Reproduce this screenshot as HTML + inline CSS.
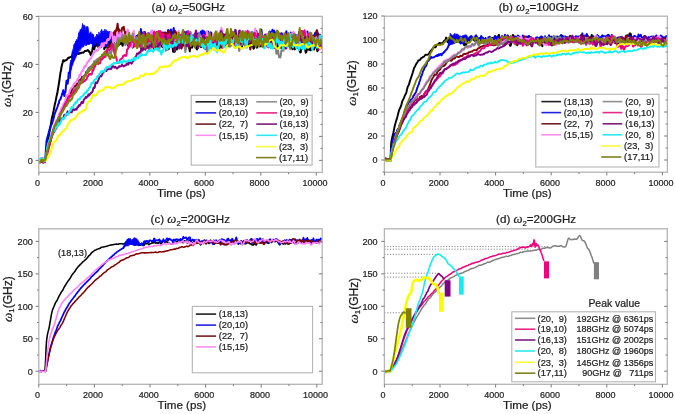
<!DOCTYPE html>
<html><head><meta charset="utf-8"><style>
html,body{margin:0;padding:0;background:#fff;width:675px;height:414px;overflow:hidden}
svg{display:block;filter:blur(0.3px)}
text{stroke:#1a1a1a;stroke-width:0.22px}
</style></head><body>
<svg width="675" height="414" viewBox="0 0 675 414">
<rect width="675" height="414" fill="#fff"/>
<clipPath id="ca"><rect x="38.80" y="16.40" width="283.50" height="156.00"/></clipPath>
<g clip-path="url(#ca)">
<path d="M38.80,161.50 L39.35,160.76 L39.91,160.20 L40.46,160.91 L41.02,161.08 L41.57,160.51 L42.13,160.39 L42.68,160.71 L43.24,161.10 L43.79,160.67 L44.35,160.47 L44.91,161.24 L45.46,159.37 L46.02,155.86 L46.57,151.96 L47.12,148.00 L47.68,143.68 L48.23,139.98 L48.79,135.82 L49.34,132.24 L49.90,129.54 L50.45,127.27 L51.01,123.45 L51.56,119.83 L52.12,117.11 L52.67,115.07 L53.23,112.33 L53.78,109.85 L54.34,107.02 L54.89,103.89 L55.45,101.91 L56.00,99.16 L56.56,96.23 L57.11,94.06 L57.67,91.04 L58.22,87.54 L58.78,84.22 L59.33,81.02 L59.89,76.71 L60.44,72.80 L61.00,70.37 L61.55,66.84 L62.11,64.43 L62.66,62.54 L63.22,60.28 L63.77,60.32 L64.33,61.15 L64.88,60.64 L65.44,60.18 L66.00,60.19 L66.55,59.81 L67.10,59.51 L67.66,58.56 L68.22,57.78 L68.77,58.00 L69.33,57.56 L69.88,57.26 L70.44,56.91 L70.99,56.99 L71.54,56.47 L72.10,55.62 L72.66,54.65 L73.21,54.58 L73.77,55.57 L74.32,55.35 L74.88,54.85 L75.43,55.55 L75.98,55.01 L76.54,54.15 L77.09,53.33 L77.65,53.44 L78.20,53.96 L78.76,54.01 L79.31,53.49 L79.87,52.73 L80.42,53.24 L80.98,53.21 L81.53,52.70 L82.09,52.58 L82.64,52.62 L83.20,52.70 L83.75,52.18 L84.31,51.74 L84.86,50.90 L85.42,50.86 L85.97,51.07 L86.53,50.79 L87.09,50.83 L87.64,50.12 L88.19,50.38 L88.75,50.78 L89.31,52.19 L89.86,51.99 L90.41,54.42 L90.97,55.23 L91.53,52.82 L92.08,51.72 L92.63,48.15 L93.19,44.62 L93.75,48.72 L94.30,49.42 L94.85,46.53 L95.41,44.99 L95.97,45.88 L96.52,45.27 L97.07,42.57 L97.63,43.49 L98.19,46.95 L98.74,45.44 L99.29,44.96 L99.85,46.39 L100.41,44.46 L100.96,44.24 L101.52,40.51 L102.07,40.84 L102.62,42.40 L103.18,43.99 L103.73,45.18 L104.29,49.21 L104.84,47.13 L105.40,44.40 L105.95,47.18 L106.51,43.69 L107.06,45.89 L107.62,42.90 L108.17,43.59 L108.73,41.33 L109.28,43.44 L109.84,46.21 L110.39,39.80 L110.95,38.11 L111.50,42.60 L112.06,44.84 L112.61,45.64 L113.17,45.85 L113.72,42.29 L114.28,44.46 L114.83,45.36 L115.39,46.88 L115.94,47.59 L116.50,46.58 L117.05,41.01 L117.61,41.15 L118.16,40.03 L118.72,42.21 L119.27,44.62 L119.83,44.26 L120.39,43.72 L120.94,42.37 L121.50,42.60 L122.05,43.62 L122.61,45.78 L123.16,42.51 L123.72,36.97 L124.27,41.43 L124.83,43.31 L125.38,38.66 L125.94,37.04 L126.49,43.09 L127.05,43.04 L127.60,44.37 L128.16,45.70 L128.71,40.57 L129.26,40.43 L129.82,41.95 L130.38,43.42 L130.93,42.07 L131.49,43.70 L132.04,44.87 L132.59,47.64 L133.15,46.61 L133.70,41.37 L134.26,43.51 L134.81,43.56 L135.37,44.39 L135.93,46.09 L136.48,45.71 L137.03,43.55 L137.59,45.07 L138.14,45.42 L138.70,43.67 L139.25,40.68 L139.81,41.34 L140.37,43.80 L140.92,47.74 L141.47,48.70 L142.03,42.69 L142.58,41.26 L143.14,43.55 L143.69,42.29 L144.25,40.65 L144.81,39.96 L145.36,40.75 L145.91,42.51 L146.47,40.70 L147.02,44.33 L147.58,41.02 L148.13,39.27 L148.69,37.13 L149.25,34.09 L149.80,36.83 L150.36,45.32 L150.91,47.06 L151.47,42.17 L152.02,43.80 L152.57,41.85 L153.13,41.01 L153.69,47.82 L154.24,49.31 L154.80,43.17 L155.35,41.63 L155.91,42.38 L156.46,42.89 L157.01,45.94 L157.57,47.46 L158.12,45.15 L158.68,46.79 L159.24,47.36 L159.79,42.38 L160.34,41.44 L160.90,42.10 L161.45,45.53 L162.01,46.48 L162.56,47.17 L163.12,46.21 L163.68,44.03 L164.23,44.72 L164.78,42.42 L165.34,39.85 L165.89,38.54 L166.45,44.68 L167.00,42.72 L167.56,43.54 L168.12,45.93 L168.67,49.23 L169.23,46.76 L169.78,43.24 L170.33,44.36 L170.89,45.16 L171.44,44.76 L172.00,42.33 L172.56,46.63 L173.11,51.73 L173.67,51.73 L174.22,51.73 L174.77,51.73 L175.33,49.11 L175.88,42.08 L176.44,44.96 L177.00,49.39 L177.55,47.74 L178.11,42.29 L178.66,42.89 L179.21,44.08 L179.77,44.23 L180.32,43.10 L180.88,40.86 L181.44,41.08 L181.99,43.46 L182.55,45.89 L183.10,43.77 L183.65,43.92 L184.21,42.32 L184.76,46.32 L185.32,45.38 L185.88,45.23 L186.43,45.78 L186.99,38.60 L187.54,38.27 L188.10,42.91 L188.65,41.96 L189.20,45.03 L189.76,51.27 L190.31,46.34 L190.87,44.28 L191.43,45.27 L191.98,47.72 L192.54,46.42 L193.09,43.95 L193.64,40.74 L194.20,42.17 L194.75,42.59 L195.31,40.78 L195.87,45.39 L196.42,48.57 L196.98,49.33 L197.53,41.62 L198.08,40.11 L198.64,41.19 L199.19,42.76 L199.75,44.74 L200.31,45.62 L200.86,46.92 L201.42,46.94 L201.97,44.61 L202.52,40.97 L203.08,42.79 L203.63,45.96 L204.19,47.96 L204.75,46.14 L205.30,40.50 L205.86,41.57 L206.41,44.11 L206.96,46.32 L207.52,47.57 L208.07,44.06 L208.63,41.23 L209.19,43.47 L209.74,43.99 L210.30,43.34 L210.85,43.87 L211.40,46.95 L211.96,45.13 L212.51,43.67 L213.07,40.69 L213.62,42.18 L214.18,38.86 L214.74,36.60 L215.29,41.18 L215.85,43.07 L216.40,41.32 L216.95,42.00 L217.51,43.42 L218.06,38.55 L218.62,34.79 L219.18,39.73 L219.73,42.69 L220.29,43.81 L220.84,42.28 L221.39,45.22 L221.95,43.96 L222.50,39.04 L223.06,40.85 L223.62,36.83 L224.17,34.93 L224.73,37.85 L225.28,37.05 L225.83,35.10 L226.39,40.60 L226.94,44.90 L227.50,46.28 L228.06,41.59 L228.61,36.61 L229.17,38.66 L229.72,44.73 L230.27,46.14 L230.83,44.24 L231.38,41.93 L231.94,41.99 L232.50,41.06 L233.05,40.87 L233.61,42.09 L234.16,41.53 L234.71,40.66 L235.27,40.39 L235.82,37.40 L236.38,34.16 L236.94,36.88 L237.49,41.47 L238.05,45.16 L238.60,43.37 L239.15,47.53 L239.71,45.99 L240.26,39.10 L240.82,38.22 L241.38,42.56 L241.93,46.86 L242.49,45.02 L243.04,43.26 L243.60,38.15 L244.15,34.33 L244.70,39.84 L245.26,45.42 L245.81,46.70 L246.37,44.16 L246.93,44.44 L247.48,46.22 L248.04,44.83 L248.59,44.94 L249.14,39.64 L249.70,37.54 L250.25,39.08 L250.81,42.69 L251.37,42.15 L251.92,43.37 L252.48,44.77 L253.03,45.95 L253.58,48.79 L254.14,47.88 L254.69,42.43 L255.25,42.46 L255.81,41.43 L256.36,41.54 L256.92,47.68 L257.47,46.64 L258.02,42.63 L258.58,41.57 L259.13,42.00 L259.69,39.45 L260.25,41.79 L260.80,46.29 L261.36,45.00 L261.91,39.93 L262.46,41.27 L263.02,44.95 L263.57,38.44 L264.13,36.44 L264.69,36.59 L265.24,40.78 L265.80,42.97 L266.35,41.59 L266.90,34.39 L267.46,36.82 L268.01,36.72 L268.57,40.92 L269.12,42.84 L269.68,46.25 L270.24,43.18 L270.79,40.32 L271.35,43.21 L271.90,39.72 L272.45,41.22 L273.01,45.66 L273.56,45.74 L274.12,44.92 L274.68,44.40 L275.23,45.89 L275.79,46.91 L276.34,46.63 L276.89,48.58 L277.45,48.83 L278.00,44.63 L278.56,43.08 L279.12,47.57 L279.67,46.23 L280.23,46.84 L280.78,46.44 L281.33,42.65 L281.89,42.62 L282.44,40.26 L283.00,43.60 L283.56,43.02 L284.11,44.08 L284.67,44.74 L285.22,42.00 L285.77,41.93 L286.33,41.07 L286.88,43.21 L287.44,45.82 L288.00,43.77 L288.55,41.39 L289.11,40.39 L289.66,44.10 L290.21,45.17 L290.77,46.93 L291.32,43.60 L291.88,47.08 L292.44,49.19 L292.99,43.93 L293.55,41.67 L294.10,47.94 L294.65,49.37 L295.21,48.70 L295.76,48.27 L296.32,45.83 L296.88,48.00 L297.43,48.00 L297.99,45.85 L298.54,47.57 L299.10,47.25 L299.65,50.77 L300.21,52.57 L300.76,52.12 L301.31,44.24 L301.87,46.24 L302.43,46.98 L302.98,47.02 L303.54,46.61 L304.09,44.72 L304.65,42.26 L305.20,49.30 L305.75,52.65 L306.31,52.05 L306.87,49.90 L307.42,43.74 L307.98,42.94 L308.53,48.17 L309.09,49.90 L309.64,45.50 L310.19,43.38 L310.75,50.31 L311.31,46.29 L311.86,45.44 L312.42,42.89 L312.97,46.19 L313.53,47.31 L314.08,49.54 L314.63,46.79 L315.19,39.99 L315.75,40.52 L316.30,45.27 L316.86,49.10 L317.41,51.17 L317.97,47.53 L318.52,45.06 L319.07,44.92 L319.63,46.13 L320.19,48.18 L320.74,46.14 L321.30,43.64" fill="none" stroke="#000000" stroke-width="2.0" stroke-linejoin="round"/>
<path d="M38.80,162.31 L39.35,161.29 L39.91,161.23 L40.46,160.61 L41.02,160.56 L41.57,161.40 L42.13,161.08 L42.68,159.89 L43.24,160.15 L43.79,160.50 L44.35,158.36 L44.91,158.32 L45.46,156.90 L46.02,147.73 L46.57,140.63 L47.12,138.40 L47.68,136.41 L48.23,134.43 L48.79,132.52 L49.34,130.42 L49.90,128.62 L50.45,126.25 L51.01,125.45 L51.56,124.42 L52.12,123.36 L52.67,121.18 L53.23,119.83 L53.78,117.42 L54.34,114.70 L54.89,113.34 L55.45,111.78 L56.00,110.35 L56.56,109.10 L57.11,107.80 L57.67,106.23 L58.22,104.21 L58.78,103.50 L59.33,100.59 L59.89,99.82 L60.44,99.15 L61.00,97.60 L61.55,95.99 L62.11,93.98 L62.66,92.68 L63.22,90.27 L63.77,93.42 L64.33,96.06 L64.88,92.56 L65.44,92.19 L66.00,85.89 L66.55,80.66 L67.10,80.61 L67.66,83.73 L68.22,80.14 L68.77,72.48 L69.33,72.99 L69.88,72.35 L70.44,67.43 L70.99,62.34 L71.54,63.36 L72.10,64.92 L72.66,62.69 L73.21,59.98 L73.77,60.34 L74.32,58.85 L74.88,54.68 L75.43,54.05 L75.98,50.53 L76.54,46.53 L77.09,41.15 L77.65,45.80 L78.20,44.48 L78.76,42.30 L79.31,38.91 L79.87,36.35 L80.42,38.45 L80.98,39.24 L81.53,39.73 L82.09,36.45 L82.64,31.91 L83.20,32.64 L83.75,35.68 L84.31,35.46 L84.86,34.96 L85.42,35.28 L85.97,38.24 L86.53,39.43 L87.09,43.15 L87.64,41.17 L88.19,36.59 L88.75,43.72 L89.31,41.51 L89.86,39.77 L90.41,41.56 L90.97,42.92 L91.53,41.60 L92.08,41.33 L92.63,42.82 L93.19,46.50 L93.75,43.81 L94.30,44.39 L94.85,43.56 L95.41,41.11 L95.97,39.35 L96.52,39.18 L97.07,41.48 L97.63,38.41 L98.19,36.71 L98.74,36.25 L99.29,36.35 L99.85,39.82 L100.41,39.98 L100.96,38.59 L101.52,42.25 L102.07,39.83 L102.62,40.39 L103.18,41.05 L103.73,43.64 L104.29,41.58 L104.84,38.09 L105.40,34.99 L105.95,34.65 L106.51,37.19 L107.06,38.39 L107.62,39.18 L108.17,36.75 L108.73,36.96 L109.28,34.39 L109.84,31.99 L110.39,36.58 L110.95,40.69 L111.50,40.33 L112.06,41.13 L112.61,39.34 L113.17,33.89 L113.72,35.94 L114.28,39.37 L114.83,34.93 L115.39,33.19 L115.94,36.83 L116.50,38.34 L117.05,37.41 L117.61,35.58 L118.16,34.09 L118.72,32.63 L119.27,32.31 L119.83,32.34 L120.39,32.46 L120.94,35.39 L121.50,40.27 L122.05,38.16 L122.61,36.86 L123.16,37.67 L123.72,35.99 L124.27,38.76 L124.83,39.68 L125.38,35.13 L125.94,36.06 L126.49,37.36 L127.05,36.10 L127.60,36.01 L128.16,39.41 L128.71,45.51 L129.26,42.92 L129.82,41.71 L130.38,42.09 L130.93,38.98 L131.49,36.83 L132.04,40.39 L132.59,40.87 L133.15,35.04 L133.70,39.22 L134.26,41.34 L134.81,37.95 L135.37,36.99 L135.93,38.34 L136.48,35.92 L137.03,38.00 L137.59,38.83 L138.14,35.90 L138.70,34.43 L139.25,36.60 L139.81,35.19 L140.37,33.81 L140.92,29.12 L141.47,34.46 L142.03,32.39 L142.58,34.64 L143.14,35.20 L143.69,33.24 L144.25,32.26 L144.81,32.00 L145.36,34.74 L145.91,37.64 L146.47,37.67 L147.02,35.37 L147.58,34.38 L148.13,33.22 L148.69,34.92 L149.25,33.94 L149.80,33.53 L150.36,37.59 L150.91,42.25 L151.47,42.74 L152.02,41.50 L152.57,35.95 L153.13,38.69 L153.69,35.50 L154.24,35.07 L154.80,33.04 L155.35,34.53 L155.91,37.38 L156.46,37.84 L157.01,36.91 L157.57,36.65 L158.12,37.64 L158.68,35.62 L159.24,33.09 L159.79,38.48 L160.34,36.18 L160.90,36.88 L161.45,34.34 L162.01,32.46 L162.56,33.53 L163.12,33.30 L163.68,36.70 L164.23,32.61 L164.78,34.30 L165.34,32.64 L165.89,34.58 L166.45,40.30 L167.00,37.08 L167.56,33.01 L168.12,30.10 L168.67,32.42 L169.23,34.28 L169.78,36.67 L170.33,30.86 L170.89,29.47 L171.44,33.69 L172.00,36.23 L172.56,38.31 L173.11,32.29 L173.67,28.06 L174.22,31.20 L174.77,31.60 L175.33,33.99 L175.88,36.78 L176.44,33.82 L177.00,38.04 L177.55,36.93 L178.11,34.94 L178.66,33.59 L179.21,34.44 L179.77,35.52 L180.32,38.59 L180.88,39.76 L181.44,37.36 L181.99,38.74 L182.55,40.54 L183.10,40.31 L183.65,39.22 L184.21,41.63 L184.76,41.33 L185.32,40.61 L185.88,36.30 L186.43,33.75 L186.99,31.86 L187.54,38.67 L188.10,37.86 L188.65,34.30 L189.20,36.07 L189.76,35.78 L190.31,32.25 L190.87,36.33 L191.43,39.48 L191.98,39.31 L192.54,35.45 L193.09,35.42 L193.64,39.00 L194.20,38.03 L194.75,34.06 L195.31,33.60 L195.87,35.54 L196.42,33.16 L196.98,33.78 L197.53,38.35 L198.08,35.76 L198.64,33.73 L199.19,36.49 L199.75,39.67 L200.31,35.64 L200.86,31.74 L201.42,31.45 L201.97,37.20 L202.52,30.44 L203.08,35.45 L203.63,32.76 L204.19,31.31 L204.75,32.48 L205.30,35.60 L205.86,38.41 L206.41,36.04 L206.96,39.43 L207.52,41.58 L208.07,31.49 L208.63,32.94 L209.19,33.27 L209.74,37.84 L210.30,33.89 L210.85,32.36 L211.40,33.35 L211.96,37.83 L212.51,40.99 L213.07,40.47 L213.62,44.34 L214.18,43.26 L214.74,39.34 L215.29,40.29 L215.85,38.85 L216.40,36.96 L216.95,32.42 L217.51,33.41 L218.06,36.14 L218.62,35.07 L219.18,38.70 L219.73,38.06 L220.29,36.11 L220.84,39.88 L221.39,39.47 L221.95,40.55 L222.50,36.95 L223.06,34.00 L223.62,38.23 L224.17,38.05 L224.73,40.38 L225.28,41.73 L225.83,40.57 L226.39,33.81 L226.94,31.22 L227.50,35.78 L228.06,38.84 L228.61,36.73 L229.17,37.60 L229.72,35.68 L230.27,36.07 L230.83,36.03 L231.38,35.77 L231.94,38.08 L232.50,38.93 L233.05,41.00 L233.61,39.14 L234.16,39.81 L234.71,37.70 L235.27,38.15 L235.82,35.87 L236.38,35.49 L236.94,39.35 L237.49,39.13 L238.05,38.19 L238.60,33.85 L239.15,31.26 L239.71,33.57 L240.26,36.06 L240.82,34.44 L241.38,38.88 L241.93,35.03 L242.49,39.80 L243.04,43.09 L243.60,32.41 L244.15,33.47 L244.70,39.67 L245.26,38.73 L245.81,38.89 L246.37,39.35 L246.93,42.47 L247.48,40.83 L248.04,37.78 L248.59,37.06 L249.14,35.43 L249.70,36.09 L250.25,33.05 L250.81,38.25 L251.37,38.85 L251.92,42.86 L252.48,40.89 L253.03,35.57 L253.58,38.38 L254.14,36.41 L254.69,37.39 L255.25,39.53 L255.81,38.46 L256.36,38.35 L256.92,37.61 L257.47,34.72 L258.02,34.96 L258.58,38.13 L259.13,38.99 L259.69,36.68 L260.25,36.29 L260.80,33.00 L261.36,29.68 L261.91,33.59 L262.46,36.89 L263.02,38.21 L263.57,40.00 L264.13,40.61 L264.69,40.52 L265.24,39.14 L265.80,38.14 L266.35,35.99 L266.90,37.80 L267.46,38.44 L268.01,38.93 L268.57,33.29 L269.12,33.39 L269.68,31.41 L270.24,32.46 L270.79,32.25 L271.35,35.22 L271.90,32.70 L272.45,29.65 L273.01,36.26 L273.56,32.55 L274.12,30.69 L274.68,33.21 L275.23,32.93 L275.79,32.78 L276.34,36.60 L276.89,36.11 L277.45,38.65 L278.00,39.13 L278.56,38.82 L279.12,37.68 L279.67,36.76 L280.23,37.14 L280.78,39.61 L281.33,33.19 L281.89,33.55 L282.44,35.77 L283.00,38.54 L283.56,38.17 L284.11,36.54 L284.67,37.65 L285.22,41.18 L285.77,35.18 L286.33,31.16 L286.88,39.45 L287.44,35.60 L288.00,35.52 L288.55,35.95 L289.11,33.99 L289.66,38.27 L290.21,35.60 L290.77,32.51 L291.32,35.74 L291.88,36.84 L292.44,35.93 L292.99,35.72 L293.55,32.65 L294.10,36.31 L294.65,34.70 L295.21,37.63 L295.76,34.71 L296.32,36.90 L296.88,41.79 L297.43,37.66 L297.99,38.29 L298.54,36.20 L299.10,32.62 L299.65,37.78 L300.21,37.71 L300.76,32.43 L301.31,33.27 L301.87,31.35 L302.43,34.21 L302.98,37.38 L303.54,35.40 L304.09,32.00 L304.65,32.53 L305.20,35.00 L305.75,35.62 L306.31,36.31 L306.87,36.11 L307.42,31.55 L307.98,35.44 L308.53,39.01 L309.09,37.46 L309.64,34.28 L310.19,34.29 L310.75,36.58 L311.31,37.98 L311.86,37.70 L312.42,41.20 L312.97,40.07 L313.53,35.54 L314.08,36.83 L314.63,34.99 L315.19,32.75 L315.75,33.93 L316.30,34.47 L316.86,30.56 L317.41,33.36 L317.97,35.97 L318.52,34.09 L319.07,34.92 L319.63,37.53 L320.19,36.15 L320.74,37.20 L321.30,40.58" fill="none" stroke="#0000f8" stroke-width="2.0" stroke-linejoin="round"/>
<path d="M69.88,70.23 L70.21,63.62 L70.55,62.59 L70.88,60.02 L71.21,61.09 L71.54,58.99 L71.88,53.40 L72.21,51.35 L72.54,50.81 L72.88,49.38 L73.21,49.67 L73.54,47.06 L73.88,44.61 L74.21,44.36 L74.54,47.44 L74.88,43.08 L75.21,44.26 L75.54,41.19 L75.87,45.73 L76.21,41.08 L76.54,39.33 L76.87,42.64 L77.21,41.21 L77.54,41.26 L77.87,37.33 L78.20,36.52 L78.54,33.40 L78.87,34.21 L79.20,31.62 L79.54,34.77 L79.87,31.60 L80.20,29.60 L80.54,30.12 L80.87,29.40 L81.20,28.93 L81.53,28.33 L81.87,27.79 L82.20,26.52 L82.53,23.48 L82.87,30.53 L83.20,26.12 L83.53,26.48 L83.87,24.79 L84.20,27.95 L84.53,25.72 L84.86,25.70 L85.20,27.25 L85.53,31.25 L85.86,31.30 L86.20,26.66 L86.53,26.63 L86.86,27.53 L87.20,26.31 L87.53,28.71 L87.86,26.89 L88.19,28.27 L88.53,29.68 L88.86,34.41 L89.19,33.23 L89.53,36.28 L89.86,32.78 L90.19,33.43 L90.53,35.21 L90.86,31.71 L91.19,34.25 L91.53,33.93 L91.86,35.49 L92.19,35.35 L92.52,33.63 L92.86,39.55 L93.19,34.47 L93.52,34.63 L93.86,36.92 L94.19,37.01 L94.52,40.44 L94.85,38.13 L95.19,37.43 L95.52,36.47 L95.85,37.48 L96.19,40.09 L96.52,34.37 L96.85,35.36 L97.19,34.26 L97.52,36.04 L97.85,35.36 L98.19,36.84 L98.52,36.44 L98.85,31.92 L99.18,33.39 L99.52,33.39 L99.85,35.58 L100.18,33.68 L100.52,33.76 L100.85,30.92 L101.18,31.83 L101.52,29.43 L101.85,29.45 L102.18,31.54 L102.51,33.15 L102.85,31.22 L103.18,32.92 L103.51,34.63 L103.85,30.64 L104.18,32.43 L104.51,30.45 L104.84,29.19 L105.18,29.94 L105.51,32.55 L105.84,32.37 L106.18,29.70 L106.51,30.51 L106.84,32.98 L107.18,31.27 L107.51,31.28 L107.84,34.04 L108.17,31.27 L108.51,32.59 L108.84,32.45 L109.17,32.98 L109.51,34.93 L109.84,34.50 L110.17,35.92 L110.51,35.89 L110.84,38.17 L111.17,39.72 L111.50,35.95 L111.84,36.30 L112.17,35.83 L112.50,36.99 L112.84,37.47 L112.84,40.44 L112.50,42.05 L112.17,34.22 L111.84,40.84 L111.50,40.76 L111.17,40.66 L110.84,33.66 L110.51,39.50 L110.17,38.58 L109.84,40.42 L109.51,40.85 L109.17,42.09 L108.84,39.92 L108.51,42.58 L108.17,44.56 L107.84,43.58 L107.51,46.01 L107.18,44.45 L106.84,46.53 L106.51,46.31 L106.18,46.51 L105.84,47.03 L105.51,45.53 L105.18,44.21 L104.84,45.40 L104.51,46.42 L104.18,45.14 L103.85,42.99 L103.51,46.90 L103.18,46.16 L102.85,45.04 L102.51,45.58 L102.18,43.83 L101.85,47.30 L101.52,47.67 L101.18,47.81 L100.85,46.18 L100.52,47.40 L100.18,48.20 L99.85,47.26 L99.52,47.05 L99.18,44.77 L98.85,45.83 L98.52,45.07 L98.19,45.73 L97.85,45.69 L97.52,44.84 L97.19,44.66 L96.85,41.49 L96.52,42.91 L96.19,41.24 L95.85,40.27 L95.52,41.02 L95.19,43.96 L94.85,42.09 L94.52,40.93 L94.19,43.41 L93.86,44.84 L93.52,43.70 L93.19,43.66 L92.86,42.57 L92.52,45.07 L92.19,43.80 L91.86,34.91 L91.53,42.96 L91.19,43.83 L90.86,42.94 L90.53,36.85 L90.19,42.08 L89.86,42.88 L89.53,41.14 L89.19,44.66 L88.86,41.18 L88.53,42.02 L88.19,44.93 L87.86,44.46 L87.53,44.45 L87.20,41.72 L86.86,41.64 L86.53,45.68 L86.20,44.67 L85.86,45.32 L85.53,39.37 L85.20,45.63 L84.86,45.38 L84.53,43.81 L84.20,42.80 L83.87,46.63 L83.53,46.83 L83.20,42.69 L82.87,45.60 L82.53,46.09 L82.20,47.61 L81.87,45.95 L81.53,47.25 L81.20,48.45 L80.87,49.30 L80.54,49.29 L80.20,47.63 L79.87,51.12 L79.54,48.00 L79.20,49.37 L78.87,50.98 L78.54,51.63 L78.20,53.48 L77.87,53.88 L77.54,53.78 L77.21,54.71 L76.87,52.62 L76.54,55.96 L76.21,51.38 L75.87,57.58 L75.54,47.03 L75.21,57.29 L74.88,59.49 L74.54,59.63 L74.21,60.15 L73.88,58.94 L73.54,60.74 L73.21,59.98 L72.88,62.38 L72.54,61.23 L72.21,64.51 L71.88,66.26 L71.54,69.12 L71.21,69.86 L70.88,70.86 L70.55,73.45 L70.21,78.59 L69.88,78.76 Z" fill="#0000f8" stroke="#0000f8" stroke-width="0.8" stroke-linejoin="round"/>
<path d="M38.80,160.70 L39.35,160.93 L39.91,161.54 L40.46,160.85 L41.02,159.62 L41.57,158.90 L42.13,159.71 L42.68,160.21 L43.24,159.79 L43.79,159.59 L44.35,159.39 L44.91,160.03 L45.46,159.70 L46.02,157.21 L46.57,154.63 L47.12,152.14 L47.68,150.09 L48.23,148.90 L48.79,147.05 L49.34,145.03 L49.90,143.12 L50.45,140.33 L51.01,138.44 L51.56,137.28 L52.12,134.24 L52.67,132.02 L53.23,130.47 L53.78,127.92 L54.34,126.62 L54.89,126.73 L55.45,124.59 L56.00,123.04 L56.56,121.66 L57.11,120.35 L57.67,120.05 L58.22,119.11 L58.78,117.92 L59.33,116.47 L59.89,115.05 L60.44,114.49 L61.00,112.89 L61.55,110.55 L62.11,109.30 L62.66,108.53 L63.22,108.64 L63.77,107.20 L64.33,105.49 L64.88,104.01 L65.44,102.82 L66.00,101.03 L66.55,100.27 L67.10,99.40 L67.66,98.19 L68.22,96.95 L68.77,96.23 L69.33,94.56 L69.88,93.78 L70.44,93.26 L70.99,92.40 L71.54,91.07 L72.10,89.75 L72.66,88.97 L73.21,88.48 L73.77,87.66 L74.32,87.04 L74.88,86.01 L75.43,86.43 L75.98,86.64 L76.54,84.31 L77.09,83.95 L77.65,84.23 L78.20,83.31 L78.76,82.10 L79.31,79.82 L79.87,80.05 L80.42,80.73 L80.98,79.26 L81.53,78.15 L82.09,76.78 L82.64,77.97 L83.20,78.31 L83.75,76.37 L84.31,75.42 L84.86,75.29 L85.42,75.20 L85.97,72.80 L86.53,71.45 L87.09,72.27 L87.64,70.69 L88.19,69.79 L88.75,67.92 L89.31,68.09 L89.86,68.05 L90.41,66.83 L90.97,66.59 L91.53,66.62 L92.08,65.71 L92.63,65.99 L93.19,65.68 L93.75,63.28 L94.30,63.53 L94.85,63.52 L95.41,62.86 L95.97,63.39 L96.52,62.95 L97.07,61.75 L97.63,60.83 L98.19,59.60 L98.74,58.56 L99.29,58.68 L99.85,57.86 L100.41,57.46 L100.96,57.81 L101.52,57.05 L102.07,56.53 L102.62,54.97 L103.18,54.32 L103.73,54.65 L104.29,55.13 L104.84,53.83 L105.40,53.06 L105.95,51.22 L106.51,51.26 L107.06,51.08 L107.62,47.95 L108.17,47.07 L108.73,47.56 L109.28,45.09 L109.84,45.89 L110.39,45.76 L110.95,44.60 L111.50,45.15 L112.06,43.91 L112.61,40.21 L113.17,33.96 L113.72,32.45 L114.28,34.34 L114.83,31.12 L115.39,32.38 L115.94,31.19 L116.50,28.96 L117.05,27.34 L117.61,23.70 L118.16,29.23 L118.72,33.17 L119.27,29.37 L119.83,32.00 L120.39,36.19 L120.94,40.02 L121.50,31.49 L122.05,28.12 L122.61,28.13 L123.16,27.14 L123.72,26.83 L124.27,30.51 L124.83,31.59 L125.38,35.58 L125.94,35.24 L126.49,32.12 L127.05,34.91 L127.60,39.43 L128.16,37.46 L128.71,38.46 L129.26,39.94 L129.82,38.20 L130.38,40.74 L130.93,44.45 L131.49,41.58 L132.04,36.16 L132.59,40.95 L133.15,38.83 L133.70,36.14 L134.26,37.54 L134.81,42.04 L135.37,40.87 L135.93,38.05 L136.48,37.15 L137.03,41.14 L137.59,41.87 L138.14,36.05 L138.70,34.31 L139.25,37.24 L139.81,39.81 L140.37,38.15 L140.92,37.31 L141.47,37.55 L142.03,41.48 L142.58,39.96 L143.14,40.36 L143.69,41.96 L144.25,39.29 L144.81,38.90 L145.36,39.58 L145.91,39.56 L146.47,42.62 L147.02,40.02 L147.58,37.40 L148.13,36.57 L148.69,36.85 L149.25,43.00 L149.80,44.44 L150.36,39.45 L150.91,35.31 L151.47,31.78 L152.02,35.92 L152.57,40.09 L153.13,38.55 L153.69,42.12 L154.24,41.37 L154.80,32.39 L155.35,34.31 L155.91,35.37 L156.46,34.16 L157.01,32.09 L157.57,34.27 L158.12,35.37 L158.68,41.18 L159.24,41.49 L159.79,33.59 L160.34,31.42 L160.90,34.28 L161.45,36.16 L162.01,37.41 L162.56,37.59 L163.12,32.82 L163.68,33.17 L164.23,34.45 L164.78,34.26 L165.34,32.89 L165.89,33.51 L166.45,35.18 L167.00,38.62 L167.56,33.95 L168.12,31.21 L168.67,35.63 L169.23,36.13 L169.78,32.76 L170.33,31.94 L170.89,35.12 L171.44,39.99 L172.00,38.05 L172.56,40.60 L173.11,40.02 L173.67,36.78 L174.22,36.81 L174.77,32.36 L175.33,31.20 L175.88,32.18 L176.44,36.84 L177.00,41.93 L177.55,43.71 L178.11,44.60 L178.66,44.40 L179.21,45.36 L179.77,44.53 L180.32,43.92 L180.88,46.43 L181.44,48.54 L181.99,47.14 L182.55,42.27 L183.10,40.61 L183.65,38.24 L184.21,38.68 L184.76,41.78 L185.32,42.38 L185.88,43.72 L186.43,36.21 L186.99,37.11 L187.54,43.14 L188.10,45.92 L188.65,44.73 L189.20,48.46 L189.76,45.88 L190.31,40.97 L190.87,41.67 L191.43,42.39 L191.98,40.67 L192.54,43.48 L193.09,42.32 L193.64,43.47 L194.20,43.79 L194.75,41.62 L195.31,41.47 L195.87,36.86 L196.42,38.52 L196.98,36.58 L197.53,41.28 L198.08,41.32 L198.64,45.04 L199.19,45.67 L199.75,41.04 L200.31,39.89 L200.86,42.49 L201.42,39.35 L201.97,41.64 L202.52,40.59 L203.08,38.83 L203.63,40.22 L204.19,43.42 L204.75,37.06 L205.30,37.71 L205.86,42.23 L206.41,45.78 L206.96,48.00 L207.52,45.82 L208.07,40.93 L208.63,42.37 L209.19,44.86 L209.74,41.93 L210.30,37.28 L210.85,40.88 L211.40,41.61 L211.96,37.34 L212.51,38.48 L213.07,41.38 L213.62,44.85 L214.18,47.98 L214.74,47.23 L215.29,44.61 L215.85,42.56 L216.40,40.45 L216.95,39.69 L217.51,40.57 L218.06,42.36 L218.62,47.22 L219.18,50.28 L219.73,47.28 L220.29,46.61 L220.84,45.82 L221.39,45.50 L221.95,47.78 L222.50,47.35 L223.06,44.09 L223.62,43.13 L224.17,43.90 L224.73,42.07 L225.28,43.72 L225.83,45.49 L226.39,41.34 L226.94,37.35 L227.50,40.80 L228.06,37.67 L228.61,35.10 L229.17,36.67 L229.72,40.35 L230.27,36.41 L230.83,39.42 L231.38,42.26 L231.94,41.79 L232.50,39.92 L233.05,40.82 L233.61,40.61 L234.16,38.76 L234.71,43.41 L235.27,44.52 L235.82,39.69 L236.38,37.77 L236.94,38.85 L237.49,42.59 L238.05,39.12 L238.60,37.49 L239.15,37.33 L239.71,43.27 L240.26,42.58 L240.82,43.86 L241.38,47.01 L241.93,43.82 L242.49,39.07 L243.04,41.76 L243.60,42.22 L244.15,37.57 L244.70,35.45 L245.26,36.92 L245.81,41.15 L246.37,39.66 L246.93,37.44 L247.48,41.11 L248.04,41.30 L248.59,36.11 L249.14,35.16 L249.70,43.71 L250.25,49.50 L250.81,47.24 L251.37,43.81 L251.92,39.92 L252.48,37.55 L253.03,39.47 L253.58,41.00 L254.14,40.23 L254.69,41.66 L255.25,40.56 L255.81,37.94 L256.36,30.96 L256.92,34.50 L257.47,41.29 L258.02,43.04 L258.58,42.86 L259.13,44.83 L259.69,43.30 L260.25,40.74 L260.80,37.33 L261.36,39.88 L261.91,42.85 L262.46,44.70 L263.02,43.70 L263.57,40.43 L264.13,38.42 L264.69,36.40 L265.24,38.51 L265.80,36.31 L266.35,37.46 L266.90,41.21 L267.46,46.71 L268.01,44.71 L268.57,37.61 L269.12,34.92 L269.68,37.31 L270.24,38.37 L270.79,41.50 L271.35,43.08 L271.90,42.50 L272.45,38.95 L273.01,39.96 L273.56,42.55 L274.12,42.77 L274.68,40.81 L275.23,41.84 L275.79,42.95 L276.34,38.34 L276.89,40.23 L277.45,40.84 L278.00,37.36 L278.56,38.21 L279.12,41.17 L279.67,42.06 L280.23,45.62 L280.78,47.37 L281.33,48.00 L281.89,42.43 L282.44,45.13 L283.00,42.09 L283.56,43.90 L284.11,44.81 L284.67,42.12 L285.22,39.43 L285.77,36.67 L286.33,34.32 L286.88,36.74 L287.44,38.16 L288.00,40.69 L288.55,39.03 L289.11,40.03 L289.66,42.03 L290.21,41.60 L290.77,40.87 L291.32,39.90 L291.88,39.99 L292.44,42.57 L292.99,42.71 L293.55,41.11 L294.10,45.41 L294.65,42.60 L295.21,39.54 L295.76,47.44 L296.32,44.51 L296.88,40.74 L297.43,41.75 L297.99,36.92 L298.54,43.49 L299.10,36.85 L299.65,33.23 L300.21,36.00 L300.76,39.50 L301.31,40.33 L301.87,41.82 L302.43,40.16 L302.98,43.19 L303.54,41.48 L304.09,39.19 L304.65,43.21 L305.20,42.68 L305.75,41.89 L306.31,43.06 L306.87,38.12 L307.42,39.72 L307.98,44.24 L308.53,42.52 L309.09,42.80 L309.64,42.18 L310.19,40.44 L310.75,40.03 L311.31,37.35 L311.86,38.56 L312.42,36.15 L312.97,36.42 L313.53,36.16 L314.08,39.30 L314.63,41.22 L315.19,41.34 L315.75,36.60 L316.30,32.68 L316.86,30.32 L317.41,32.35 L317.97,36.95 L318.52,39.10 L319.07,38.53 L319.63,37.88 L320.19,34.83 L320.74,36.96 L321.30,42.67" fill="none" stroke="#800000" stroke-width="2.0" stroke-linejoin="round"/>
<path d="M38.80,160.12 L39.35,159.56 L39.91,160.36 L40.46,160.57 L41.02,160.49 L41.57,159.93 L42.13,160.85 L42.68,159.94 L43.24,158.42 L43.79,159.14 L44.35,159.53 L44.91,160.21 L45.46,159.49 L46.02,156.11 L46.57,153.22 L47.12,151.26 L47.68,147.91 L48.23,144.60 L48.79,143.00 L49.34,142.88 L49.90,141.37 L50.45,139.13 L51.01,135.57 L51.56,133.45 L52.12,132.24 L52.67,131.86 L53.23,130.58 L53.78,128.16 L54.34,126.52 L54.89,125.43 L55.45,123.30 L56.00,121.30 L56.56,120.37 L57.11,120.28 L57.67,119.50 L58.22,116.85 L58.78,114.74 L59.33,113.59 L59.89,112.53 L60.44,111.07 L61.00,108.96 L61.55,107.84 L62.11,106.94 L62.66,106.39 L63.22,104.99 L63.77,103.43 L64.33,102.98 L64.88,102.05 L65.44,99.86 L66.00,97.56 L66.55,96.46 L67.10,95.10 L67.66,94.98 L68.22,94.78 L68.77,94.40 L69.33,92.53 L69.88,90.09 L70.44,89.31 L70.99,88.37 L71.54,87.58 L72.10,87.29 L72.66,86.67 L73.21,85.46 L73.77,84.15 L74.32,83.30 L74.88,82.58 L75.43,82.24 L75.98,82.07 L76.54,81.26 L77.09,80.30 L77.65,78.97 L78.20,79.42 L78.76,77.25 L79.31,74.65 L79.87,75.34 L80.42,75.46 L80.98,73.62 L81.53,71.79 L82.09,71.41 L82.64,70.42 L83.20,69.78 L83.75,68.41 L84.31,66.18 L84.86,66.40 L85.42,66.73 L85.97,65.73 L86.53,64.11 L87.09,62.82 L87.64,61.79 L88.19,61.67 L88.75,61.61 L89.31,59.86 L89.86,59.06 L90.41,58.59 L90.97,58.27 L91.53,56.94 L92.08,55.67 L92.63,54.60 L93.19,54.19 L93.75,52.60 L94.30,51.77 L94.85,51.95 L95.41,51.43 L95.97,50.56 L96.52,49.73 L97.07,50.88 L97.63,50.06 L98.19,49.76 L98.74,48.42 L99.29,47.13 L99.85,47.31 L100.41,47.06 L100.96,46.50 L101.52,43.82 L102.07,43.19 L102.62,43.85 L103.18,46.59 L103.73,46.05 L104.29,42.68 L104.84,42.96 L105.40,42.96 L105.95,42.39 L106.51,43.24 L107.06,40.04 L107.62,39.20 L108.17,39.02 L108.73,39.99 L109.28,38.53 L109.84,38.65 L110.39,34.39 L110.95,31.83 L111.50,32.42 L112.06,33.72 L112.61,37.17 L113.17,43.32 L113.72,37.26 L114.28,36.46 L114.83,36.82 L115.39,38.81 L115.94,41.64 L116.50,39.00 L117.05,33.83 L117.61,32.58 L118.16,38.34 L118.72,39.13 L119.27,34.92 L119.83,36.50 L120.39,32.34 L120.94,36.48 L121.50,39.45 L122.05,34.36 L122.61,33.59 L123.16,39.21 L123.72,35.49 L124.27,36.22 L124.83,34.88 L125.38,40.04 L125.94,43.44 L126.49,38.00 L127.05,33.23 L127.60,29.58 L128.16,30.60 L128.71,35.16 L129.26,39.49 L129.82,41.23 L130.38,41.47 L130.93,42.41 L131.49,43.67 L132.04,46.95 L132.59,41.39 L133.15,36.46 L133.70,30.77 L134.26,34.91 L134.81,39.67 L135.37,40.06 L135.93,44.03 L136.48,45.46 L137.03,45.33 L137.59,37.77 L138.14,38.84 L138.70,43.90 L139.25,41.53 L139.81,37.92 L140.37,38.43 L140.92,40.66 L141.47,44.37 L142.03,44.25 L142.58,41.02 L143.14,39.61 L143.69,44.22 L144.25,44.58 L144.81,40.19 L145.36,41.83 L145.91,38.66 L146.47,38.27 L147.02,36.13 L147.58,33.84 L148.13,35.94 L148.69,38.50 L149.25,43.16 L149.80,42.62 L150.36,37.17 L150.91,32.83 L151.47,31.07 L152.02,30.34 L152.57,35.33 L153.13,36.76 L153.69,35.41 L154.24,37.49 L154.80,39.59 L155.35,40.44 L155.91,37.35 L156.46,39.70 L157.01,38.94 L157.57,40.49 L158.12,37.04 L158.68,38.93 L159.24,38.06 L159.79,42.26 L160.34,39.73 L160.90,35.88 L161.45,39.32 L162.01,39.60 L162.56,42.47 L163.12,45.92 L163.68,40.08 L164.23,38.70 L164.78,41.56 L165.34,39.79 L165.89,42.55 L166.45,43.67 L167.00,41.60 L167.56,39.60 L168.12,35.37 L168.67,41.40 L169.23,38.32 L169.78,38.44 L170.33,46.68 L170.89,46.59 L171.44,40.39 L172.00,39.87 L172.56,37.31 L173.11,35.58 L173.67,39.97 L174.22,45.18 L174.77,46.97 L175.33,41.54 L175.88,40.26 L176.44,37.52 L177.00,37.89 L177.55,39.29 L178.11,32.11 L178.66,30.95 L179.21,34.31 L179.77,39.88 L180.32,39.83 L180.88,39.32 L181.44,39.67 L181.99,39.94 L182.55,36.11 L183.10,34.90 L183.65,35.47 L184.21,36.04 L184.76,32.81 L185.32,37.35 L185.88,45.08 L186.43,41.23 L186.99,36.21 L187.54,33.74 L188.10,36.48 L188.65,38.14 L189.20,38.10 L189.76,35.85 L190.31,38.14 L190.87,40.04 L191.43,39.52 L191.98,37.18 L192.54,40.47 L193.09,42.88 L193.64,38.80 L194.20,39.45 L194.75,37.71 L195.31,35.87 L195.87,33.70 L196.42,35.20 L196.98,40.04 L197.53,41.77 L198.08,41.70 L198.64,35.15 L199.19,34.73 L199.75,34.94 L200.31,40.82 L200.86,43.95 L201.42,36.39 L201.97,36.70 L202.52,37.83 L203.08,37.23 L203.63,35.52 L204.19,37.20 L204.75,40.73 L205.30,36.47 L205.86,38.24 L206.41,37.18 L206.96,31.33 L207.52,32.79 L208.07,39.00 L208.63,42.87 L209.19,38.10 L209.74,35.64 L210.30,38.40 L210.85,42.30 L211.40,42.82 L211.96,42.31 L212.51,37.77 L213.07,34.32 L213.62,34.96 L214.18,39.10 L214.74,37.82 L215.29,37.04 L215.85,39.36 L216.40,36.94 L216.95,31.60 L217.51,34.15 L218.06,35.35 L218.62,38.13 L219.18,39.76 L219.73,42.57 L220.29,37.74 L220.84,31.13 L221.39,27.81 L221.95,30.02 L222.50,33.21 L223.06,36.45 L223.62,38.67 L224.17,37.34 L224.73,36.06 L225.28,37.77 L225.83,36.30 L226.39,41.34 L226.94,45.14 L227.50,44.64 L228.06,45.53 L228.61,42.76 L229.17,36.37 L229.72,37.28 L230.27,36.41 L230.83,33.20 L231.38,33.76 L231.94,37.09 L232.50,34.52 L233.05,35.93 L233.61,37.69 L234.16,38.87 L234.71,43.41 L235.27,42.72 L235.82,39.30 L236.38,37.40 L236.94,39.26 L237.49,38.35 L238.05,34.32 L238.60,32.42 L239.15,33.38 L239.71,34.36 L240.26,38.78 L240.82,39.59 L241.38,38.26 L241.93,39.48 L242.49,38.34 L243.04,33.91 L243.60,37.80 L244.15,40.20 L244.70,35.06 L245.26,30.99 L245.81,33.37 L246.37,33.31 L246.93,37.05 L247.48,38.94 L248.04,38.74 L248.59,35.03 L249.14,31.32 L249.70,35.15 L250.25,32.50 L250.81,36.64 L251.37,35.77 L251.92,31.94 L252.48,31.79 L253.03,35.06 L253.58,39.25 L254.14,36.63 L254.69,35.00 L255.25,28.58 L255.81,33.01 L256.36,36.29 L256.92,39.60 L257.47,40.03 L258.02,39.67 L258.58,35.17 L259.13,35.96 L259.69,36.36 L260.25,39.33 L260.80,38.53 L261.36,35.72 L261.91,41.72 L262.46,44.54 L263.02,40.67 L263.57,42.35 L264.13,40.52 L264.69,37.61 L265.24,39.67 L265.80,37.99 L266.35,38.64 L266.90,33.94 L267.46,34.13 L268.01,39.50 L268.57,41.38 L269.12,41.94 L269.68,38.58 L270.24,37.37 L270.79,41.80 L271.35,39.89 L271.90,43.88 L272.45,45.69 L273.01,43.98 L273.56,35.31 L274.12,37.20 L274.68,39.62 L275.23,40.56 L275.79,39.59 L276.34,44.91 L276.89,39.46 L277.45,33.36 L278.00,38.22 L278.56,39.02 L279.12,38.21 L279.67,40.95 L280.23,38.88 L280.78,35.89 L281.33,36.89 L281.89,37.80 L282.44,39.01 L283.00,37.86 L283.56,36.32 L284.11,33.03 L284.67,34.80 L285.22,40.67 L285.77,44.94 L286.33,37.67 L286.88,35.98 L287.44,41.98 L288.00,46.02 L288.55,42.43 L289.11,37.31 L289.66,40.33 L290.21,39.72 L290.77,35.98 L291.32,33.46 L291.88,36.21 L292.44,38.14 L292.99,37.26 L293.55,31.75 L294.10,32.44 L294.65,37.93 L295.21,42.52 L295.76,40.73 L296.32,37.32 L296.88,38.04 L297.43,35.10 L297.99,35.13 L298.54,35.50 L299.10,34.80 L299.65,36.42 L300.21,40.06 L300.76,37.24 L301.31,32.50 L301.87,39.57 L302.43,39.54 L302.98,35.65 L303.54,38.51 L304.09,42.35 L304.65,42.72 L305.20,37.17 L305.75,33.41 L306.31,33.17 L306.87,35.98 L307.42,36.75 L307.98,40.90 L308.53,40.44 L309.09,40.90 L309.64,38.55 L310.19,35.65 L310.75,36.16 L311.31,39.67 L311.86,36.92 L312.42,40.39 L312.97,42.94 L313.53,42.28 L314.08,43.61 L314.63,40.11 L315.19,38.08 L315.75,38.31 L316.30,37.40 L316.86,38.83 L317.41,40.16 L317.97,42.58 L318.52,40.46 L319.07,41.06 L319.63,40.23 L320.19,38.42 L320.74,39.06 L321.30,44.12" fill="none" stroke="#ff80ff" stroke-width="2.0" stroke-linejoin="round"/>
<path d="M38.80,161.11 L39.35,162.83 L39.91,162.83 L40.46,162.36 L41.02,160.69 L41.57,161.31 L42.13,161.91 L42.68,161.86 L43.24,160.86 L43.79,161.16 L44.35,161.57 L44.91,162.22 L45.46,159.28 L46.02,156.39 L46.57,153.72 L47.12,151.08 L47.68,149.55 L48.23,147.36 L48.79,144.59 L49.34,142.68 L49.90,141.22 L50.45,139.42 L51.01,137.58 L51.56,134.97 L52.12,132.97 L52.67,131.46 L53.23,129.59 L53.78,129.73 L54.34,127.64 L54.89,124.98 L55.45,124.92 L56.00,124.19 L56.56,121.20 L57.11,120.21 L57.67,119.97 L58.22,118.24 L58.78,117.97 L59.33,117.19 L59.89,115.36 L60.44,114.34 L61.00,113.61 L61.55,112.34 L62.11,111.31 L62.66,109.67 L63.22,108.28 L63.77,107.08 L64.33,107.08 L64.88,107.12 L65.44,106.13 L66.00,103.94 L66.55,101.61 L67.10,101.13 L67.66,101.14 L68.22,100.02 L68.77,99.74 L69.33,98.14 L69.88,97.44 L70.44,96.09 L70.99,95.26 L71.54,94.94 L72.10,94.20 L72.66,93.94 L73.21,92.33 L73.77,89.54 L74.32,88.38 L74.88,88.07 L75.43,88.86 L75.98,88.54 L76.54,87.18 L77.09,87.62 L77.65,86.58 L78.20,85.09 L78.76,84.41 L79.31,82.09 L79.87,81.37 L80.42,81.94 L80.98,81.83 L81.53,81.65 L82.09,80.65 L82.64,78.46 L83.20,77.13 L83.75,76.54 L84.31,76.13 L84.86,75.80 L85.42,75.06 L85.97,75.04 L86.53,73.25 L87.09,71.06 L87.64,70.49 L88.19,71.05 L88.75,70.20 L89.31,68.05 L89.86,67.40 L90.41,68.71 L90.97,67.85 L91.53,66.12 L92.08,64.99 L92.63,65.16 L93.19,64.11 L93.75,63.04 L94.30,61.10 L94.85,61.35 L95.41,61.68 L95.97,61.01 L96.52,59.55 L97.07,59.36 L97.63,59.91 L98.19,59.34 L98.74,59.57 L99.29,59.25 L99.85,59.10 L100.41,58.69 L100.96,57.90 L101.52,57.17 L102.07,55.69 L102.62,55.03 L103.18,55.61 L103.73,55.74 L104.29,54.98 L104.84,56.23 L105.40,55.84 L105.95,53.56 L106.51,52.23 L107.06,51.89 L107.62,53.25 L108.17,54.57 L108.73,53.22 L109.28,51.41 L109.84,52.54 L110.39,53.30 L110.95,53.97 L111.50,51.90 L112.06,46.74 L112.61,46.35 L113.17,49.73 L113.72,49.78 L114.28,46.51 L114.83,43.62 L115.39,45.83 L115.94,46.15 L116.50,50.04 L117.05,46.84 L117.61,39.37 L118.16,37.97 L118.72,43.57 L119.27,42.80 L119.83,38.51 L120.39,40.65 L120.94,41.20 L121.50,38.17 L122.05,36.86 L122.61,34.54 L123.16,36.16 L123.72,40.58 L124.27,40.72 L124.83,41.61 L125.38,45.33 L125.94,43.39 L126.49,39.41 L127.05,42.58 L127.60,37.76 L128.16,37.67 L128.71,39.06 L129.26,37.43 L129.82,36.13 L130.38,35.77 L130.93,40.28 L131.49,41.70 L132.04,39.30 L132.59,33.60 L133.15,36.70 L133.70,43.65 L134.26,44.71 L134.81,44.79 L135.37,42.77 L135.93,39.27 L136.48,37.17 L137.03,45.46 L137.59,41.84 L138.14,42.27 L138.70,46.33 L139.25,46.56 L139.81,46.65 L140.37,44.40 L140.92,43.64 L141.47,47.80 L142.03,43.36 L142.58,43.67 L143.14,40.62 L143.69,41.25 L144.25,40.56 L144.81,41.38 L145.36,41.75 L145.91,45.67 L146.47,48.09 L147.02,44.01 L147.58,40.62 L148.13,40.63 L148.69,50.44 L149.25,47.73 L149.80,44.10 L150.36,48.71 L150.91,44.95 L151.47,36.63 L152.02,38.45 L152.57,43.83 L153.13,38.88 L153.69,37.23 L154.24,38.95 L154.80,40.75 L155.35,42.80 L155.91,46.00 L156.46,44.49 L157.01,40.36 L157.57,38.74 L158.12,36.30 L158.68,43.98 L159.24,50.94 L159.79,45.85 L160.34,41.30 L160.90,40.57 L161.45,42.48 L162.01,43.24 L162.56,39.15 L163.12,42.13 L163.68,41.32 L164.23,44.16 L164.78,45.48 L165.34,42.56 L165.89,50.63 L166.45,48.15 L167.00,42.92 L167.56,42.61 L168.12,40.77 L168.67,42.54 L169.23,41.58 L169.78,36.03 L170.33,40.78 L170.89,44.30 L171.44,46.87 L172.00,45.05 L172.56,40.00 L173.11,39.18 L173.67,41.79 L174.22,43.22 L174.77,42.20 L175.33,46.91 L175.88,45.04 L176.44,43.85 L177.00,44.49 L177.55,42.82 L178.11,44.42 L178.66,42.70 L179.21,35.37 L179.77,35.28 L180.32,36.19 L180.88,38.42 L181.44,36.84 L181.99,35.75 L182.55,33.13 L183.10,31.75 L183.65,38.39 L184.21,40.32 L184.76,44.90 L185.32,52.12 L185.88,49.40 L186.43,41.49 L186.99,38.86 L187.54,39.94 L188.10,35.45 L188.65,34.85 L189.20,38.01 L189.76,33.54 L190.31,31.94 L190.87,37.42 L191.43,40.98 L191.98,36.59 L192.54,39.49 L193.09,41.55 L193.64,41.00 L194.20,40.76 L194.75,36.53 L195.31,35.21 L195.87,34.97 L196.42,38.36 L196.98,43.05 L197.53,41.59 L198.08,38.95 L198.64,38.30 L199.19,32.64 L199.75,39.86 L200.31,42.82 L200.86,38.32 L201.42,38.77 L201.97,42.21 L202.52,43.25 L203.08,41.05 L203.63,39.23 L204.19,40.36 L204.75,43.25 L205.30,41.70 L205.86,39.90 L206.41,44.26 L206.96,51.90 L207.52,51.83 L208.07,48.32 L208.63,45.70 L209.19,42.75 L209.74,40.12 L210.30,41.09 L210.85,43.61 L211.40,42.02 L211.96,38.81 L212.51,43.46 L213.07,41.65 L213.62,37.98 L214.18,43.22 L214.74,49.74 L215.29,45.40 L215.85,44.71 L216.40,43.12 L216.95,39.57 L217.51,40.87 L218.06,42.54 L218.62,40.09 L219.18,40.59 L219.73,41.90 L220.29,41.71 L220.84,42.34 L221.39,44.44 L221.95,44.97 L222.50,44.66 L223.06,47.52 L223.62,46.59 L224.17,40.10 L224.73,41.79 L225.28,42.74 L225.83,42.52 L226.39,41.87 L226.94,41.41 L227.50,41.93 L228.06,42.51 L228.61,39.29 L229.17,40.51 L229.72,39.86 L230.27,46.42 L230.83,44.41 L231.38,37.88 L231.94,39.68 L232.50,41.47 L233.05,40.31 L233.61,42.67 L234.16,43.33 L234.71,47.74 L235.27,44.81 L235.82,42.14 L236.38,38.10 L236.94,37.61 L237.49,40.21 L238.05,36.84 L238.60,43.22 L239.15,50.90 L239.71,49.24 L240.26,38.51 L240.82,39.91 L241.38,43.66 L241.93,44.99 L242.49,43.36 L243.04,37.13 L243.60,36.81 L244.15,34.57 L244.70,41.46 L245.26,47.17 L245.81,40.56 L246.37,40.60 L246.93,39.35 L247.48,35.29 L248.04,37.59 L248.59,36.35 L249.14,39.46 L249.70,41.82 L250.25,39.74 L250.81,39.73 L251.37,35.16 L251.92,34.88 L252.48,37.38 L253.03,36.66 L253.58,37.06 L254.14,38.46 L254.69,36.73 L255.25,38.11 L255.81,38.33 L256.36,41.28 L256.92,39.23 L257.47,38.39 L258.02,41.56 L258.58,41.82 L259.13,40.38 L259.69,37.98 L260.25,39.92 L260.80,36.51 L261.36,33.13 L261.91,38.05 L262.46,43.95 L263.02,39.59 L263.57,36.11 L264.13,37.77 L264.69,35.30 L265.24,35.67 L265.80,37.76 L266.35,40.68 L266.90,42.08 L267.46,41.21 L268.01,39.33 L268.57,37.58 L269.12,38.25 L269.68,40.36 L270.24,39.75 L270.79,40.68 L271.35,46.03 L271.90,45.58 L272.45,44.04 L273.01,42.09 L273.56,41.73 L274.12,43.19 L274.68,44.84 L275.23,42.83 L275.79,46.64 L276.34,53.63 L276.89,53.51 L277.45,53.60 L278.00,49.24 L278.56,54.35 L279.12,57.22 L279.67,56.91 L280.23,57.50 L280.78,55.29 L281.33,50.52 L281.89,51.12 L282.44,49.06 L283.00,48.62 L283.56,50.84 L284.11,43.99 L284.67,42.25 L285.22,42.74 L285.77,44.99 L286.33,40.78 L286.88,40.41 L287.44,40.47 L288.00,34.13 L288.55,37.35 L289.11,41.29 L289.66,39.88 L290.21,36.63 L290.77,35.55 L291.32,36.24 L291.88,34.58 L292.44,36.25 L292.99,44.20 L293.55,45.54 L294.10,45.13 L294.65,40.73 L295.21,36.24 L295.76,39.47 L296.32,45.35 L296.88,43.68 L297.43,40.55 L297.99,43.88 L298.54,44.12 L299.10,44.99 L299.65,48.71 L300.21,43.19 L300.76,41.56 L301.31,43.13 L301.87,47.86 L302.43,48.75 L302.98,46.92 L303.54,43.93 L304.09,43.15 L304.65,40.91 L305.20,35.68 L305.75,37.43 L306.31,44.19 L306.87,43.31 L307.42,37.32 L307.98,38.80 L308.53,34.84 L309.09,34.31 L309.64,40.38 L310.19,41.27 L310.75,40.64 L311.31,43.15 L311.86,43.61 L312.42,40.18 L312.97,36.65 L313.53,39.10 L314.08,40.13 L314.63,41.75 L315.19,41.94 L315.75,38.14 L316.30,45.71 L316.86,43.39 L317.41,40.00 L317.97,42.85 L318.52,38.06 L319.07,36.37 L319.63,41.66 L320.19,42.38 L320.74,43.98 L321.30,40.81" fill="none" stroke="#808080" stroke-width="2.0" stroke-linejoin="round"/>
<path d="M38.80,160.67 L39.35,160.58 L39.91,161.02 L40.46,161.25 L41.02,160.93 L41.57,161.31 L42.13,161.44 L42.68,162.21 L43.24,162.92 L43.79,162.47 L44.35,161.95 L44.91,161.18 L45.46,159.67 L46.02,158.82 L46.57,156.46 L47.12,154.71 L47.68,152.43 L48.23,150.15 L48.79,148.13 L49.34,146.15 L49.90,143.14 L50.45,140.78 L51.01,139.27 L51.56,137.23 L52.12,133.87 L52.67,133.39 L53.23,132.20 L53.78,128.97 L54.34,127.79 L54.89,126.90 L55.45,124.69 L56.00,123.52 L56.56,122.15 L57.11,121.38 L57.67,120.68 L58.22,118.35 L58.78,117.56 L59.33,117.47 L59.89,115.93 L60.44,113.64 L61.00,112.98 L61.55,111.72 L62.11,110.20 L62.66,109.89 L63.22,109.77 L63.77,107.35 L64.33,105.48 L64.88,104.25 L65.44,103.07 L66.00,102.84 L66.55,101.73 L67.10,100.57 L67.66,100.41 L68.22,98.38 L68.77,97.19 L69.33,96.81 L69.88,95.69 L70.44,95.90 L70.99,96.25 L71.54,94.53 L72.10,93.83 L72.66,93.29 L73.21,92.41 L73.77,91.04 L74.32,91.06 L74.88,91.35 L75.43,90.06 L75.98,89.34 L76.54,89.82 L77.09,89.42 L77.65,88.78 L78.20,88.08 L78.76,86.54 L79.31,84.84 L79.87,83.52 L80.42,83.31 L80.98,83.03 L81.53,82.37 L82.09,82.08 L82.64,82.55 L83.20,81.65 L83.75,81.17 L84.31,81.10 L84.86,80.87 L85.42,80.27 L85.97,79.66 L86.53,79.18 L87.09,77.43 L87.64,76.61 L88.19,75.85 L88.75,74.81 L89.31,74.09 L89.86,74.25 L90.41,73.99 L90.97,74.62 L91.53,74.49 L92.08,73.00 L92.63,70.25 L93.19,70.63 L93.75,68.68 L94.30,67.04 L94.85,67.03 L95.41,65.10 L95.97,63.89 L96.52,63.49 L97.07,62.44 L97.63,63.26 L98.19,63.92 L98.74,62.94 L99.29,63.01 L99.85,63.31 L100.41,61.84 L100.96,58.97 L101.52,59.47 L102.07,59.35 L102.62,58.84 L103.18,57.77 L103.73,57.23 L104.29,57.06 L104.84,57.18 L105.40,56.69 L105.95,55.15 L106.51,52.83 L107.06,50.56 L107.62,49.92 L108.17,49.23 L108.73,49.57 L109.28,50.01 L109.84,50.05 L110.39,48.91 L110.95,48.38 L111.50,45.67 L112.06,43.45 L112.61,44.29 L113.17,45.80 L113.72,49.08 L114.28,52.41 L114.83,54.42 L115.39,56.09 L115.94,56.80 L116.50,58.42 L117.05,61.74 L117.61,62.80 L118.16,62.57 L118.72,62.62 L119.27,62.51 L119.83,60.87 L120.39,59.45 L120.94,58.91 L121.50,59.02 L122.05,58.10 L122.61,57.75 L123.16,55.70 L123.72,55.99 L124.27,55.50 L124.83,55.06 L125.38,55.19 L125.94,55.97 L126.49,55.03 L127.05,49.65 L127.60,49.29 L128.16,48.19 L128.71,45.10 L129.26,47.00 L129.82,46.39 L130.38,44.75 L130.93,41.32 L131.49,40.77 L132.04,41.28 L132.59,41.85 L133.15,39.87 L133.70,39.88 L134.26,46.41 L134.81,44.09 L135.37,42.75 L135.93,44.10 L136.48,45.99 L137.03,41.08 L137.59,42.12 L138.14,42.01 L138.70,43.29 L139.25,45.66 L139.81,44.57 L140.37,46.38 L140.92,44.31 L141.47,41.07 L142.03,39.29 L142.58,38.82 L143.14,36.94 L143.69,32.25 L144.25,36.81 L144.81,43.04 L145.36,43.25 L145.91,42.45 L146.47,41.63 L147.02,42.70 L147.58,41.38 L148.13,35.97 L148.69,38.63 L149.25,41.39 L149.80,41.51 L150.36,39.58 L150.91,35.53 L151.47,35.93 L152.02,39.17 L152.57,47.35 L153.13,40.38 L153.69,33.39 L154.24,31.53 L154.80,37.87 L155.35,42.45 L155.91,38.50 L156.46,40.62 L157.01,43.79 L157.57,39.53 L158.12,32.90 L158.68,31.05 L159.24,33.94 L159.79,36.09 L160.34,31.22 L160.90,37.55 L161.45,39.56 L162.01,39.87 L162.56,34.02 L163.12,33.46 L163.68,34.03 L164.23,36.39 L164.78,37.79 L165.34,39.61 L165.89,42.70 L166.45,36.58 L167.00,35.41 L167.56,39.11 L168.12,39.19 L168.67,36.77 L169.23,34.01 L169.78,36.69 L170.33,39.88 L170.89,43.22 L171.44,45.97 L172.00,43.72 L172.56,41.17 L173.11,41.03 L173.67,39.66 L174.22,37.62 L174.77,37.93 L175.33,38.25 L175.88,37.70 L176.44,38.78 L177.00,39.34 L177.55,40.13 L178.11,42.90 L178.66,38.65 L179.21,40.67 L179.77,37.41 L180.32,36.29 L180.88,34.69 L181.44,37.49 L181.99,39.15 L182.55,34.89 L183.10,35.29 L183.65,36.18 L184.21,35.29 L184.76,32.68 L185.32,32.90 L185.88,36.71 L186.43,41.51 L186.99,39.40 L187.54,34.98 L188.10,30.89 L188.65,33.85 L189.20,35.51 L189.76,33.73 L190.31,36.30 L190.87,37.39 L191.43,38.58 L191.98,40.82 L192.54,35.84 L193.09,35.74 L193.64,39.28 L194.20,41.20 L194.75,36.92 L195.31,34.20 L195.87,39.50 L196.42,41.51 L196.98,39.90 L197.53,45.11 L198.08,47.31 L198.64,43.05 L199.19,41.54 L199.75,40.82 L200.31,40.39 L200.86,38.70 L201.42,39.95 L201.97,41.55 L202.52,40.44 L203.08,36.76 L203.63,34.74 L204.19,35.02 L204.75,40.06 L205.30,49.26 L205.86,46.73 L206.41,41.99 L206.96,41.50 L207.52,43.27 L208.07,37.39 L208.63,38.63 L209.19,41.76 L209.74,41.10 L210.30,42.28 L210.85,42.75 L211.40,40.49 L211.96,43.04 L212.51,46.04 L213.07,44.23 L213.62,42.74 L214.18,42.57 L214.74,38.87 L215.29,40.37 L215.85,35.18 L216.40,36.74 L216.95,41.88 L217.51,39.62 L218.06,36.92 L218.62,40.95 L219.18,43.98 L219.73,39.39 L220.29,36.11 L220.84,42.46 L221.39,40.68 L221.95,40.55 L222.50,41.85 L223.06,42.81 L223.62,41.55 L224.17,38.03 L224.73,39.59 L225.28,42.27 L225.83,39.36 L226.39,43.24 L226.94,40.78 L227.50,39.16 L228.06,37.37 L228.61,38.08 L229.17,37.88 L229.72,39.30 L230.27,37.91 L230.83,36.85 L231.38,34.90 L231.94,39.46 L232.50,37.43 L233.05,37.96 L233.61,40.18 L234.16,41.66 L234.71,41.39 L235.27,45.81 L235.82,45.25 L236.38,41.08 L236.94,42.34 L237.49,37.30 L238.05,38.59 L238.60,38.68 L239.15,38.15 L239.71,37.79 L240.26,39.35 L240.82,39.75 L241.38,37.56 L241.93,33.33 L242.49,31.37 L243.04,31.53 L243.60,34.55 L244.15,38.50 L244.70,40.88 L245.26,35.14 L245.81,33.21 L246.37,35.17 L246.93,32.28 L247.48,30.76 L248.04,32.76 L248.59,32.05 L249.14,35.56 L249.70,41.22 L250.25,39.63 L250.81,37.31 L251.37,35.94 L251.92,38.82 L252.48,39.66 L253.03,39.98 L253.58,37.70 L254.14,35.54 L254.69,32.99 L255.25,33.36 L255.81,35.52 L256.36,36.29 L256.92,36.73 L257.47,35.68 L258.02,35.80 L258.58,44.12 L259.13,41.07 L259.69,36.71 L260.25,36.16 L260.80,40.64 L261.36,38.41 L261.91,37.15 L262.46,42.28 L263.02,46.75 L263.57,44.84 L264.13,44.09 L264.69,41.10 L265.24,41.16 L265.80,36.83 L266.35,40.30 L266.90,44.78 L267.46,45.78 L268.01,45.80 L268.57,40.96 L269.12,37.94 L269.68,40.74 L270.24,41.06 L270.79,44.03 L271.35,40.09 L271.90,36.49 L272.45,42.38 L273.01,38.25 L273.56,38.72 L274.12,47.04 L274.68,48.04 L275.23,43.88 L275.79,38.59 L276.34,39.98 L276.89,39.38 L277.45,36.87 L278.00,37.37 L278.56,37.99 L279.12,37.94 L279.67,36.03 L280.23,37.63 L280.78,34.43 L281.33,38.43 L281.89,40.43 L282.44,37.09 L283.00,38.80 L283.56,44.15 L284.11,41.97 L284.67,43.95 L285.22,42.46 L285.77,38.96 L286.33,41.04 L286.88,39.89 L287.44,38.58 L288.00,34.71 L288.55,39.69 L289.11,45.10 L289.66,45.99 L290.21,44.32 L290.77,41.08 L291.32,39.32 L291.88,37.32 L292.44,38.68 L292.99,39.37 L293.55,39.22 L294.10,39.76 L294.65,38.27 L295.21,36.23 L295.76,36.98 L296.32,42.07 L296.88,45.91 L297.43,43.12 L297.99,41.50 L298.54,46.18 L299.10,41.82 L299.65,37.83 L300.21,40.00 L300.76,39.37 L301.31,31.55 L301.87,31.04 L302.43,34.35 L302.98,31.33 L303.54,32.08 L304.09,35.31 L304.65,30.26 L305.20,36.51 L305.75,39.14 L306.31,40.01 L306.87,38.95 L307.42,40.67 L307.98,37.28 L308.53,33.90 L309.09,36.04 L309.64,36.90 L310.19,34.93 L310.75,38.80 L311.31,37.47 L311.86,39.23 L312.42,39.51 L312.97,39.80 L313.53,40.23 L314.08,41.75 L314.63,44.13 L315.19,43.42 L315.75,40.99 L316.30,42.82 L316.86,46.19 L317.41,46.02 L317.97,44.90 L318.52,42.72 L319.07,41.46 L319.63,42.22 L320.19,43.88 L320.74,44.24 L321.30,49.25" fill="none" stroke="#f00080" stroke-width="2.0" stroke-linejoin="round"/>
<path d="M38.80,159.98 L39.35,161.48 L39.91,159.44 L40.46,160.55 L41.02,161.75 L41.57,160.19 L42.13,158.38 L42.68,159.90 L43.24,161.83 L43.79,161.18 L44.35,160.17 L44.91,161.72 L45.46,160.20 L46.02,156.63 L46.57,152.69 L47.12,151.29 L47.68,148.97 L48.23,148.20 L48.79,146.34 L49.34,143.02 L49.90,141.80 L50.45,141.64 L51.01,138.62 L51.56,136.71 L52.12,136.09 L52.67,134.31 L53.23,132.92 L53.78,132.37 L54.34,131.55 L54.89,130.43 L55.45,129.38 L56.00,128.85 L56.56,127.55 L57.11,127.13 L57.67,125.39 L58.22,124.53 L58.78,124.03 L59.33,121.45 L59.89,119.30 L60.44,119.62 L61.00,120.74 L61.55,118.82 L62.11,118.36 L62.66,118.42 L63.22,118.14 L63.77,116.65 L64.33,114.80 L64.88,114.83 L65.44,115.49 L66.00,115.41 L66.55,114.38 L67.10,112.46 L67.66,111.42 L68.22,112.96 L68.77,112.69 L69.33,112.50 L69.88,112.26 L70.44,111.01 L70.99,110.90 L71.54,112.29 L72.10,111.64 L72.66,109.52 L73.21,109.31 L73.77,109.50 L74.32,110.11 L74.88,109.80 L75.43,109.02 L75.98,109.48 L76.54,109.58 L77.09,108.02 L77.65,106.92 L78.20,107.18 L78.76,105.41 L79.31,104.96 L79.87,105.59 L80.42,104.64 L80.98,103.51 L81.53,102.21 L82.09,101.94 L82.64,103.08 L83.20,102.35 L83.75,99.84 L84.31,99.20 L84.86,98.61 L85.42,97.67 L85.97,96.91 L86.53,97.79 L87.09,96.62 L87.64,96.60 L88.19,95.04 L88.75,94.29 L89.31,95.45 L89.86,94.27 L90.41,93.66 L90.97,93.03 L91.53,92.31 L92.08,92.34 L92.63,91.19 L93.19,88.69 L93.75,87.51 L94.30,88.01 L94.85,87.06 L95.41,83.23 L95.97,82.35 L96.52,82.82 L97.07,83.19 L97.63,81.95 L98.19,80.38 L98.74,79.36 L99.29,76.84 L99.85,76.34 L100.41,76.11 L100.96,76.46 L101.52,75.93 L102.07,74.67 L102.62,73.11 L103.18,72.62 L103.73,72.06 L104.29,71.06 L104.84,70.16 L105.40,69.23 L105.95,70.33 L106.51,70.98 L107.06,69.61 L107.62,68.32 L108.17,69.28 L108.73,69.29 L109.28,69.04 L109.84,68.34 L110.39,68.40 L110.95,69.05 L111.50,68.31 L112.06,66.83 L112.61,66.18 L113.17,66.16 L113.72,66.53 L114.28,67.52 L114.83,67.40 L115.39,66.76 L115.94,67.80 L116.50,67.87 L117.05,68.56 L117.61,67.72 L118.16,67.53 L118.72,67.35 L119.27,66.15 L119.83,66.52 L120.39,66.43 L120.94,66.23 L121.50,65.82 L122.05,64.48 L122.61,65.24 L123.16,65.60 L123.72,66.43 L124.27,66.01 L124.83,65.53 L125.38,65.45 L125.94,65.35 L126.49,64.24 L127.05,63.15 L127.60,64.16 L128.16,64.64 L128.71,63.81 L129.26,61.34 L129.82,61.40 L130.38,62.43 L130.93,62.90 L131.49,63.63 L132.04,62.88 L132.59,61.64 L133.15,61.00 L133.70,60.87 L134.26,59.63 L134.81,57.44 L135.37,56.96 L135.93,57.59 L136.48,55.21 L137.03,53.41 L137.59,53.91 L138.14,53.68 L138.70,53.71 L139.25,52.26 L139.81,52.86 L140.37,52.77 L140.92,50.65 L141.47,48.40 L142.03,50.04 L142.58,50.63 L143.14,48.97 L143.69,47.83 L144.25,47.20 L144.81,49.24 L145.36,49.77 L145.91,48.22 L146.47,46.89 L147.02,46.21 L147.58,46.17 L148.13,47.89 L148.69,47.69 L149.25,46.36 L149.80,45.19 L150.36,45.17 L150.91,46.30 L151.47,46.49 L152.02,43.90 L152.57,41.51 L153.13,40.53 L153.69,42.27 L154.24,42.45 L154.80,46.48 L155.35,47.40 L155.91,47.26 L156.46,47.33 L157.01,48.04 L157.57,47.24 L158.12,45.99 L158.68,45.55 L159.24,43.35 L159.79,44.28 L160.34,43.08 L160.90,39.19 L161.45,41.52 L162.01,43.57 L162.56,44.16 L163.12,43.35 L163.68,42.89 L164.23,44.40 L164.78,38.48 L165.34,35.01 L165.89,37.84 L166.45,45.40 L167.00,49.78 L167.56,46.21 L168.12,41.73 L168.67,39.64 L169.23,42.25 L169.78,41.60 L170.33,37.90 L170.89,41.03 L171.44,37.80 L172.00,38.95 L172.56,44.92 L173.11,43.08 L173.67,44.59 L174.22,48.02 L174.77,51.20 L175.33,48.78 L175.88,42.31 L176.44,41.73 L177.00,41.84 L177.55,44.71 L178.11,43.65 L178.66,44.12 L179.21,48.46 L179.77,47.73 L180.32,40.81 L180.88,40.43 L181.44,43.35 L181.99,40.71 L182.55,35.63 L183.10,33.83 L183.65,39.95 L184.21,36.24 L184.76,31.74 L185.32,35.54 L185.88,38.14 L186.43,45.91 L186.99,38.77 L187.54,41.40 L188.10,46.40 L188.65,39.22 L189.20,34.93 L189.76,34.12 L190.31,35.72 L190.87,41.16 L191.43,45.04 L191.98,44.57 L192.54,42.31 L193.09,41.35 L193.64,43.22 L194.20,41.41 L194.75,38.38 L195.31,36.65 L195.87,30.54 L196.42,32.57 L196.98,43.49 L197.53,46.41 L198.08,47.97 L198.64,46.02 L199.19,41.50 L199.75,44.56 L200.31,45.36 L200.86,41.26 L201.42,37.80 L201.97,40.33 L202.52,40.11 L203.08,36.24 L203.63,36.27 L204.19,36.45 L204.75,37.38 L205.30,42.43 L205.86,41.80 L206.41,41.54 L206.96,37.30 L207.52,38.50 L208.07,42.66 L208.63,39.87 L209.19,43.12 L209.74,39.32 L210.30,41.42 L210.85,46.71 L211.40,47.99 L211.96,45.11 L212.51,43.83 L213.07,44.24 L213.62,42.86 L214.18,46.33 L214.74,43.72 L215.29,44.10 L215.85,47.78 L216.40,44.27 L216.95,48.43 L217.51,50.70 L218.06,46.22 L218.62,40.90 L219.18,37.70 L219.73,38.44 L220.29,33.04 L220.84,30.98 L221.39,31.75 L221.95,32.56 L222.50,36.74 L223.06,39.58 L223.62,36.09 L224.17,34.40 L224.73,37.20 L225.28,41.44 L225.83,43.97 L226.39,38.22 L226.94,38.63 L227.50,42.98 L228.06,39.36 L228.61,36.41 L229.17,37.31 L229.72,35.25 L230.27,36.97 L230.83,43.28 L231.38,40.78 L231.94,35.86 L232.50,32.63 L233.05,34.27 L233.61,42.89 L234.16,39.30 L234.71,33.42 L235.27,29.81 L235.82,30.59 L236.38,38.45 L236.94,40.35 L237.49,39.73 L238.05,36.29 L238.60,38.21 L239.15,32.08 L239.71,30.47 L240.26,35.54 L240.82,43.63 L241.38,40.04 L241.93,35.95 L242.49,40.37 L243.04,38.78 L243.60,35.83 L244.15,33.01 L244.70,34.16 L245.26,36.04 L245.81,38.31 L246.37,37.98 L246.93,37.10 L247.48,35.44 L248.04,36.34 L248.59,36.59 L249.14,41.31 L249.70,36.14 L250.25,35.89 L250.81,34.15 L251.37,35.26 L251.92,33.05 L252.48,32.40 L253.03,38.04 L253.58,38.64 L254.14,38.44 L254.69,39.65 L255.25,43.89 L255.81,41.23 L256.36,40.48 L256.92,41.86 L257.47,42.17 L258.02,42.72 L258.58,35.25 L259.13,33.51 L259.69,33.28 L260.25,41.97 L260.80,45.08 L261.36,43.14 L261.91,46.19 L262.46,43.29 L263.02,44.03 L263.57,43.27 L264.13,41.09 L264.69,38.92 L265.24,34.47 L265.80,38.97 L266.35,44.60 L266.90,41.94 L267.46,45.66 L268.01,45.06 L268.57,47.38 L269.12,44.77 L269.68,38.93 L270.24,42.82 L270.79,45.16 L271.35,44.50 L271.90,41.23 L272.45,37.83 L273.01,44.73 L273.56,45.80 L274.12,42.06 L274.68,45.66 L275.23,41.91 L275.79,36.40 L276.34,38.93 L276.89,42.19 L277.45,43.86 L278.00,44.36 L278.56,42.40 L279.12,37.95 L279.67,33.47 L280.23,35.04 L280.78,41.06 L281.33,42.10 L281.89,40.64 L282.44,46.25 L283.00,44.62 L283.56,43.90 L284.11,46.56 L284.67,45.85 L285.22,43.78 L285.77,48.53 L286.33,48.26 L286.88,45.82 L287.44,44.70 L288.00,45.96 L288.55,40.83 L289.11,42.67 L289.66,44.23 L290.21,44.89 L290.77,46.21 L291.32,44.78 L291.88,38.53 L292.44,39.22 L292.99,39.78 L293.55,38.07 L294.10,40.77 L294.65,38.62 L295.21,39.96 L295.76,41.65 L296.32,39.46 L296.88,42.54 L297.43,39.36 L297.99,40.28 L298.54,36.11 L299.10,32.03 L299.65,34.95 L300.21,39.30 L300.76,39.22 L301.31,40.75 L301.87,43.88 L302.43,43.23 L302.98,38.66 L303.54,38.41 L304.09,43.91 L304.65,40.31 L305.20,37.07 L305.75,39.27 L306.31,41.58 L306.87,38.91 L307.42,42.34 L307.98,37.83 L308.53,37.07 L309.09,46.11 L309.64,42.74 L310.19,40.21 L310.75,41.73 L311.31,44.96 L311.86,45.95 L312.42,47.30 L312.97,42.70 L313.53,40.83 L314.08,44.69 L314.63,46.41 L315.19,44.44 L315.75,41.99 L316.30,41.20 L316.86,41.43 L317.41,42.80 L317.97,49.06 L318.52,50.03 L319.07,40.57 L319.63,37.05 L320.19,44.89 L320.74,44.47 L321.30,39.34" fill="none" stroke="#800080" stroke-width="2.0" stroke-linejoin="round"/>
<path d="M38.80,160.37 L39.35,160.82 L39.91,159.28 L40.46,158.24 L41.02,158.98 L41.57,160.21 L42.13,159.24 L42.68,159.20 L43.24,160.69 L43.79,161.67 L44.35,159.60 L44.91,158.93 L45.46,158.28 L46.02,156.87 L46.57,153.53 L47.12,148.66 L47.68,145.50 L48.23,143.53 L48.79,141.92 L49.34,140.17 L49.90,139.26 L50.45,138.17 L51.01,137.04 L51.56,135.36 L52.12,134.16 L52.67,132.37 L53.23,131.66 L53.78,131.33 L54.34,129.66 L54.89,130.00 L55.45,128.58 L56.00,126.86 L56.56,126.66 L57.11,127.61 L57.67,125.18 L58.22,123.32 L58.78,123.29 L59.33,124.92 L59.89,123.83 L60.44,122.32 L61.00,121.20 L61.55,119.71 L62.11,119.56 L62.66,118.13 L63.22,118.02 L63.77,118.97 L64.33,118.36 L64.88,116.99 L65.44,115.48 L66.00,114.27 L66.55,114.01 L67.10,113.56 L67.66,114.99 L68.22,114.68 L68.77,112.90 L69.33,111.13 L69.88,111.06 L70.44,110.73 L70.99,108.74 L71.54,107.08 L72.10,107.77 L72.66,108.16 L73.21,107.00 L73.77,104.69 L74.32,104.61 L74.88,103.77 L75.43,102.50 L75.98,102.29 L76.54,102.69 L77.09,101.12 L77.65,100.11 L78.20,99.60 L78.76,99.06 L79.31,99.38 L79.87,98.90 L80.42,98.16 L80.98,97.02 L81.53,96.89 L82.09,96.25 L82.64,96.28 L83.20,95.39 L83.75,94.65 L84.31,93.85 L84.86,93.08 L85.42,92.69 L85.97,92.69 L86.53,92.68 L87.09,90.54 L87.64,90.29 L88.19,89.93 L88.75,89.13 L89.31,87.69 L89.86,87.58 L90.41,86.07 L90.97,84.32 L91.53,83.16 L92.08,82.86 L92.63,83.21 L93.19,83.40 L93.75,81.27 L94.30,80.06 L94.85,79.66 L95.41,79.30 L95.97,79.31 L96.52,78.80 L97.07,76.94 L97.63,76.23 L98.19,76.71 L98.74,75.27 L99.29,74.39 L99.85,73.52 L100.41,72.94 L100.96,71.85 L101.52,71.18 L102.07,71.40 L102.62,72.15 L103.18,70.84 L103.73,70.73 L104.29,70.93 L104.84,69.97 L105.40,70.05 L105.95,68.23 L106.51,67.19 L107.06,67.90 L107.62,67.15 L108.17,66.75 L108.73,66.90 L109.28,67.54 L109.84,66.35 L110.39,65.70 L110.95,65.21 L111.50,65.01 L112.06,64.29 L112.61,64.23 L113.17,63.68 L113.72,63.10 L114.28,63.37 L114.83,63.04 L115.39,63.13 L115.94,63.16 L116.50,63.32 L117.05,62.27 L117.61,61.71 L118.16,62.16 L118.72,61.78 L119.27,62.09 L119.83,62.82 L120.39,61.72 L120.94,60.97 L121.50,62.32 L122.05,63.19 L122.61,62.14 L123.16,61.48 L123.72,60.17 L124.27,60.90 L124.83,61.48 L125.38,61.66 L125.94,61.30 L126.49,61.69 L127.05,61.84 L127.60,61.36 L128.16,61.03 L128.71,60.11 L129.26,61.02 L129.82,60.87 L130.38,61.07 L130.93,60.79 L131.49,59.45 L132.04,60.41 L132.59,59.26 L133.15,59.91 L133.70,58.76 L134.26,57.72 L134.81,60.09 L135.37,59.77 L135.93,57.65 L136.48,57.77 L137.03,58.27 L137.59,58.12 L138.14,58.16 L138.70,56.95 L139.25,55.84 L139.81,56.46 L140.37,55.96 L140.92,54.51 L141.47,53.97 L142.03,55.17 L142.58,55.08 L143.14,55.20 L143.69,55.08 L144.25,54.65 L144.81,54.73 L145.36,55.36 L145.91,55.18 L146.47,53.71 L147.02,52.10 L147.58,51.20 L148.13,51.89 L148.69,51.61 L149.25,50.67 L149.80,50.43 L150.36,50.86 L150.91,50.40 L151.47,49.39 L152.02,50.51 L152.57,51.42 L153.13,51.72 L153.69,50.51 L154.24,49.81 L154.80,48.81 L155.35,49.55 L155.91,49.08 L156.46,48.24 L157.01,48.33 L157.57,50.32 L158.12,48.62 L158.68,49.43 L159.24,50.53 L159.79,51.09 L160.34,51.46 L160.90,52.81 L161.45,54.65 L162.01,50.73 L162.56,50.17 L163.12,51.92 L163.68,48.33 L164.23,42.68 L164.78,45.79 L165.34,47.44 L165.89,44.27 L166.45,48.69 L167.00,49.43 L167.56,49.24 L168.12,47.10 L168.67,43.46 L169.23,43.90 L169.78,47.14 L170.33,46.14 L170.89,45.02 L171.44,45.58 L172.00,45.39 L172.56,46.83 L173.11,46.49 L173.67,44.87 L174.22,45.48 L174.77,42.46 L175.33,43.35 L175.88,45.71 L176.44,45.21 L177.00,43.90 L177.55,42.32 L178.11,41.41 L178.66,42.75 L179.21,42.64 L179.77,36.79 L180.32,36.87 L180.88,39.16 L181.44,38.42 L181.99,40.42 L182.55,42.75 L183.10,39.78 L183.65,33.40 L184.21,36.08 L184.76,39.61 L185.32,43.25 L185.88,40.10 L186.43,35.93 L186.99,39.13 L187.54,38.90 L188.10,38.23 L188.65,38.78 L189.20,37.81 L189.76,40.54 L190.31,41.97 L190.87,41.32 L191.43,34.46 L191.98,37.98 L192.54,39.36 L193.09,37.41 L193.64,41.12 L194.20,42.27 L194.75,43.20 L195.31,41.81 L195.87,41.14 L196.42,39.40 L196.98,41.11 L197.53,43.11 L198.08,42.74 L198.64,42.49 L199.19,42.15 L199.75,38.60 L200.31,38.79 L200.86,42.48 L201.42,45.82 L201.97,44.28 L202.52,46.77 L203.08,44.59 L203.63,44.50 L204.19,47.19 L204.75,48.68 L205.30,45.81 L205.86,39.84 L206.41,44.17 L206.96,45.41 L207.52,42.53 L208.07,42.47 L208.63,43.73 L209.19,50.01 L209.74,47.34 L210.30,37.15 L210.85,43.07 L211.40,46.89 L211.96,45.02 L212.51,44.21 L213.07,48.40 L213.62,46.38 L214.18,44.91 L214.74,43.46 L215.29,44.98 L215.85,48.11 L216.40,51.52 L216.95,52.17 L217.51,46.66 L218.06,49.16 L218.62,46.03 L219.18,40.57 L219.73,43.47 L220.29,43.17 L220.84,43.49 L221.39,42.03 L221.95,43.41 L222.50,43.46 L223.06,39.79 L223.62,43.63 L224.17,47.22 L224.73,44.08 L225.28,41.67 L225.83,43.36 L226.39,38.85 L226.94,35.18 L227.50,33.69 L228.06,39.38 L228.61,40.81 L229.17,45.33 L229.72,43.31 L230.27,40.04 L230.83,39.00 L231.38,40.23 L231.94,41.53 L232.50,43.13 L233.05,42.45 L233.61,39.76 L234.16,38.13 L234.71,37.30 L235.27,36.16 L235.82,38.65 L236.38,46.55 L236.94,45.67 L237.49,43.81 L238.05,43.06 L238.60,38.72 L239.15,38.78 L239.71,41.43 L240.26,40.45 L240.82,38.39 L241.38,41.95 L241.93,42.08 L242.49,38.52 L243.04,37.26 L243.60,35.61 L244.15,37.24 L244.70,38.42 L245.26,42.30 L245.81,43.86 L246.37,44.09 L246.93,47.75 L247.48,40.37 L248.04,36.25 L248.59,38.56 L249.14,39.13 L249.70,36.76 L250.25,37.79 L250.81,34.67 L251.37,31.73 L251.92,34.81 L252.48,36.47 L253.03,38.19 L253.58,39.59 L254.14,40.13 L254.69,39.85 L255.25,39.94 L255.81,45.74 L256.36,43.51 L256.92,40.82 L257.47,43.56 L258.02,43.45 L258.58,43.19 L259.13,39.72 L259.69,36.52 L260.25,35.33 L260.80,39.08 L261.36,43.02 L261.91,41.21 L262.46,38.68 L263.02,39.85 L263.57,47.70 L264.13,46.52 L264.69,48.31 L265.24,43.37 L265.80,41.76 L266.35,41.71 L266.90,41.40 L267.46,43.92 L268.01,46.75 L268.57,44.06 L269.12,41.89 L269.68,44.94 L270.24,47.16 L270.79,48.25 L271.35,43.90 L271.90,46.52 L272.45,48.43 L273.01,47.97 L273.56,47.82 L274.12,44.27 L274.68,38.92 L275.23,37.58 L275.79,35.75 L276.34,37.16 L276.89,42.62 L277.45,39.53 L278.00,33.96 L278.56,34.24 L279.12,44.73 L279.67,46.72 L280.23,41.85 L280.78,42.87 L281.33,44.24 L281.89,42.09 L282.44,45.81 L283.00,49.17 L283.56,43.66 L284.11,40.13 L284.67,37.92 L285.22,37.24 L285.77,39.73 L286.33,42.41 L286.88,45.31 L287.44,47.44 L288.00,43.15 L288.55,37.64 L289.11,35.59 L289.66,34.10 L290.21,41.21 L290.77,45.82 L291.32,39.50 L291.88,38.55 L292.44,45.59 L292.99,47.51 L293.55,42.13 L294.10,40.52 L294.65,44.80 L295.21,45.04 L295.76,46.23 L296.32,48.19 L296.88,47.64 L297.43,44.04 L297.99,44.68 L298.54,48.35 L299.10,50.29 L299.65,42.07 L300.21,45.11 L300.76,46.71 L301.31,47.73 L301.87,46.34 L302.43,49.03 L302.98,46.50 L303.54,44.68 L304.09,43.81 L304.65,48.46 L305.20,48.76 L305.75,44.64 L306.31,40.78 L306.87,47.37 L307.42,46.71 L307.98,46.69 L308.53,44.18 L309.09,42.53 L309.64,43.42 L310.19,43.48 L310.75,44.10 L311.31,46.26 L311.86,47.41 L312.42,49.88 L312.97,47.59 L313.53,46.60 L314.08,44.02 L314.63,40.49 L315.19,40.06 L315.75,39.35 L316.30,40.84 L316.86,47.69 L317.41,43.06 L317.97,41.43 L318.52,43.09 L319.07,44.65 L319.63,39.31 L320.19,35.39 L320.74,35.99 L321.30,38.55" fill="none" stroke="#10eef4" stroke-width="2.0" stroke-linejoin="round"/>
<path d="M38.80,162.35 L39.35,161.81 L39.91,161.15 L40.46,160.56 L41.02,160.18 L41.57,159.96 L42.13,159.81 L42.68,159.73 L43.24,159.70 L43.79,159.79 L44.35,160.05 L44.91,160.57 L45.46,160.71 L46.02,160.31 L46.57,159.75 L47.12,158.88 L47.68,157.71 L48.23,156.45 L48.79,155.41 L49.34,154.65 L49.90,153.89 L50.45,152.67 L51.01,150.92 L51.56,148.88 L52.12,146.87 L52.67,145.05 L53.23,143.48 L53.78,142.24 L54.34,141.50 L54.89,141.21 L55.45,141.14 L56.00,140.86 L56.56,140.01 L57.11,138.61 L57.67,137.09 L58.22,136.00 L58.78,135.51 L59.33,135.31 L59.89,134.91 L60.44,134.17 L61.00,133.30 L61.55,132.62 L62.11,132.19 L62.66,131.81 L63.22,131.27 L63.77,130.56 L64.33,129.85 L64.88,129.35 L65.44,129.04 L66.00,128.60 L66.55,127.70 L67.10,126.37 L67.66,124.93 L68.22,123.76 L68.77,122.92 L69.33,122.23 L69.88,121.53 L70.44,120.84 L70.99,120.28 L71.54,119.93 L72.10,119.74 L72.66,119.61 L73.21,119.47 L73.77,119.24 L74.32,118.85 L74.88,118.28 L75.43,117.56 L75.98,116.80 L76.54,116.06 L77.09,115.34 L77.65,114.59 L78.20,113.85 L78.76,113.31 L79.31,112.99 L79.87,112.80 L80.42,112.56 L80.98,112.20 L81.53,111.78 L82.09,111.30 L82.64,110.80 L83.20,110.37 L83.75,110.17 L84.31,110.22 L84.86,110.23 L85.42,109.71 L85.97,108.36 L86.53,106.38 L87.09,104.32 L87.64,102.72 L88.19,101.78 L88.75,101.40 L89.31,101.36 L89.86,101.32 L90.41,100.91 L90.97,99.91 L91.53,98.42 L92.08,96.86 L92.63,95.67 L93.19,95.06 L93.75,94.98 L94.30,95.22 L94.85,95.54 L95.41,95.66 L95.97,95.40 L96.52,94.72 L97.07,93.80 L97.63,92.84 L98.19,92.01 L98.74,91.40 L99.29,91.04 L99.85,90.86 L100.41,90.77 L100.96,90.69 L101.52,90.60 L102.07,90.48 L102.62,90.32 L103.18,89.98 L103.73,89.37 L104.29,88.60 L104.84,87.89 L105.40,87.39 L105.95,87.13 L106.51,87.06 L107.06,87.11 L107.62,87.24 L108.17,87.31 L108.73,87.27 L109.28,87.19 L109.84,87.20 L110.39,87.41 L110.95,87.80 L111.50,88.19 L112.06,88.40 L112.61,88.35 L113.17,88.12 L113.72,87.91 L114.28,87.74 L114.83,87.41 L115.39,86.84 L115.94,86.17 L116.50,85.66 L117.05,85.41 L117.61,85.33 L118.16,85.29 L118.72,85.24 L119.27,85.16 L119.83,85.01 L120.39,84.82 L120.94,84.70 L121.50,84.70 L122.05,84.79 L122.61,84.80 L123.16,84.60 L123.72,84.13 L124.27,83.50 L124.83,82.90 L125.38,82.47 L125.94,82.13 L126.49,81.80 L127.05,81.48 L127.60,81.28 L128.16,81.23 L128.71,81.27 L129.26,81.28 L129.82,81.16 L130.38,80.93 L130.93,80.68 L131.49,80.51 L132.04,80.42 L132.59,80.23 L133.15,79.82 L133.70,79.29 L134.26,78.86 L134.81,78.66 L135.37,78.62 L135.93,78.59 L136.48,78.54 L137.03,78.50 L137.59,78.46 L138.14,78.33 L138.70,78.04 L139.25,77.57 L139.81,76.95 L140.37,76.29 L140.92,75.76 L141.47,75.55 L142.03,75.69 L142.58,75.97 L143.14,76.06 L143.69,75.73 L144.25,75.06 L144.81,74.31 L145.36,73.78 L145.91,73.59 L146.47,73.65 L147.02,73.85 L147.58,74.09 L148.13,74.30 L148.69,74.41 L149.25,74.35 L149.80,74.20 L150.36,74.04 L150.91,73.92 L151.47,73.82 L152.02,73.78 L152.57,73.82 L153.13,73.86 L153.69,73.78 L154.24,73.45 L154.80,72.92 L155.35,72.30 L155.91,71.77 L156.46,71.40 L157.01,71.14 L157.57,70.80 L158.12,70.14 L158.68,69.10 L159.24,67.92 L159.79,67.01 L160.34,66.61 L160.90,66.69 L161.45,67.01 L162.01,67.32 L162.56,67.46 L163.12,67.31 L163.68,66.91 L164.23,66.43 L164.78,66.13 L165.34,66.13 L165.89,66.37 L166.45,66.65 L167.00,66.79 L167.56,66.73 L168.12,66.48 L168.67,66.19 L169.23,65.98 L169.78,65.81 L170.33,65.44 L170.89,64.79 L171.44,63.99 L172.00,63.24 L172.56,62.62 L173.11,62.06 L173.67,61.47 L174.22,60.89 L174.77,60.43 L175.33,60.18 L175.88,60.14 L176.44,60.15 L177.00,60.04 L177.55,59.77 L178.11,59.42 L178.66,59.05 L179.21,58.68 L179.77,58.34 L180.32,58.05 L180.88,57.77 L181.44,57.44 L181.99,57.09 L182.55,56.88 L183.10,56.90 L183.65,57.04 L184.21,57.07 L184.76,56.95 L185.32,56.87 L185.88,57.08 L186.43,57.60 L186.99,58.14 L187.54,58.30 L188.10,57.91 L188.65,57.18 L189.20,56.53 L189.76,56.28 L190.31,56.46 L190.87,56.79 L191.43,56.90 L191.98,56.68 L192.54,56.27 L193.09,55.94 L193.64,55.81 L194.20,55.90 L194.75,56.08 L195.31,56.31 L195.87,56.59 L196.42,56.88 L196.98,57.09 L197.53,57.04 L198.08,56.66 L198.64,56.13 L199.19,55.66 L199.75,55.34 L200.31,55.15 L200.86,55.00 L201.42,54.93 L201.97,54.90 L202.52,54.74 L203.08,54.34 L203.63,53.77 L204.19,53.27 L204.75,53.02 L205.30,53.01 L205.86,53.23 L206.41,53.57 L206.96,53.83 L207.52,53.80 L208.07,53.33 L208.63,52.54 L209.19,51.72 L209.74,51.08 L210.30,50.67 L210.85,50.33 L211.40,49.90 L211.96,49.34 L212.51,48.78 L213.07,48.36 L213.62,48.15 L214.18,48.29 L214.74,48.82 L215.29,49.64 L215.85,50.42 L216.40,50.81 L216.95,50.71 L217.51,50.33 L218.06,49.96 L218.62,49.84 L219.18,49.95 L219.73,50.12 L220.29,50.19 L220.84,50.24 L221.39,50.50 L221.95,51.04 L222.50,51.71 L223.06,52.28 L223.62,52.56 L224.17,52.39 L224.73,51.69 L225.28,50.36 L225.83,48.76 L226.39,47.27 L226.94,46.11 L227.50,45.33 L228.06,44.87 L228.61,44.61 L229.17,44.44 L229.72,44.28 L230.27,44.12 L230.83,43.98 L231.38,43.88 L231.94,44.03 L232.50,44.58 L233.05,45.46 L233.61,46.43 L234.16,47.23 L234.71,47.79 L235.27,48.09 L235.82,48.07 L236.38,47.72 L236.94,47.18 L237.49,46.71 L238.05,46.73 L238.60,46.65 L239.15,46.51 L239.71,46.43 L240.26,47.06 L240.82,47.81 L241.38,48.38 L241.93,48.60 L242.49,48.48 L243.04,48.17 L243.60,47.83 L244.15,47.54 L244.70,47.30 L245.26,47.07 L245.81,46.81 L246.37,46.55 L246.93,46.38 L247.48,46.31 L248.04,46.26 L248.59,46.12 L249.14,45.88 L249.70,45.59 L250.25,45.39 L250.81,45.32 L251.37,45.27 L251.92,44.99 L252.48,44.38 L253.03,43.58 L253.58,42.90 L254.14,42.55 L254.69,42.47 L255.25,42.52 L255.81,42.50 L256.36,42.33 L256.92,42.05 L257.47,41.81 L258.02,41.70 L258.58,41.78 L259.13,42.06 L259.69,42.46 L260.25,42.90 L260.80,43.35 L261.36,43.77 L261.91,44.15 L262.46,44.38 L263.02,44.47 L263.57,44.48 L264.13,44.54 L264.69,44.68 L265.24,44.75 L265.80,44.51 L266.35,43.91 L266.90,43.00 L267.46,42.04 L268.01,41.29 L268.57,40.84 L269.12,40.58 L269.68,40.33 L270.24,40.03 L270.79,39.70 L271.35,39.46 L271.90,39.39 L272.45,39.80 L273.01,41.00 L273.56,42.67 L274.12,44.44 L274.68,45.96 L275.23,47.02 L275.79,47.48 L276.34,47.80 L276.89,48.28 L277.45,48.76 L278.00,49.02 L278.56,48.74 L279.12,47.85 L279.67,46.66 L280.23,45.63 L280.78,45.14 L281.33,45.10 L281.89,45.21 L282.44,45.15 L283.00,44.92 L283.56,44.76 L284.11,44.94 L284.67,45.44 L285.22,45.91 L285.77,45.98 L286.33,45.62 L286.88,45.02 L287.44,44.41 L288.00,43.86 L288.55,43.39 L289.11,42.92 L289.66,42.45 L290.21,42.07 L290.77,41.94 L291.32,42.09 L291.88,42.45 L292.44,42.89 L292.99,43.47 L293.55,44.23 L294.10,44.99 L294.65,45.44 L295.21,45.44 L295.76,45.17 L296.32,44.96 L296.88,44.94 L297.43,45.06 L297.99,45.26 L298.54,45.46 L299.10,45.61 L299.65,45.58 L300.21,45.23 L300.76,44.66 L301.31,44.17 L301.87,44.00 L302.43,44.07 L302.98,44.07 L303.54,43.83 L304.09,43.55 L304.65,43.54 L305.20,43.89 L305.75,44.55 L306.31,45.42 L306.87,46.40 L307.42,47.26 L307.98,47.70 L308.53,47.57 L309.09,47.09 L309.64,46.57 L310.19,46.20 L310.75,45.97 L311.31,45.74 L311.86,45.49 L312.42,45.31 L312.97,45.27 L313.53,45.34 L314.08,45.43 L314.63,45.43 L315.19,45.32 L315.75,45.21 L316.30,45.29 L316.86,45.65 L317.41,46.20 L317.97,46.74 L318.52,47.18 L319.07,47.52 L319.63,47.82 L320.19,48.05 L320.74,48.04 L321.30,47.77" fill="none" stroke="#fcfc00" stroke-width="2.0" stroke-linejoin="round"/>
<path d="M38.80,161.49 L39.35,162.04 L39.91,162.43 L40.46,161.36 L41.02,160.18 L41.57,159.85 L42.13,160.01 L42.68,160.24 L43.24,161.14 L43.79,160.89 L44.35,159.71 L44.91,160.07 L45.46,159.56 L46.02,156.35 L46.57,153.37 L47.12,151.17 L47.68,149.56 L48.23,147.76 L48.79,144.81 L49.34,142.04 L49.90,141.20 L50.45,140.15 L51.01,138.24 L51.56,137.03 L52.12,134.75 L52.67,132.76 L53.23,130.53 L53.78,129.00 L54.34,126.67 L54.89,124.71 L55.45,125.06 L56.00,124.54 L56.56,122.62 L57.11,121.44 L57.67,120.44 L58.22,119.53 L58.78,117.92 L59.33,117.53 L59.89,117.80 L60.44,115.77 L61.00,113.64 L61.55,112.34 L62.11,112.57 L62.66,111.79 L63.22,109.94 L63.77,109.68 L64.33,108.61 L64.88,107.22 L65.44,106.27 L66.00,106.20 L66.55,105.86 L67.10,104.12 L67.66,103.83 L68.22,102.78 L68.77,100.41 L69.33,100.32 L69.88,101.14 L70.44,100.40 L70.99,99.45 L71.54,99.26 L72.10,98.75 L72.66,96.19 L73.21,94.80 L73.77,94.51 L74.32,94.12 L74.88,92.87 L75.43,91.94 L75.98,92.01 L76.54,91.05 L77.09,89.78 L77.65,88.07 L78.20,87.54 L78.76,87.68 L79.31,86.01 L79.87,83.80 L80.42,83.99 L80.98,83.10 L81.53,81.98 L82.09,80.17 L82.64,79.85 L83.20,79.76 L83.75,79.27 L84.31,77.58 L84.86,75.70 L85.42,75.18 L85.97,75.13 L86.53,73.16 L87.09,73.20 L87.64,73.20 L88.19,72.00 L88.75,71.54 L89.31,71.01 L89.86,70.24 L90.41,69.32 L90.97,69.17 L91.53,69.00 L92.08,67.30 L92.63,66.46 L93.19,65.02 L93.75,64.50 L94.30,64.17 L94.85,63.66 L95.41,62.84 L95.97,63.40 L96.52,63.46 L97.07,62.89 L97.63,63.65 L98.19,61.92 L98.74,60.40 L99.29,59.55 L99.85,57.81 L100.41,57.10 L100.96,56.95 L101.52,56.28 L102.07,54.99 L102.62,55.17 L103.18,54.57 L103.73,53.28 L104.29,52.54 L104.84,52.17 L105.40,54.19 L105.95,55.75 L106.51,54.64 L107.06,54.41 L107.62,55.37 L108.17,54.92 L108.73,55.19 L109.28,57.61 L109.84,58.88 L110.39,59.09 L110.95,56.76 L111.50,55.10 L112.06,55.40 L112.61,57.57 L113.17,57.62 L113.72,57.98 L114.28,57.83 L114.83,56.70 L115.39,54.93 L115.94,50.11 L116.50,45.94 L117.05,44.21 L117.61,45.40 L118.16,46.32 L118.72,43.30 L119.27,40.43 L119.83,41.08 L120.39,40.46 L120.94,40.85 L121.50,41.13 L122.05,40.80 L122.61,41.50 L123.16,38.71 L123.72,42.51 L124.27,40.86 L124.83,41.29 L125.38,34.82 L125.94,35.69 L126.49,41.52 L127.05,43.21 L127.60,43.96 L128.16,40.71 L128.71,35.78 L129.26,32.82 L129.82,40.36 L130.38,38.63 L130.93,40.91 L131.49,39.62 L132.04,37.34 L132.59,38.04 L133.15,39.71 L133.70,41.85 L134.26,41.88 L134.81,40.21 L135.37,39.78 L135.93,46.24 L136.48,47.03 L137.03,48.14 L137.59,47.69 L138.14,44.46 L138.70,36.70 L139.25,31.92 L139.81,35.87 L140.37,43.39 L140.92,43.35 L141.47,43.76 L142.03,38.68 L142.58,34.63 L143.14,35.21 L143.69,36.02 L144.25,40.91 L144.81,47.70 L145.36,47.44 L145.91,40.34 L146.47,35.02 L147.02,33.61 L147.58,37.46 L148.13,37.66 L148.69,35.75 L149.25,34.29 L149.80,38.17 L150.36,40.34 L150.91,35.34 L151.47,35.22 L152.02,37.93 L152.57,42.07 L153.13,41.96 L153.69,46.42 L154.24,47.25 L154.80,42.07 L155.35,39.39 L155.91,35.27 L156.46,32.83 L157.01,34.51 L157.57,32.93 L158.12,37.14 L158.68,37.73 L159.24,41.30 L159.79,39.62 L160.34,39.42 L160.90,38.80 L161.45,39.03 L162.01,44.03 L162.56,41.60 L163.12,41.53 L163.68,39.44 L164.23,38.67 L164.78,41.11 L165.34,43.13 L165.89,44.07 L166.45,41.06 L167.00,42.12 L167.56,42.08 L168.12,43.93 L168.67,39.74 L169.23,41.93 L169.78,39.31 L170.33,40.92 L170.89,40.10 L171.44,40.17 L172.00,38.76 L172.56,38.34 L173.11,35.39 L173.67,35.53 L174.22,34.78 L174.77,33.94 L175.33,37.91 L175.88,35.33 L176.44,38.53 L177.00,42.37 L177.55,38.29 L178.11,35.94 L178.66,32.76 L179.21,36.83 L179.77,37.26 L180.32,38.38 L180.88,42.27 L181.44,38.47 L181.99,37.81 L182.55,31.42 L183.10,29.96 L183.65,36.90 L184.21,42.10 L184.76,38.46 L185.32,36.15 L185.88,35.82 L186.43,39.81 L186.99,43.05 L187.54,41.88 L188.10,40.59 L188.65,35.95 L189.20,41.22 L189.76,43.56 L190.31,43.42 L190.87,46.02 L191.43,44.82 L191.98,43.68 L192.54,44.36 L193.09,42.53 L193.64,38.68 L194.20,41.77 L194.75,47.44 L195.31,45.41 L195.87,42.26 L196.42,44.56 L196.98,43.83 L197.53,42.74 L198.08,41.77 L198.64,43.31 L199.19,44.62 L199.75,45.44 L200.31,43.49 L200.86,43.07 L201.42,37.69 L201.97,40.31 L202.52,41.52 L203.08,39.33 L203.63,40.57 L204.19,40.94 L204.75,41.81 L205.30,44.15 L205.86,45.01 L206.41,42.29 L206.96,37.93 L207.52,41.05 L208.07,42.12 L208.63,40.51 L209.19,35.28 L209.74,32.93 L210.30,38.98 L210.85,37.87 L211.40,37.99 L211.96,38.77 L212.51,38.45 L213.07,40.71 L213.62,36.50 L214.18,37.24 L214.74,38.64 L215.29,32.34 L215.85,31.41 L216.40,33.98 L216.95,40.66 L217.51,39.95 L218.06,38.01 L218.62,33.67 L219.18,33.57 L219.73,40.92 L220.29,38.45 L220.84,35.49 L221.39,33.10 L221.95,36.50 L222.50,40.42 L223.06,39.37 L223.62,40.57 L224.17,39.76 L224.73,37.46 L225.28,37.48 L225.83,37.56 L226.39,38.22 L226.94,29.18 L227.50,29.10 L228.06,34.45 L228.61,42.78 L229.17,46.56 L229.72,42.71 L230.27,36.44 L230.83,28.87 L231.38,31.08 L231.94,36.01 L232.50,32.64 L233.05,32.04 L233.61,34.50 L234.16,33.08 L234.71,35.78 L235.27,40.47 L235.82,42.02 L236.38,38.02 L236.94,35.87 L237.49,42.28 L238.05,43.38 L238.60,40.29 L239.15,43.14 L239.71,34.61 L240.26,35.36 L240.82,32.79 L241.38,31.75 L241.93,40.55 L242.49,39.42 L243.04,31.45 L243.60,35.71 L244.15,37.68 L244.70,35.64 L245.26,32.45 L245.81,32.24 L246.37,36.56 L246.93,39.27 L247.48,38.66 L248.04,36.36 L248.59,34.21 L249.14,35.25 L249.70,34.40 L250.25,39.74 L250.81,37.10 L251.37,32.44 L251.92,33.84 L252.48,39.01 L253.03,44.03 L253.58,44.38 L254.14,41.99 L254.69,40.56 L255.25,43.18 L255.81,46.80 L256.36,44.35 L256.92,39.14 L257.47,39.05 L258.02,44.62 L258.58,45.20 L259.13,46.69 L259.69,39.77 L260.25,29.11 L260.80,35.92 L261.36,41.29 L261.91,43.38 L262.46,46.23 L263.02,46.81 L263.57,41.72 L264.13,38.36 L264.69,36.21 L265.24,41.68 L265.80,37.45 L266.35,35.81 L266.90,42.28 L267.46,39.97 L268.01,41.75 L268.57,36.09 L269.12,32.15 L269.68,35.26 L270.24,36.89 L270.79,38.41 L271.35,35.21 L271.90,32.68 L272.45,35.61 L273.01,36.10 L273.56,33.80 L274.12,34.34 L274.68,39.69 L275.23,37.66 L275.79,36.68 L276.34,32.92 L276.89,30.56 L277.45,31.17 L278.00,31.46 L278.56,37.19 L279.12,38.65 L279.67,38.89 L280.23,36.24 L280.78,35.50 L281.33,37.68 L281.89,40.22 L282.44,38.32 L283.00,37.27 L283.56,35.42 L284.11,35.67 L284.67,33.43 L285.22,37.42 L285.77,43.57 L286.33,42.18 L286.88,41.81 L287.44,35.14 L288.00,32.80 L288.55,36.66 L289.11,39.29 L289.66,46.05 L290.21,48.94 L290.77,44.50 L291.32,43.16 L291.88,45.11 L292.44,41.24 L292.99,38.44 L293.55,36.16 L294.10,33.88 L294.65,36.69 L295.21,40.87 L295.76,40.37 L296.32,40.12 L296.88,42.15 L297.43,36.89 L297.99,36.89 L298.54,41.12 L299.10,38.67 L299.65,28.09 L300.21,32.27 L300.76,34.09 L301.31,32.21 L301.87,34.61 L302.43,37.43 L302.98,38.49 L303.54,41.37 L304.09,40.45 L304.65,43.68 L305.20,39.85 L305.75,39.60 L306.31,42.41 L306.87,37.15 L307.42,40.84 L307.98,39.03 L308.53,40.97 L309.09,41.09 L309.64,39.86 L310.19,32.47 L310.75,32.83 L311.31,33.12 L311.86,35.82 L312.42,37.96 L312.97,40.30 L313.53,41.20 L314.08,39.40 L314.63,40.21 L315.19,42.96 L315.75,45.89 L316.30,42.65 L316.86,39.50 L317.41,40.74 L317.97,39.69 L318.52,41.21 L319.07,44.29 L319.63,44.54 L320.19,43.22 L320.74,41.30 L321.30,39.06" fill="none" stroke="#808000" stroke-width="2.0" stroke-linejoin="round"/>
</g>
<rect x="38.80" y="16.40" width="283.50" height="156.00" fill="none" stroke="#b4b4b4" stroke-width="1.3"/>
<line x1="38.80" y1="172.40" x2="38.80" y2="175.60" stroke="#7a7a7a" stroke-width="1"/>
<line x1="66.55" y1="172.40" x2="66.55" y2="174.20" stroke="#7a7a7a" stroke-width="1"/>
<line x1="94.30" y1="172.40" x2="94.30" y2="175.60" stroke="#7a7a7a" stroke-width="1"/>
<line x1="122.05" y1="172.40" x2="122.05" y2="174.20" stroke="#7a7a7a" stroke-width="1"/>
<line x1="149.80" y1="172.40" x2="149.80" y2="175.60" stroke="#7a7a7a" stroke-width="1"/>
<line x1="177.55" y1="172.40" x2="177.55" y2="174.20" stroke="#7a7a7a" stroke-width="1"/>
<line x1="205.30" y1="172.40" x2="205.30" y2="175.60" stroke="#7a7a7a" stroke-width="1"/>
<line x1="233.05" y1="172.40" x2="233.05" y2="174.20" stroke="#7a7a7a" stroke-width="1"/>
<line x1="260.80" y1="172.40" x2="260.80" y2="175.60" stroke="#7a7a7a" stroke-width="1"/>
<line x1="288.55" y1="172.40" x2="288.55" y2="174.20" stroke="#7a7a7a" stroke-width="1"/>
<line x1="316.30" y1="172.40" x2="316.30" y2="175.60" stroke="#7a7a7a" stroke-width="1"/>
<line x1="35.60" y1="160.40" x2="38.80" y2="160.40" stroke="#7a7a7a" stroke-width="1"/>
<line x1="37.00" y1="136.40" x2="38.80" y2="136.40" stroke="#7a7a7a" stroke-width="1"/>
<line x1="35.60" y1="112.40" x2="38.80" y2="112.40" stroke="#7a7a7a" stroke-width="1"/>
<line x1="37.00" y1="88.40" x2="38.80" y2="88.40" stroke="#7a7a7a" stroke-width="1"/>
<line x1="35.60" y1="64.40" x2="38.80" y2="64.40" stroke="#7a7a7a" stroke-width="1"/>
<line x1="37.00" y1="40.40" x2="38.80" y2="40.40" stroke="#7a7a7a" stroke-width="1"/>
<line x1="35.60" y1="16.40" x2="38.80" y2="16.40" stroke="#7a7a7a" stroke-width="1"/>
<line x1="319.10" y1="160.40" x2="322.30" y2="160.40" stroke="#7a7a7a" stroke-width="1"/>
<line x1="320.50" y1="148.40" x2="322.30" y2="148.40" stroke="#7a7a7a" stroke-width="1"/>
<line x1="319.10" y1="136.40" x2="322.30" y2="136.40" stroke="#7a7a7a" stroke-width="1"/>
<line x1="320.50" y1="124.40" x2="322.30" y2="124.40" stroke="#7a7a7a" stroke-width="1"/>
<line x1="319.10" y1="112.40" x2="322.30" y2="112.40" stroke="#7a7a7a" stroke-width="1"/>
<line x1="320.50" y1="100.40" x2="322.30" y2="100.40" stroke="#7a7a7a" stroke-width="1"/>
<line x1="319.10" y1="88.40" x2="322.30" y2="88.40" stroke="#7a7a7a" stroke-width="1"/>
<line x1="320.50" y1="76.40" x2="322.30" y2="76.40" stroke="#7a7a7a" stroke-width="1"/>
<line x1="319.10" y1="64.40" x2="322.30" y2="64.40" stroke="#7a7a7a" stroke-width="1"/>
<line x1="320.50" y1="52.40" x2="322.30" y2="52.40" stroke="#7a7a7a" stroke-width="1"/>
<line x1="319.10" y1="40.40" x2="322.30" y2="40.40" stroke="#7a7a7a" stroke-width="1"/>
<line x1="320.50" y1="28.40" x2="322.30" y2="28.40" stroke="#7a7a7a" stroke-width="1"/>
<text x="37.50" y="186.20" font-family='"Liberation Sans", sans-serif' font-size="9.6" fill="#1e1e1e" text-anchor="middle" textLength="5.0" lengthAdjust="spacingAndGlyphs" >0</text>
<text x="93.00" y="186.20" font-family='"Liberation Sans", sans-serif' font-size="9.6" fill="#1e1e1e" text-anchor="middle" textLength="20.02" lengthAdjust="spacingAndGlyphs" >2000</text>
<text x="148.50" y="186.20" font-family='"Liberation Sans", sans-serif' font-size="9.6" fill="#1e1e1e" text-anchor="middle" textLength="20.02" lengthAdjust="spacingAndGlyphs" >4000</text>
<text x="204.00" y="186.20" font-family='"Liberation Sans", sans-serif' font-size="9.6" fill="#1e1e1e" text-anchor="middle" textLength="20.02" lengthAdjust="spacingAndGlyphs" >6000</text>
<text x="259.50" y="186.20" font-family='"Liberation Sans", sans-serif' font-size="9.6" fill="#1e1e1e" text-anchor="middle" textLength="20.02" lengthAdjust="spacingAndGlyphs" >8000</text>
<text x="315.00" y="186.20" font-family='"Liberation Sans", sans-serif' font-size="9.6" fill="#1e1e1e" text-anchor="middle" textLength="25.02" lengthAdjust="spacingAndGlyphs" >10000</text>
<text x="32.80" y="163.75" font-family='"Liberation Sans", sans-serif' font-size="9.6" fill="#1e1e1e" text-anchor="end" textLength="5.06" lengthAdjust="spacingAndGlyphs" >0</text>
<text x="32.80" y="115.75" font-family='"Liberation Sans", sans-serif' font-size="9.6" fill="#1e1e1e" text-anchor="end" textLength="10.12" lengthAdjust="spacingAndGlyphs" >20</text>
<text x="32.80" y="67.75" font-family='"Liberation Sans", sans-serif' font-size="9.6" fill="#1e1e1e" text-anchor="end" textLength="10.12" lengthAdjust="spacingAndGlyphs" >40</text>
<text x="32.80" y="19.75" font-family='"Liberation Sans", sans-serif' font-size="9.6" fill="#1e1e1e" text-anchor="end" textLength="10.12" lengthAdjust="spacingAndGlyphs" >60</text>
<rect x="191.20" y="95.30" width="120.90" height="69.80" fill="#fff" stroke="#b4b4b4" stroke-width="1.1"/>
<line x1="195.50" y1="101.80" x2="216.10" y2="101.80" stroke="#202020" stroke-width="1.6"/>
<text x="218.70" y="105.00" font-family='"Liberation Sans", sans-serif' font-size="9.2" fill="#1e1e1e" text-anchor="start" textLength="29.3" lengthAdjust="spacingAndGlyphs" >(18,13)</text>
<line x1="195.50" y1="112.90" x2="216.10" y2="112.90" stroke="#2020e0" stroke-width="1.6"/>
<text x="218.70" y="116.10" font-family='"Liberation Sans", sans-serif' font-size="9.2" fill="#1e1e1e" text-anchor="start" textLength="29.3" lengthAdjust="spacingAndGlyphs" >(20,10)</text>
<line x1="195.50" y1="124.10" x2="216.10" y2="124.10" stroke="#702020" stroke-width="1.6"/>
<text x="218.70" y="127.30" font-family='"Liberation Sans", sans-serif' font-size="9.2" fill="#1e1e1e" text-anchor="start" textLength="29.3" lengthAdjust="spacingAndGlyphs" >(22,&#160;&#160;7)</text>
<line x1="195.50" y1="135.30" x2="216.10" y2="135.30" stroke="#f890f0" stroke-width="1.6"/>
<text x="218.70" y="138.50" font-family='"Liberation Sans", sans-serif' font-size="9.2" fill="#1e1e1e" text-anchor="start" textLength="29.3" lengthAdjust="spacingAndGlyphs" >(15,15)</text>
<line x1="256.30" y1="101.80" x2="277.10" y2="101.80" stroke="#909090" stroke-width="1.6"/>
<text x="279.40" y="105.00" font-family='"Liberation Sans", sans-serif' font-size="9.2" fill="#1e1e1e" text-anchor="start" textLength="29.3" lengthAdjust="spacingAndGlyphs" >(20,&#160;&#160;9)</text>
<line x1="256.30" y1="112.90" x2="277.10" y2="112.90" stroke="#e82888" stroke-width="1.6"/>
<text x="279.40" y="116.10" font-family='"Liberation Sans", sans-serif' font-size="9.2" fill="#1e1e1e" text-anchor="start" textLength="29.3" lengthAdjust="spacingAndGlyphs" >(19,10)</text>
<line x1="256.30" y1="124.10" x2="277.10" y2="124.10" stroke="#782078" stroke-width="1.6"/>
<text x="279.40" y="127.30" font-family='"Liberation Sans", sans-serif' font-size="9.2" fill="#1e1e1e" text-anchor="start" textLength="29.3" lengthAdjust="spacingAndGlyphs" >(16,13)</text>
<line x1="256.30" y1="135.30" x2="277.10" y2="135.30" stroke="#30e8f0" stroke-width="1.6"/>
<text x="279.40" y="138.50" font-family='"Liberation Sans", sans-serif' font-size="9.2" fill="#1e1e1e" text-anchor="start" textLength="29.3" lengthAdjust="spacingAndGlyphs" >(20,&#160;&#160;8)</text>
<line x1="256.00" y1="146.60" x2="276.30" y2="146.60" stroke="#fafa40" stroke-width="1.6"/>
<text x="278.90" y="149.80" font-family='"Liberation Sans", sans-serif' font-size="9.2" fill="#1e1e1e" text-anchor="start" textLength="29.3" lengthAdjust="spacingAndGlyphs" >(23,&#160;&#160;3)</text>
<line x1="256.00" y1="157.60" x2="276.30" y2="157.60" stroke="#808020" stroke-width="1.6"/>
<text x="278.90" y="160.80" font-family='"Liberation Sans", sans-serif' font-size="9.2" fill="#1e1e1e" text-anchor="start" textLength="29.3" lengthAdjust="spacingAndGlyphs" >(17,11)</text>
<text x="151.60" y="11.40" font-family='"Liberation Sans", sans-serif' font-size="11.6" fill="#1e1e1e">(a) <tspan font-family='"Liberation Serif", serif' font-style="italic" font-size="12.8">ω</tspan><tspan font-size="7.7" dy="2.6">2</tspan><tspan dy="-2.6">=50GHz</tspan></text>
<text transform="translate(11.00,107.00) rotate(-90)" font-family='"Liberation Sans", sans-serif' font-size="12" fill="#1e1e1e"><tspan font-family='"Liberation Serif", serif' font-style="italic" font-size="13.2">ω</tspan><tspan font-size="7.8" dy="2.4">1</tspan><tspan dy="-2.4">(GHz)</tspan></text>
<text x="157.00" y="197.30" font-family='"Liberation Sans", sans-serif' font-size="11.1" fill="#1e1e1e" text-anchor="start" textLength="48.6" lengthAdjust="spacingAndGlyphs" >Time (ps)</text>
<clipPath id="cb"><rect x="384.40" y="16.20" width="283.00" height="156.00"/></clipPath>
<g clip-path="url(#cb)">
<path d="M384.40,160.21 L384.96,160.13 L385.51,160.21 L386.07,160.05 L386.62,159.69 L387.18,160.16 L387.74,160.91 L388.29,160.99 L388.85,160.98 L389.40,160.99 L389.96,160.76 L390.52,160.46 L391.07,144.73 L391.63,140.18 L392.18,137.59 L392.74,135.31 L393.30,133.00 L393.85,130.35 L394.41,127.54 L394.96,125.06 L395.52,123.04 L396.08,121.12 L396.63,119.37 L397.19,117.58 L397.74,115.48 L398.30,113.02 L398.86,110.94 L399.41,109.46 L399.97,108.25 L400.52,107.34 L401.08,105.87 L401.64,103.68 L402.19,101.54 L402.75,100.17 L403.30,99.23 L403.86,98.34 L404.42,96.77 L404.97,95.21 L405.53,94.39 L406.08,93.40 L406.64,91.18 L407.20,88.66 L407.75,86.84 L408.31,85.83 L408.86,84.80 L409.42,82.87 L409.98,80.81 L410.53,79.20 L411.09,77.57 L411.64,75.97 L412.20,74.28 L412.76,72.60 L413.31,70.73 L413.87,68.67 L414.42,67.42 L414.98,66.53 L415.54,65.43 L416.09,64.14 L416.65,63.20 L417.20,62.58 L417.76,61.61 L418.32,60.51 L418.87,60.32 L419.43,60.34 L419.98,59.95 L420.54,59.17 L421.10,58.19 L421.65,57.80 L422.21,57.64 L422.76,57.20 L423.32,56.91 L423.88,56.65 L424.43,55.99 L424.99,55.20 L425.54,54.74 L426.10,54.68 L426.66,54.86 L427.21,54.89 L427.77,54.68 L428.32,54.17 L428.88,53.50 L429.44,52.70 L429.99,51.76 L430.55,51.00 L431.10,50.41 L431.66,49.84 L432.22,49.19 L432.77,48.60 L433.33,47.95 L433.88,47.39 L434.44,47.09 L435.00,47.16 L435.55,47.22 L436.11,46.40 L436.66,45.05 L437.22,44.47 L437.78,44.42 L438.33,44.26 L438.89,43.55 L439.44,42.86 L440.00,43.12 L440.56,43.19 L441.11,43.10 L441.67,43.36 L442.22,43.35 L442.78,42.75 L443.34,41.95 L443.89,41.11 L444.45,40.56 L445.00,40.35 L445.56,39.01 L446.12,37.54 L446.67,38.45 L447.23,41.35 L447.78,42.32 L448.34,39.81 L448.90,38.17 L449.45,38.00 L450.01,37.68 L450.56,38.46 L451.12,39.68 L451.68,40.26 L452.23,39.97 L452.79,39.95 L453.34,39.39 L453.90,38.46 L454.46,39.63 L455.01,40.87 L455.57,39.73 L456.12,39.57 L456.68,41.32 L457.24,42.06 L457.79,41.85 L458.35,41.75 L458.90,41.44 L459.46,41.28 L460.02,41.02 L460.57,40.89 L461.13,42.60 L461.68,42.36 L462.24,39.34 L462.80,38.87 L463.35,42.03 L463.91,44.88 L464.46,45.18 L465.02,43.87 L465.58,44.16 L466.13,44.75 L466.69,43.10 L467.24,40.92 L467.80,39.48 L468.36,38.49 L468.91,39.26 L469.47,41.00 L470.02,41.58 L470.58,40.44 L471.14,39.01 L471.69,38.49 L472.25,38.72 L472.80,39.03 L473.36,38.60 L473.92,38.84 L474.47,40.69 L475.03,40.93 L475.58,38.87 L476.14,38.87 L476.70,40.39 L477.25,41.24 L477.81,42.68 L478.36,44.09 L478.92,44.12 L479.48,43.56 L480.03,42.11 L480.59,40.52 L481.14,39.75 L481.70,40.25 L482.26,41.07 L482.81,42.10 L483.37,43.18 L483.92,42.88 L484.48,41.08 L485.04,40.80 L485.59,41.51 L486.15,41.62 L486.70,41.94 L487.26,41.61 L487.82,39.83 L488.37,38.97 L488.93,40.79 L489.48,42.29 L490.04,40.54 L490.60,38.25 L491.15,38.10 L491.71,37.91 L492.26,37.86 L492.82,38.22 L493.38,39.78 L493.93,40.92 L494.49,38.73 L495.04,36.03 L495.60,36.38 L496.16,37.58 L496.71,38.41 L497.27,38.37 L497.82,37.26 L498.38,35.53 L498.94,34.85 L499.49,36.94 L500.05,39.55 L500.60,41.60 L501.16,43.09 L501.72,42.77 L502.27,41.59 L502.83,40.70 L503.38,38.55 L503.94,38.23 L504.50,40.52 L505.05,41.95 L505.61,41.16 L506.16,39.78 L506.72,39.63 L507.28,41.10 L507.83,41.87 L508.39,41.77 L508.94,42.36 L509.50,44.01 L510.06,45.76 L510.61,45.74 L511.17,43.79 L511.72,40.87 L512.28,37.38 L512.84,34.98 L513.39,35.33 L513.95,36.58 L514.50,37.46 L515.06,39.20 L515.62,39.42 L516.17,38.84 L516.73,40.77 L517.28,41.82 L517.84,40.47 L518.40,39.27 L518.95,39.75 L519.51,40.44 L520.06,41.82 L520.62,42.61 L521.18,41.75 L521.73,41.90 L522.29,43.41 L522.84,43.82 L523.40,42.29 L523.96,40.13 L524.51,39.51 L525.07,39.96 L525.62,40.63 L526.18,41.32 L526.74,41.89 L527.29,43.39 L527.85,44.53 L528.40,43.62 L528.96,41.77 L529.52,40.61 L530.07,41.19 L530.63,42.89 L531.18,42.57 L531.74,41.73 L532.30,41.87 L532.85,41.72 L533.41,41.99 L533.96,41.77 L534.52,40.90 L535.08,40.83 L535.63,40.43 L536.19,41.29 L536.74,42.86 L537.30,43.39 L537.86,43.23 L538.41,42.71 L538.97,42.54 L539.52,42.13 L540.08,39.64 L540.64,38.01 L541.19,39.54 L541.75,43.66 L542.30,46.24 L542.86,45.06 L543.42,43.05 L543.97,42.40 L544.53,42.78 L545.08,42.93 L545.64,43.30 L546.20,43.08 L546.75,41.88 L547.31,42.11 L547.86,41.55 L548.42,40.99 L548.98,41.64 L549.53,40.70 L550.09,39.23 L550.64,39.27 L551.20,39.21 L551.76,39.29 L552.31,39.43 L552.87,39.56 L553.42,40.17 L553.98,39.83 L554.54,38.72 L555.09,38.67 L555.65,39.84 L556.20,40.77 L556.76,39.26 L557.32,36.93 L557.87,36.57 L558.43,37.98 L558.98,39.45 L559.54,39.13 L560.10,36.95 L560.65,35.35 L561.21,35.23 L561.76,35.35 L562.32,35.72 L562.88,36.30 L563.43,37.53 L563.99,38.13 L564.54,37.75 L565.10,36.43 L565.66,36.56 L566.21,38.40 L566.77,39.47 L567.32,40.09 L567.88,40.96 L568.44,40.78 L568.99,39.01 L569.55,36.43 L570.10,35.85 L570.66,37.68 L571.22,38.86 L571.77,39.12 L572.33,39.51 L572.88,38.98 L573.44,37.99 L574.00,38.31 L574.55,39.25 L575.11,39.02 L575.66,38.31 L576.22,39.29 L576.78,40.66 L577.33,41.63 L577.89,41.39 L578.44,40.48 L579.00,39.82 L579.56,39.47 L580.11,40.86 L580.67,43.44 L581.22,43.47 L581.78,40.66 L582.34,38.60 L582.89,37.66 L583.45,38.59 L584.00,39.54 L584.56,39.10 L585.12,39.11 L585.67,39.58 L586.23,39.28 L586.78,37.54 L587.34,36.59 L587.90,36.63 L588.45,36.54 L589.01,37.96 L589.56,40.21 L590.12,42.30 L590.68,40.96 L591.23,36.48 L591.79,34.94 L592.34,37.57 L592.90,40.61 L593.46,40.50 L594.01,39.56 L594.57,39.80 L595.12,40.86 L595.68,42.18 L596.24,42.92 L596.79,43.15 L597.35,42.28 L597.90,41.56 L598.46,41.94 L599.02,41.95 L599.57,41.17 L600.13,39.63 L600.68,38.25 L601.24,38.30 L601.80,39.64 L602.35,40.89 L602.91,39.91 L603.46,38.74 L604.02,39.46 L604.58,39.95 L605.13,38.82 L605.69,37.35 L606.24,37.93 L606.80,38.17 L607.36,36.41 L607.91,35.05 L608.47,35.03 L609.02,35.59 L609.58,36.89 L610.14,38.42 L610.69,39.53 L611.25,40.03 L611.80,39.66 L612.36,38.83 L612.92,38.55 L613.47,38.30 L614.03,38.37 L614.58,40.04 L615.14,42.13 L615.70,43.06 L616.25,43.67 L616.81,43.52 L617.36,42.48 L617.92,42.75 L618.48,43.07 L619.03,41.48 L619.59,39.19 L620.14,38.14 L620.70,37.84 L621.26,38.55 L621.81,38.87 L622.37,37.94 L622.92,37.74 L623.48,39.19 L624.04,40.96 L624.59,41.76 L625.15,41.70 L625.70,40.38 L626.26,38.03 L626.82,35.80 L627.37,35.31 L627.93,36.16 L628.48,36.67 L629.04,35.68 L629.60,33.53 L630.15,33.45 L630.71,33.75 L631.26,36.20 L631.82,37.57 L632.38,37.77 L632.93,38.58 L633.49,39.78 L634.04,40.11 L634.60,38.93 L635.16,38.20 L635.71,38.71 L636.27,40.67 L636.82,41.62 L637.38,39.72 L637.94,39.16 L638.49,41.40 L639.05,42.45 L639.60,41.92 L640.16,41.91 L640.72,41.02 L641.27,38.25 L641.83,38.26 L642.38,41.37 L642.94,42.48 L643.50,39.44 L644.05,36.33 L644.61,36.27 L645.16,38.13 L645.72,40.37 L646.28,41.31 L646.83,40.39 L647.39,38.33 L647.94,39.92 L648.50,43.79 L649.06,44.01 L649.61,41.23 L650.17,39.80 L650.72,39.22 L651.28,37.38 L651.84,36.46 L652.39,39.14 L652.95,42.30 L653.50,43.04 L654.06,43.03 L654.62,42.09 L655.17,40.73 L655.73,40.96 L656.28,41.68 L656.84,41.45 L657.40,40.79 L657.95,39.88 L658.51,39.50 L659.06,39.41 L659.62,39.23 L660.18,39.00 L660.73,39.55 L661.29,40.38 L661.84,40.95 L662.40,41.29 L662.96,40.26 L663.51,38.08 L664.07,38.82 L664.62,40.28 L665.18,40.82 L665.74,40.56 L666.29,40.10 L666.85,40.70 L667.40,41.94" fill="none" stroke="#000000" stroke-width="1.9" stroke-linejoin="round"/>
<path d="M384.40,160.83 L384.96,160.65 L385.51,160.59 L386.07,160.33 L386.62,159.45 L387.18,159.95 L387.74,159.77 L388.29,159.41 L388.85,159.31 L389.40,159.60 L389.96,160.41 L390.52,160.85 L391.07,150.24 L391.63,146.74 L392.18,143.66 L392.74,141.08 L393.30,138.54 L393.85,137.02 L394.41,134.73 L394.96,133.80 L395.52,133.43 L396.08,132.39 L396.63,132.76 L397.19,130.14 L397.74,129.19 L398.30,128.64 L398.86,128.17 L399.41,125.31 L399.97,124.88 L400.52,123.51 L401.08,121.45 L401.64,120.54 L402.19,119.33 L402.75,117.26 L403.30,116.19 L403.86,114.01 L404.42,112.48 L404.97,110.88 L405.53,110.30 L406.08,108.03 L406.64,106.71 L407.20,105.05 L407.75,104.80 L408.31,102.89 L408.86,102.23 L409.42,101.67 L409.98,101.51 L410.53,100.22 L411.09,99.45 L411.64,99.57 L412.20,99.16 L412.76,97.93 L413.31,96.01 L413.87,95.47 L414.42,94.39 L414.98,93.67 L415.54,92.74 L416.09,91.52 L416.65,90.20 L417.20,87.96 L417.76,86.66 L418.32,85.26 L418.87,84.16 L419.43,81.81 L419.98,80.36 L420.54,78.50 L421.10,76.31 L421.65,75.67 L422.21,73.99 L422.76,71.98 L423.32,70.42 L423.88,69.77 L424.43,68.15 L424.99,66.89 L425.54,66.50 L426.10,65.96 L426.66,64.45 L427.21,62.01 L427.77,61.16 L428.32,61.09 L428.88,60.17 L429.44,59.41 L429.99,58.90 L430.55,58.04 L431.10,56.84 L431.66,57.76 L432.22,57.51 L432.77,57.63 L433.33,57.48 L433.88,57.31 L434.44,56.83 L435.00,56.62 L435.55,56.02 L436.11,55.97 L436.66,56.07 L437.22,54.95 L437.78,55.96 L438.33,55.20 L438.89,54.30 L439.44,55.27 L440.00,54.40 L440.56,54.05 L441.11,54.69 L441.67,55.28 L442.22,53.56 L442.78,53.48 L443.34,53.24 L443.89,52.02 L444.45,52.00 L445.00,50.83 L445.56,50.62 L446.12,49.71 L446.67,49.58 L447.23,48.53 L447.78,47.53 L448.34,46.42 L448.90,43.86 L449.45,41.68 L450.01,39.25 L450.56,37.87 L451.12,39.53 L451.68,41.39 L452.23,39.77 L452.79,38.46 L453.34,37.12 L453.90,36.78 L454.46,37.18 L455.01,38.34 L455.57,38.25 L456.12,39.70 L456.68,37.31 L457.24,37.56 L457.79,38.06 L458.35,39.08 L458.90,39.14 L459.46,39.63 L460.02,39.02 L460.57,40.34 L461.13,38.33 L461.68,37.79 L462.24,36.76 L462.80,38.80 L463.35,39.36 L463.91,39.03 L464.46,39.10 L465.02,39.52 L465.58,40.64 L466.13,40.65 L466.69,39.80 L467.24,39.43 L467.80,40.26 L468.36,40.08 L468.91,38.57 L469.47,37.19 L470.02,37.59 L470.58,36.59 L471.14,35.92 L471.69,36.32 L472.25,37.72 L472.80,38.44 L473.36,39.81 L473.92,38.48 L474.47,37.21 L475.03,38.02 L475.58,35.56 L476.14,35.32 L476.70,37.14 L477.25,36.90 L477.81,39.29 L478.36,39.43 L478.92,38.50 L479.48,38.00 L480.03,38.42 L480.59,38.56 L481.14,35.97 L481.70,37.26 L482.26,37.75 L482.81,37.56 L483.37,38.28 L483.92,39.13 L484.48,40.06 L485.04,40.62 L485.59,37.99 L486.15,40.25 L486.70,41.61 L487.26,41.12 L487.82,40.78 L488.37,37.17 L488.93,37.72 L489.48,36.89 L490.04,36.74 L490.60,37.71 L491.15,38.27 L491.71,39.55 L492.26,39.22 L492.82,39.36 L493.38,38.85 L493.93,38.86 L494.49,36.77 L495.04,36.97 L495.60,38.54 L496.16,39.91 L496.71,37.45 L497.27,36.76 L497.82,38.15 L498.38,39.34 L498.94,37.48 L499.49,37.11 L500.05,39.75 L500.60,38.36 L501.16,39.92 L501.72,37.87 L502.27,35.81 L502.83,37.19 L503.38,37.45 L503.94,38.21 L504.50,37.37 L505.05,34.77 L505.61,35.78 L506.16,38.08 L506.72,38.53 L507.28,37.45 L507.83,35.32 L508.39,36.80 L508.94,36.76 L509.50,38.54 L510.06,39.31 L510.61,36.89 L511.17,38.01 L511.72,39.23 L512.28,39.30 L512.84,39.20 L513.39,39.33 L513.95,39.56 L514.50,36.72 L515.06,36.63 L515.62,36.45 L516.17,37.56 L516.73,37.07 L517.28,36.70 L517.84,35.56 L518.40,35.75 L518.95,36.64 L519.51,38.09 L520.06,38.90 L520.62,38.52 L521.18,38.17 L521.73,38.21 L522.29,38.18 L522.84,35.38 L523.40,36.91 L523.96,39.83 L524.51,39.55 L525.07,39.18 L525.62,37.19 L526.18,36.42 L526.74,38.23 L527.29,37.27 L527.85,37.53 L528.40,36.11 L528.96,35.83 L529.52,36.98 L530.07,37.11 L530.63,38.05 L531.18,39.01 L531.74,39.69 L532.30,38.32 L532.85,38.50 L533.41,38.94 L533.96,38.74 L534.52,39.06 L535.08,39.96 L535.63,39.11 L536.19,37.37 L536.74,38.01 L537.30,37.20 L537.86,39.77 L538.41,40.27 L538.97,38.32 L539.52,37.46 L540.08,38.51 L540.64,37.23 L541.19,36.37 L541.75,36.38 L542.30,37.66 L542.86,38.34 L543.42,39.67 L543.97,38.01 L544.53,36.83 L545.08,36.16 L545.64,38.87 L546.20,39.18 L546.75,38.69 L547.31,37.48 L547.86,40.58 L548.42,38.95 L548.98,35.24 L549.53,36.59 L550.09,39.01 L550.64,37.86 L551.20,36.54 L551.76,36.89 L552.31,38.09 L552.87,38.56 L553.42,37.08 L553.98,37.40 L554.54,36.83 L555.09,37.37 L555.65,38.00 L556.20,36.60 L556.76,38.12 L557.32,37.93 L557.87,38.85 L558.43,38.72 L558.98,38.78 L559.54,39.04 L560.10,37.80 L560.65,36.12 L561.21,35.29 L561.76,36.11 L562.32,37.67 L562.88,36.51 L563.43,36.86 L563.99,36.39 L564.54,38.79 L565.10,37.00 L565.66,38.12 L566.21,37.06 L566.77,38.01 L567.32,37.14 L567.88,38.56 L568.44,40.45 L568.99,39.56 L569.55,38.29 L570.10,38.34 L570.66,40.56 L571.22,39.78 L571.77,38.70 L572.33,37.74 L572.88,37.32 L573.44,38.55 L574.00,39.08 L574.55,37.25 L575.11,37.06 L575.66,36.14 L576.22,37.08 L576.78,36.51 L577.33,37.61 L577.89,36.71 L578.44,36.47 L579.00,36.49 L579.56,37.79 L580.11,37.47 L580.67,37.91 L581.22,37.10 L581.78,35.33 L582.34,33.33 L582.89,35.85 L583.45,36.13 L584.00,36.40 L584.56,35.61 L585.12,35.98 L585.67,35.72 L586.23,35.81 L586.78,33.93 L587.34,35.47 L587.90,38.84 L588.45,37.48 L589.01,37.85 L589.56,40.23 L590.12,39.21 L590.68,38.44 L591.23,38.40 L591.79,38.02 L592.34,39.30 L592.90,36.85 L593.46,36.21 L594.01,36.90 L594.57,37.74 L595.12,37.68 L595.68,37.67 L596.24,36.09 L596.79,35.94 L597.35,35.05 L597.90,36.87 L598.46,36.00 L599.02,37.74 L599.57,38.09 L600.13,38.52 L600.68,37.06 L601.24,37.06 L601.80,36.14 L602.35,35.32 L602.91,36.72 L603.46,36.46 L604.02,35.96 L604.58,37.04 L605.13,37.59 L605.69,36.59 L606.24,36.04 L606.80,35.64 L607.36,35.91 L607.91,37.33 L608.47,36.24 L609.02,35.50 L609.58,37.05 L610.14,36.89 L610.69,37.62 L611.25,36.58 L611.80,35.02 L612.36,36.80 L612.92,38.30 L613.47,37.21 L614.03,36.81 L614.58,36.60 L615.14,39.23 L615.70,39.26 L616.25,38.65 L616.81,39.45 L617.36,37.71 L617.92,40.37 L618.48,40.13 L619.03,40.36 L619.59,39.18 L620.14,37.32 L620.70,37.05 L621.26,36.85 L621.81,37.91 L622.37,40.44 L622.92,39.09 L623.48,40.55 L624.04,39.54 L624.59,39.05 L625.15,38.86 L625.70,38.03 L626.26,38.48 L626.82,36.14 L627.37,36.52 L627.93,36.22 L628.48,36.45 L629.04,36.60 L629.60,37.01 L630.15,35.72 L630.71,38.17 L631.26,37.32 L631.82,37.41 L632.38,37.57 L632.93,37.24 L633.49,37.80 L634.04,36.18 L634.60,35.96 L635.16,36.58 L635.71,36.53 L636.27,38.66 L636.82,39.73 L637.38,38.42 L637.94,36.91 L638.49,34.42 L639.05,36.51 L639.60,35.92 L640.16,35.49 L640.72,34.70 L641.27,36.60 L641.83,36.87 L642.38,37.99 L642.94,39.14 L643.50,39.49 L644.05,38.69 L644.61,36.40 L645.16,37.27 L645.72,38.10 L646.28,38.22 L646.83,38.73 L647.39,38.28 L647.94,37.94 L648.50,37.06 L649.06,37.28 L649.61,39.64 L650.17,37.85 L650.72,36.65 L651.28,38.89 L651.84,38.53 L652.39,37.53 L652.95,36.43 L653.50,36.97 L654.06,37.84 L654.62,37.06 L655.17,36.38 L655.73,36.54 L656.28,35.41 L656.84,37.09 L657.40,39.15 L657.95,39.08 L658.51,38.25 L659.06,37.90 L659.62,37.02 L660.18,36.70 L660.73,35.45 L661.29,35.96 L661.84,36.11 L662.40,38.49 L662.96,38.47 L663.51,37.28 L664.07,37.53 L664.62,37.23 L665.18,37.80 L665.74,38.28 L666.29,36.00 L666.85,36.79 L667.40,39.85" fill="none" stroke="#0000f8" stroke-width="1.9" stroke-linejoin="round"/>
<path d="M449.17,42.57 L449.51,39.78 L449.84,37.24 L450.17,33.31 L450.51,34.01 L450.84,34.06 L451.18,34.80 L451.51,35.06 L451.84,34.72 L452.18,34.98 L452.51,35.61 L452.84,35.86 L453.18,36.41 L453.51,34.93 L453.84,34.38 L454.18,34.12 L454.51,33.63 L454.85,33.71 L455.18,33.62 L455.51,35.73 L455.85,36.13 L456.18,34.05 L456.51,34.09 L456.85,33.91 L457.18,33.84 L457.51,35.68 L457.85,35.80 L458.18,34.55 L458.51,35.99 L458.85,35.31 L459.18,35.81 L459.52,36.55 L459.85,36.94 L460.18,35.89 L460.52,35.88 L460.85,36.05 L461.18,36.51 L461.52,36.57 L461.85,36.61 L462.18,35.73 L462.52,36.05 L462.85,35.52 L463.19,35.70 L463.52,35.78 L463.85,35.16 L464.19,35.39 L464.52,34.90 L464.85,34.96 L465.19,35.18 L465.52,34.67 L465.85,35.22 L466.19,34.84 L466.52,35.15 L466.85,35.66 L467.19,36.25 L467.52,37.29 L467.52,39.38 L467.19,40.86 L466.85,39.16 L466.52,41.02 L466.19,40.89 L465.85,41.09 L465.52,41.80 L465.19,41.43 L464.85,41.77 L464.52,42.43 L464.19,41.50 L463.85,41.99 L463.52,43.26 L463.19,43.13 L462.85,42.70 L462.52,43.88 L462.18,43.77 L461.85,42.26 L461.52,44.03 L461.18,43.81 L460.85,44.12 L460.52,44.31 L460.18,43.81 L459.85,42.25 L459.52,43.26 L459.18,41.70 L458.85,42.44 L458.51,41.51 L458.18,40.89 L457.85,41.47 L457.51,42.05 L457.18,41.93 L456.85,41.97 L456.51,42.44 L456.18,41.84 L455.85,42.22 L455.51,42.86 L455.18,40.57 L454.85,42.90 L454.51,43.44 L454.18,43.65 L453.84,43.26 L453.51,43.80 L453.18,44.10 L452.84,44.02 L452.51,43.97 L452.18,44.40 L451.84,43.64 L451.51,44.35 L451.18,44.10 L450.84,44.90 L450.51,43.35 L450.17,45.13 L449.84,44.57 L449.51,45.51 L449.17,45.81 Z" fill="#0000f8" stroke="#0000f8" stroke-width="0.8" stroke-linejoin="round"/>
<path d="M384.40,158.75 L384.96,159.03 L385.51,159.10 L386.07,158.93 L386.62,158.87 L387.18,159.75 L387.74,160.23 L388.29,159.56 L388.85,159.05 L389.40,159.38 L389.96,159.82 L390.52,160.05 L391.07,156.85 L391.63,153.85 L392.18,151.14 L392.74,148.57 L393.30,145.71 L393.85,142.97 L394.41,141.06 L394.96,139.16 L395.52,137.37 L396.08,136.43 L396.63,135.35 L397.19,133.81 L397.74,132.31 L398.30,130.53 L398.86,129.05 L399.41,128.14 L399.97,126.72 L400.52,125.19 L401.08,124.39 L401.64,123.38 L402.19,122.00 L402.75,120.80 L403.30,119.42 L403.86,117.86 L404.42,116.81 L404.97,115.84 L405.53,114.85 L406.08,113.93 L406.64,112.74 L407.20,111.20 L407.75,109.87 L408.31,108.92 L408.86,108.37 L409.42,107.45 L409.98,106.26 L410.53,105.49 L411.09,105.02 L411.64,104.57 L412.20,104.16 L412.76,103.70 L413.31,103.18 L413.87,102.06 L414.42,100.65 L414.98,100.03 L415.54,99.94 L416.09,99.92 L416.65,99.67 L417.20,99.43 L417.76,99.25 L418.32,99.43 L418.87,99.33 L419.43,98.05 L419.98,96.91 L420.54,96.58 L421.10,96.41 L421.65,95.90 L422.21,95.85 L422.76,96.24 L423.32,95.77 L423.88,94.61 L424.43,93.66 L424.99,92.82 L425.54,91.84 L426.10,91.10 L426.66,91.02 L427.21,90.58 L427.77,89.59 L428.32,88.44 L428.88,87.12 L429.44,85.93 L429.99,84.78 L430.55,83.07 L431.10,81.26 L431.66,79.79 L432.22,78.72 L432.77,77.96 L433.33,77.22 L433.88,76.04 L434.44,74.98 L435.00,74.40 L435.55,74.62 L436.11,74.78 L436.66,73.89 L437.22,72.46 L437.78,71.41 L438.33,70.74 L438.89,70.31 L439.44,70.16 L440.00,69.50 L440.56,68.45 L441.11,67.75 L441.67,67.02 L442.22,66.14 L442.78,65.84 L443.34,65.98 L443.89,65.93 L444.45,65.64 L445.00,64.87 L445.56,64.24 L446.12,63.62 L446.67,62.25 L447.23,61.26 L447.78,61.06 L448.34,60.76 L448.90,60.47 L449.45,60.39 L450.01,60.20 L450.56,60.38 L451.12,60.80 L451.68,60.59 L452.23,59.74 L452.79,58.86 L453.34,58.43 L453.90,58.36 L454.46,58.56 L455.01,58.10 L455.57,56.68 L456.12,55.98 L456.68,56.45 L457.24,56.77 L457.79,56.77 L458.35,57.01 L458.90,57.10 L459.46,56.79 L460.02,56.10 L460.57,55.72 L461.13,55.82 L461.68,56.03 L462.24,55.98 L462.80,55.24 L463.35,54.34 L463.91,53.92 L464.46,53.81 L465.02,53.99 L465.58,53.99 L466.13,53.76 L466.69,53.43 L467.24,53.33 L467.80,53.35 L468.36,52.68 L468.91,52.12 L469.47,52.08 L470.02,52.05 L470.58,51.79 L471.14,51.48 L471.69,51.49 L472.25,51.47 L472.80,50.91 L473.36,50.30 L473.92,50.12 L474.47,50.11 L475.03,50.08 L475.58,50.15 L476.14,50.29 L476.70,50.14 L477.25,49.28 L477.81,48.51 L478.36,48.44 L478.92,48.23 L479.48,47.58 L480.03,47.17 L480.59,46.92 L481.14,46.55 L481.70,46.36 L482.26,46.45 L482.81,46.20 L483.37,45.64 L483.92,45.74 L484.48,45.95 L485.04,45.60 L485.59,45.40 L486.15,45.47 L486.70,45.09 L487.26,44.59 L487.82,44.21 L488.37,44.34 L488.93,44.47 L489.48,44.17 L490.04,44.17 L490.60,44.58 L491.15,44.77 L491.71,44.70 L492.26,44.69 L492.82,45.03 L493.38,45.29 L493.93,45.28 L494.49,45.11 L495.04,45.23 L495.60,44.90 L496.16,44.29 L496.71,44.11 L497.27,44.32 L497.82,44.56 L498.38,44.72 L498.94,44.53 L499.49,43.37 L500.05,42.23 L500.60,41.94 L501.16,41.84 L501.72,41.38 L502.27,41.12 L502.83,41.14 L503.38,41.66 L503.94,42.87 L504.50,44.64 L505.05,45.20 L505.61,43.26 L506.16,41.28 L506.72,41.22 L507.28,42.72 L507.83,43.05 L508.39,43.22 L508.94,43.46 L509.50,43.30 L510.06,42.53 L510.61,41.74 L511.17,41.27 L511.72,41.22 L512.28,40.80 L512.84,40.36 L513.39,40.88 L513.95,41.24 L514.50,41.01 L515.06,41.38 L515.62,42.00 L516.17,43.09 L516.73,44.88 L517.28,45.43 L517.84,43.62 L518.40,41.85 L518.95,39.89 L519.51,39.23 L520.06,40.26 L520.62,40.17 L521.18,39.94 L521.73,40.54 L522.29,41.21 L522.84,40.49 L523.40,38.67 L523.96,36.67 L524.51,36.27 L525.07,37.84 L525.62,38.39 L526.18,37.83 L526.74,38.87 L527.29,39.97 L527.85,39.89 L528.40,39.48 L528.96,39.79 L529.52,40.47 L530.07,39.47 L530.63,37.41 L531.18,37.12 L531.74,38.52 L532.30,39.70 L532.85,39.89 L533.41,39.75 L533.96,40.32 L534.52,40.84 L535.08,41.24 L535.63,41.26 L536.19,40.75 L536.74,40.65 L537.30,40.87 L537.86,40.68 L538.41,40.67 L538.97,41.21 L539.52,41.33 L540.08,40.35 L540.64,38.96 L541.19,38.61 L541.75,39.61 L542.30,40.34 L542.86,39.41 L543.42,38.12 L543.97,39.15 L544.53,41.26 L545.08,42.07 L545.64,42.45 L546.20,43.24 L546.75,43.80 L547.31,43.61 L547.86,43.41 L548.42,41.90 L548.98,39.81 L549.53,40.23 L550.09,42.62 L550.64,44.31 L551.20,45.18 L551.76,45.58 L552.31,44.82 L552.87,43.78 L553.42,42.91 L553.98,41.84 L554.54,41.59 L555.09,40.96 L555.65,39.49 L556.20,39.29 L556.76,39.19 L557.32,38.29 L557.87,38.95 L558.43,40.74 L558.98,41.61 L559.54,42.22 L560.10,41.46 L560.65,39.03 L561.21,39.01 L561.76,41.10 L562.32,42.18 L562.88,42.20 L563.43,41.21 L563.99,40.99 L564.54,40.91 L565.10,40.48 L565.66,41.09 L566.21,41.57 L566.77,41.41 L567.32,41.51 L567.88,41.43 L568.44,41.34 L568.99,41.02 L569.55,40.95 L570.10,41.62 L570.66,41.82 L571.22,40.76 L571.77,40.23 L572.33,40.42 L572.88,41.63 L573.44,42.17 L574.00,41.20 L574.55,40.19 L575.11,40.39 L575.66,41.20 L576.22,41.93 L576.78,41.19 L577.33,40.06 L577.89,40.42 L578.44,40.86 L579.00,39.76 L579.56,38.12 L580.11,36.40 L580.67,35.44 L581.22,35.04 L581.78,35.43 L582.34,37.06 L582.89,38.24 L583.45,38.50 L584.00,39.04 L584.56,39.68 L585.12,39.30 L585.67,39.87 L586.23,41.19 L586.78,41.46 L587.34,39.20 L587.90,37.28 L588.45,37.23 L589.01,37.84 L589.56,38.20 L590.12,37.60 L590.68,37.14 L591.23,37.62 L591.79,37.59 L592.34,37.62 L592.90,38.28 L593.46,38.60 L594.01,38.69 L594.57,38.00 L595.12,36.96 L595.68,37.19 L596.24,37.40 L596.79,39.14 L597.35,41.45 L597.90,40.76 L598.46,39.31 L599.02,39.95 L599.57,41.57 L600.13,42.62 L600.68,43.68 L601.24,43.82 L601.80,42.53 L602.35,40.65 L602.91,39.37 L603.46,39.64 L604.02,41.09 L604.58,43.30 L605.13,43.97 L605.69,42.35 L606.24,41.44 L606.80,43.30 L607.36,44.16 L607.91,42.49 L608.47,41.76 L609.02,43.08 L609.58,43.56 L610.14,42.34 L610.69,40.13 L611.25,39.43 L611.80,40.20 L612.36,40.95 L612.92,41.22 L613.47,41.44 L614.03,42.19 L614.58,42.82 L615.14,42.49 L615.70,41.52 L616.25,40.74 L616.81,40.66 L617.36,40.97 L617.92,39.38 L618.48,37.47 L619.03,37.32 L619.59,39.13 L620.14,40.65 L620.70,39.64 L621.26,37.86 L621.81,37.97 L622.37,38.73 L622.92,38.81 L623.48,38.61 L624.04,39.22 L624.59,39.89 L625.15,38.53 L625.70,36.11 L626.26,35.54 L626.82,36.94 L627.37,37.47 L627.93,37.14 L628.48,38.37 L629.04,39.61 L629.60,38.72 L630.15,36.98 L630.71,36.64 L631.26,37.82 L631.82,38.44 L632.38,38.23 L632.93,37.70 L633.49,38.08 L634.04,39.36 L634.60,40.59 L635.16,41.21 L635.71,42.62 L636.27,43.35 L636.82,41.01 L637.38,39.45 L637.94,39.63 L638.49,39.66 L639.05,39.35 L639.60,39.64 L640.16,40.16 L640.72,39.47 L641.27,38.89 L641.83,39.61 L642.38,40.58 L642.94,40.57 L643.50,39.82 L644.05,37.82 L644.61,36.12 L645.16,36.59 L645.72,38.31 L646.28,39.37 L646.83,39.26 L647.39,38.99 L647.94,39.77 L648.50,41.41 L649.06,42.65 L649.61,42.01 L650.17,40.65 L650.72,39.25 L651.28,38.83 L651.84,40.33 L652.39,40.77 L652.95,39.87 L653.50,39.80 L654.06,39.49 L654.62,38.98 L655.17,39.16 L655.73,38.90 L656.28,37.47 L656.84,37.40 L657.40,39.05 L657.95,39.24 L658.51,38.67 L659.06,39.62 L659.62,40.67 L660.18,40.17 L660.73,39.61 L661.29,39.99 L661.84,39.79 L662.40,39.70 L662.96,39.91 L663.51,39.20 L664.07,38.32 L664.62,38.26 L665.18,39.61 L665.74,40.98 L666.29,40.22 L666.85,39.36 L667.40,39.91" fill="none" stroke="#800000" stroke-width="1.9" stroke-linejoin="round"/>
<path d="M384.40,158.73 L384.96,158.40 L385.51,158.90 L386.07,159.89 L386.62,160.33 L387.18,160.19 L387.74,160.40 L388.29,160.86 L388.85,160.42 L389.40,159.93 L389.96,160.47 L390.52,160.91 L391.07,156.94 L391.63,152.95 L392.18,149.88 L392.74,147.90 L393.30,145.84 L393.85,143.38 L394.41,141.34 L394.96,139.60 L395.52,137.64 L396.08,136.06 L396.63,134.94 L397.19,133.31 L397.74,131.75 L398.30,130.25 L398.86,128.81 L399.41,127.42 L399.97,125.21 L400.52,123.74 L401.08,122.95 L401.64,122.24 L402.19,120.27 L402.75,117.85 L403.30,116.51 L403.86,116.04 L404.42,115.25 L404.97,114.09 L405.53,113.16 L406.08,112.24 L406.64,111.09 L407.20,109.46 L407.75,107.69 L408.31,106.27 L408.86,105.67 L409.42,105.34 L409.98,104.77 L410.53,104.00 L411.09,102.90 L411.64,101.73 L412.20,100.69 L412.76,100.25 L413.31,100.08 L413.87,99.19 L414.42,98.33 L414.98,97.72 L415.54,96.82 L416.09,96.00 L416.65,95.04 L417.20,94.54 L417.76,94.35 L418.32,94.05 L418.87,93.85 L419.43,93.93 L419.98,93.80 L420.54,93.00 L421.10,91.63 L421.65,90.36 L422.21,89.17 L422.76,88.41 L423.32,87.79 L423.88,86.58 L424.43,85.38 L424.99,84.41 L425.54,83.49 L426.10,82.62 L426.66,81.62 L427.21,80.80 L427.77,80.55 L428.32,80.03 L428.88,78.73 L429.44,77.25 L429.99,76.22 L430.55,75.93 L431.10,76.26 L431.66,75.63 L432.22,74.24 L432.77,72.87 L433.33,71.97 L433.88,71.78 L434.44,71.33 L435.00,70.21 L435.55,69.74 L436.11,69.82 L436.66,69.00 L437.22,68.17 L437.78,67.83 L438.33,67.17 L438.89,66.29 L439.44,65.72 L440.00,65.45 L440.56,65.04 L441.11,64.32 L441.67,63.71 L442.22,63.17 L442.78,62.58 L443.34,61.77 L443.89,61.00 L444.45,60.60 L445.00,60.53 L445.56,60.47 L446.12,59.88 L446.67,59.43 L447.23,59.44 L447.78,59.67 L448.34,59.70 L448.90,58.98 L449.45,58.58 L450.01,58.37 L450.56,57.56 L451.12,56.89 L451.68,56.40 L452.23,55.95 L452.79,55.54 L453.34,55.29 L453.90,54.99 L454.46,54.54 L455.01,54.60 L455.57,54.96 L456.12,54.63 L456.68,54.16 L457.24,53.49 L457.79,52.48 L458.35,52.23 L458.90,52.68 L459.46,52.52 L460.02,51.86 L460.57,51.69 L461.13,51.83 L461.68,51.66 L462.24,50.67 L462.80,49.76 L463.35,49.48 L463.91,48.86 L464.46,47.88 L465.02,47.30 L465.58,47.03 L466.13,46.97 L466.69,47.31 L467.24,47.99 L467.80,48.06 L468.36,47.16 L468.91,45.89 L469.47,45.63 L470.02,46.01 L470.58,46.36 L471.14,46.60 L471.69,46.02 L472.25,44.65 L472.80,44.24 L473.36,44.61 L473.92,44.75 L474.47,44.27 L475.03,43.71 L475.58,43.45 L476.14,43.40 L476.70,43.34 L477.25,42.79 L477.81,42.08 L478.36,41.85 L478.92,42.06 L479.48,42.53 L480.03,42.67 L480.59,42.29 L481.14,42.36 L481.70,42.41 L482.26,42.33 L482.81,42.80 L483.37,42.11 L483.92,40.43 L484.48,39.94 L485.04,40.60 L485.59,40.67 L486.15,40.46 L486.70,41.05 L487.26,41.41 L487.82,40.72 L488.37,40.16 L488.93,39.62 L489.48,39.15 L490.04,39.86 L490.60,40.51 L491.15,39.51 L491.71,38.88 L492.26,40.50 L492.82,41.87 L493.38,42.00 L493.93,41.85 L494.49,41.77 L495.04,40.70 L495.60,40.46 L496.16,42.05 L496.71,43.49 L497.27,43.63 L497.82,43.02 L498.38,43.00 L498.94,42.86 L499.49,42.29 L500.05,41.12 L500.60,39.36 L501.16,39.84 L501.72,42.48 L502.27,42.87 L502.83,42.00 L503.38,42.09 L503.94,41.43 L504.50,39.43 L505.05,37.68 L505.61,37.96 L506.16,39.51 L506.72,40.46 L507.28,41.03 L507.83,41.94 L508.39,43.30 L508.94,43.43 L509.50,41.26 L510.06,39.13 L510.61,39.78 L511.17,41.69 L511.72,41.70 L512.28,40.81 L512.84,40.35 L513.39,39.98 L513.95,38.97 L514.50,38.37 L515.06,38.07 L515.62,39.03 L516.17,40.61 L516.73,39.44 L517.28,37.40 L517.84,37.08 L518.40,37.30 L518.95,38.17 L519.51,39.03 L520.06,38.32 L520.62,36.87 L521.18,36.27 L521.73,37.52 L522.29,39.56 L522.84,40.61 L523.40,41.46 L523.96,41.26 L524.51,40.19 L525.07,39.13 L525.62,38.44 L526.18,38.50 L526.74,39.09 L527.29,38.88 L527.85,39.04 L528.40,40.21 L528.96,40.71 L529.52,39.56 L530.07,38.52 L530.63,38.51 L531.18,39.35 L531.74,39.77 L532.30,39.31 L532.85,38.62 L533.41,37.88 L533.96,37.97 L534.52,39.25 L535.08,41.10 L535.63,43.32 L536.19,42.98 L536.74,41.62 L537.30,40.99 L537.86,41.81 L538.41,42.87 L538.97,44.36 L539.52,44.48 L540.08,42.73 L540.64,41.99 L541.19,41.68 L541.75,40.72 L542.30,41.02 L542.86,42.12 L543.42,44.08 L543.97,44.99 L544.53,44.57 L545.08,44.37 L545.64,44.68 L546.20,45.26 L546.75,44.59 L547.31,44.19 L547.86,43.98 L548.42,43.17 L548.98,42.79 L549.53,42.25 L550.09,41.21 L550.64,40.67 L551.20,40.19 L551.76,39.87 L552.31,40.35 L552.87,40.84 L553.42,41.13 L553.98,40.87 L554.54,41.30 L555.09,43.17 L555.65,44.86 L556.20,44.90 L556.76,43.38 L557.32,41.66 L557.87,41.21 L558.43,40.94 L558.98,39.82 L559.54,38.68 L560.10,38.76 L560.65,39.74 L561.21,39.77 L561.76,40.05 L562.32,41.12 L562.88,41.59 L563.43,41.68 L563.99,41.23 L564.54,41.46 L565.10,42.80 L565.66,42.98 L566.21,41.97 L566.77,41.03 L567.32,40.62 L567.88,40.45 L568.44,40.70 L568.99,40.09 L569.55,38.71 L570.10,38.17 L570.66,38.21 L571.22,37.63 L571.77,36.37 L572.33,36.41 L572.88,38.30 L573.44,39.69 L574.00,38.90 L574.55,37.73 L575.11,38.98 L575.66,39.72 L576.22,38.24 L576.78,37.77 L577.33,39.19 L577.89,40.31 L578.44,40.65 L579.00,39.16 L579.56,37.20 L580.11,37.57 L580.67,38.68 L581.22,38.88 L581.78,39.09 L582.34,40.31 L582.89,41.57 L583.45,40.62 L584.00,38.75 L584.56,38.74 L585.12,39.08 L585.67,39.08 L586.23,38.33 L586.78,38.22 L587.34,38.27 L587.90,38.32 L588.45,39.96 L589.01,41.28 L589.56,41.72 L590.12,41.62 L590.68,41.27 L591.23,40.74 L591.79,39.25 L592.34,38.74 L592.90,40.78 L593.46,41.92 L594.01,41.02 L594.57,39.03 L595.12,37.01 L595.68,36.41 L596.24,36.63 L596.79,36.21 L597.35,36.51 L597.90,39.28 L598.46,40.88 L599.02,40.12 L599.57,39.64 L600.13,40.51 L600.68,41.89 L601.24,42.44 L601.80,42.04 L602.35,41.89 L602.91,41.92 L603.46,40.94 L604.02,38.85 L604.58,37.58 L605.13,37.81 L605.69,39.41 L606.24,40.42 L606.80,40.52 L607.36,40.48 L607.91,40.77 L608.47,41.77 L609.02,42.45 L609.58,41.25 L610.14,40.66 L610.69,41.47 L611.25,40.40 L611.80,38.11 L612.36,37.20 L612.92,37.58 L613.47,36.99 L614.03,35.92 L614.58,36.92 L615.14,39.27 L615.70,39.98 L616.25,39.35 L616.81,39.94 L617.36,41.17 L617.92,41.42 L618.48,41.30 L619.03,41.78 L619.59,42.50 L620.14,43.19 L620.70,42.52 L621.26,39.88 L621.81,38.37 L622.37,39.05 L622.92,40.60 L623.48,41.03 L624.04,40.63 L624.59,41.43 L625.15,42.83 L625.70,42.72 L626.26,42.33 L626.82,41.69 L627.37,40.12 L627.93,38.21 L628.48,37.99 L629.04,38.21 L629.60,38.12 L630.15,39.30 L630.71,40.53 L631.26,40.61 L631.82,40.10 L632.38,39.19 L632.93,38.63 L633.49,38.96 L634.04,38.79 L634.60,38.01 L635.16,37.76 L635.71,38.13 L636.27,39.79 L636.82,41.96 L637.38,42.85 L637.94,41.58 L638.49,39.12 L639.05,38.67 L639.60,39.97 L640.16,40.38 L640.72,39.52 L641.27,39.06 L641.83,39.55 L642.38,40.54 L642.94,40.12 L643.50,38.97 L644.05,39.34 L644.61,39.21 L645.16,39.28 L645.72,40.39 L646.28,40.00 L646.83,39.60 L647.39,39.99 L647.94,41.01 L648.50,42.75 L649.06,42.36 L649.61,39.73 L650.17,38.62 L650.72,38.11 L651.28,37.83 L651.84,38.32 L652.39,38.32 L652.95,37.49 L653.50,36.86 L654.06,37.14 L654.62,37.98 L655.17,39.47 L655.73,40.20 L656.28,39.59 L656.84,38.49 L657.40,37.09 L657.95,36.09 L658.51,36.63 L659.06,37.00 L659.62,36.61 L660.18,37.34 L660.73,38.31 L661.29,39.14 L661.84,40.48 L662.40,41.21 L662.96,40.83 L663.51,40.89 L664.07,41.08 L664.62,40.68 L665.18,40.95 L665.74,42.17 L666.29,42.49 L666.85,40.17 L667.40,37.44" fill="none" stroke="#ff80ff" stroke-width="1.9" stroke-linejoin="round"/>
<path d="M384.40,160.03 L384.96,160.37 L385.51,160.60 L386.07,161.02 L386.62,161.31 L387.18,160.90 L387.74,160.24 L388.29,159.89 L388.85,160.06 L389.40,160.58 L389.96,160.71 L390.52,160.41 L391.07,156.49 L391.63,153.20 L392.18,150.52 L392.74,147.83 L393.30,144.63 L393.85,142.14 L394.41,140.22 L394.96,138.13 L395.52,136.27 L396.08,134.42 L396.63,132.77 L397.19,131.81 L397.74,130.95 L398.30,129.47 L398.86,127.28 L399.41,125.18 L399.97,123.55 L400.52,122.30 L401.08,121.13 L401.64,120.07 L402.19,119.19 L402.75,117.87 L403.30,116.42 L403.86,114.97 L404.42,113.42 L404.97,112.18 L405.53,111.08 L406.08,110.19 L406.64,109.17 L407.20,107.79 L407.75,106.97 L408.31,106.72 L408.86,106.41 L409.42,105.80 L409.98,104.79 L410.53,103.71 L411.09,102.80 L411.64,101.98 L412.20,101.22 L412.76,100.97 L413.31,100.89 L413.87,100.38 L414.42,99.83 L414.98,99.17 L415.54,98.09 L416.09,97.39 L416.65,97.54 L417.20,97.23 L417.76,95.52 L418.32,93.99 L418.87,93.86 L419.43,93.75 L419.98,92.98 L420.54,91.76 L421.10,90.79 L421.65,90.24 L422.21,89.74 L422.76,89.37 L423.32,88.77 L423.88,87.95 L424.43,86.88 L424.99,85.83 L425.54,84.95 L426.10,84.09 L426.66,82.95 L427.21,82.01 L427.77,81.49 L428.32,80.98 L428.88,80.16 L429.44,78.92 L429.99,77.71 L430.55,76.82 L431.10,75.89 L431.66,75.11 L432.22,74.74 L432.77,74.14 L433.33,73.37 L433.88,72.86 L434.44,72.44 L435.00,71.75 L435.55,71.07 L436.11,71.04 L436.66,70.82 L437.22,69.81 L437.78,68.73 L438.33,68.32 L438.89,68.26 L439.44,67.89 L440.00,67.48 L440.56,67.04 L441.11,66.40 L441.67,65.78 L442.22,65.09 L442.78,64.40 L443.34,63.85 L443.89,62.77 L444.45,61.77 L445.00,61.31 L445.56,61.79 L446.12,62.29 L446.67,62.10 L447.23,60.87 L447.78,59.99 L448.34,60.44 L448.90,60.29 L449.45,59.18 L450.01,58.77 L450.56,58.88 L451.12,58.33 L451.68,57.77 L452.23,57.46 L452.79,56.90 L453.34,56.38 L453.90,55.70 L454.46,55.53 L455.01,55.91 L455.57,55.93 L456.12,55.26 L456.68,54.55 L457.24,54.18 L457.79,53.88 L458.35,53.28 L458.90,52.79 L459.46,52.68 L460.02,52.23 L460.57,51.44 L461.13,50.63 L461.68,49.65 L462.24,49.03 L462.80,49.10 L463.35,49.47 L463.91,49.55 L464.46,48.53 L465.02,47.47 L465.58,47.04 L466.13,46.79 L466.69,46.67 L467.24,46.25 L467.80,46.28 L468.36,46.62 L468.91,46.52 L469.47,46.49 L470.02,46.86 L470.58,46.90 L471.14,45.88 L471.69,44.46 L472.25,43.68 L472.80,43.82 L473.36,44.88 L473.92,45.53 L474.47,45.21 L475.03,44.23 L475.58,42.73 L476.14,41.57 L476.70,41.89 L477.25,42.45 L477.81,43.12 L478.36,45.15 L478.92,45.86 L479.48,44.22 L480.03,43.13 L480.59,42.65 L481.14,42.48 L481.70,43.13 L482.26,43.09 L482.81,41.95 L483.37,40.79 L483.92,40.52 L484.48,41.51 L485.04,43.41 L485.59,44.43 L486.15,43.41 L486.70,42.79 L487.26,40.55 L487.82,38.58 L488.37,40.57 L488.93,41.89 L489.48,40.72 L490.04,41.01 L490.60,41.63 L491.15,41.02 L491.71,39.97 L492.26,39.91 L492.82,40.51 L493.38,41.23 L493.93,42.35 L494.49,42.79 L495.04,43.05 L495.60,43.40 L496.16,44.14 L496.71,43.84 L497.27,43.56 L497.82,45.43 L498.38,46.11 L498.94,44.93 L499.49,44.70 L500.05,44.61 L500.60,42.99 L501.16,41.96 L501.72,43.50 L502.27,44.26 L502.83,44.04 L503.38,43.98 L503.94,43.04 L504.50,42.27 L505.05,42.01 L505.61,41.68 L506.16,42.14 L506.72,41.18 L507.28,38.32 L507.83,37.37 L508.39,39.55 L508.94,38.93 L509.50,37.24 L510.06,38.16 L510.61,39.07 L511.17,40.57 L511.72,42.14 L512.28,42.16 L512.84,42.29 L513.39,42.81 L513.95,43.24 L514.50,43.66 L515.06,44.44 L515.62,42.60 L516.17,40.13 L516.73,40.44 L517.28,42.02 L517.84,42.43 L518.40,40.70 L518.95,38.86 L519.51,40.28 L520.06,42.61 L520.62,43.70 L521.18,43.32 L521.73,42.78 L522.29,43.65 L522.84,44.48 L523.40,44.22 L523.96,43.40 L524.51,42.91 L525.07,43.12 L525.62,43.22 L526.18,42.32 L526.74,40.90 L527.29,41.06 L527.85,41.71 L528.40,41.83 L528.96,42.78 L529.52,43.47 L530.07,41.37 L530.63,38.62 L531.18,38.08 L531.74,39.34 L532.30,41.96 L532.85,43.45 L533.41,41.96 L533.96,40.42 L534.52,41.26 L535.08,41.18 L535.63,39.85 L536.19,39.97 L536.74,40.26 L537.30,39.97 L537.86,40.20 L538.41,40.65 L538.97,40.99 L539.52,41.35 L540.08,40.92 L540.64,40.91 L541.19,42.10 L541.75,42.72 L542.30,42.04 L542.86,40.09 L543.42,38.50 L543.97,37.70 L544.53,37.32 L545.08,37.65 L545.64,38.95 L546.20,40.03 L546.75,39.79 L547.31,38.65 L547.86,36.87 L548.42,37.14 L548.98,38.78 L549.53,39.25 L550.09,37.73 L550.64,37.89 L551.20,40.19 L551.76,40.80 L552.31,39.91 L552.87,37.95 L553.42,35.90 L553.98,35.89 L554.54,36.38 L555.09,36.85 L555.65,36.81 L556.20,38.18 L556.76,40.47 L557.32,39.63 L557.87,37.75 L558.43,37.56 L558.98,37.45 L559.54,37.40 L560.10,37.02 L560.65,37.76 L561.21,39.70 L561.76,40.55 L562.32,39.46 L562.88,38.38 L563.43,38.82 L563.99,38.12 L564.54,37.31 L565.10,39.81 L565.66,41.08 L566.21,40.97 L566.77,41.66 L567.32,41.97 L567.88,42.56 L568.44,42.90 L568.99,42.41 L569.55,42.54 L570.10,41.73 L570.66,40.54 L571.22,40.52 L571.77,39.26 L572.33,37.65 L572.88,37.75 L573.44,39.35 L574.00,41.56 L574.55,42.60 L575.11,41.53 L575.66,40.95 L576.22,41.91 L576.78,42.13 L577.33,41.51 L577.89,41.69 L578.44,41.87 L579.00,42.66 L579.56,42.24 L580.11,39.64 L580.67,38.85 L581.22,40.58 L581.78,42.32 L582.34,41.94 L582.89,41.05 L583.45,40.48 L584.00,40.47 L584.56,41.91 L585.12,42.88 L585.67,44.49 L586.23,45.19 L586.78,43.60 L587.34,41.79 L587.90,41.96 L588.45,42.93 L589.01,43.80 L589.56,44.29 L590.12,43.90 L590.68,43.05 L591.23,42.41 L591.79,43.22 L592.34,44.08 L592.90,41.96 L593.46,39.48 L594.01,39.66 L594.57,40.62 L595.12,41.30 L595.68,41.40 L596.24,41.48 L596.79,42.00 L597.35,42.24 L597.90,42.22 L598.46,41.72 L599.02,41.10 L599.57,39.47 L600.13,39.31 L600.68,40.65 L601.24,40.33 L601.80,39.48 L602.35,39.30 L602.91,40.41 L603.46,41.09 L604.02,40.52 L604.58,40.62 L605.13,41.69 L605.69,41.03 L606.24,40.71 L606.80,41.21 L607.36,40.43 L607.91,38.60 L608.47,37.39 L609.02,38.21 L609.58,41.54 L610.14,43.92 L610.69,43.23 L611.25,41.72 L611.80,39.94 L612.36,37.25 L612.92,36.43 L613.47,39.35 L614.03,41.83 L614.58,41.48 L615.14,41.31 L615.70,40.85 L616.25,40.06 L616.81,40.41 L617.36,41.04 L617.92,40.73 L618.48,39.90 L619.03,39.44 L619.59,41.43 L620.14,45.51 L620.70,46.10 L621.26,43.82 L621.81,41.79 L622.37,41.27 L622.92,42.37 L623.48,43.98 L624.04,43.54 L624.59,42.38 L625.15,42.59 L625.70,42.70 L626.26,41.64 L626.82,41.71 L627.37,42.79 L627.93,41.79 L628.48,41.80 L629.04,42.62 L629.60,41.91 L630.15,41.00 L630.71,40.95 L631.26,41.65 L631.82,41.97 L632.38,42.31 L632.93,41.66 L633.49,40.93 L634.04,41.09 L634.60,41.43 L635.16,41.62 L635.71,41.62 L636.27,42.74 L636.82,43.61 L637.38,43.33 L637.94,43.22 L638.49,42.97 L639.05,42.02 L639.60,41.87 L640.16,43.09 L640.72,45.25 L641.27,45.90 L641.83,45.10 L642.38,44.34 L642.94,42.83 L643.50,40.70 L644.05,39.00 L644.61,38.72 L645.16,40.31 L645.72,42.04 L646.28,42.39 L646.83,42.45 L647.39,42.52 L647.94,42.11 L648.50,40.77 L649.06,40.99 L649.61,42.86 L650.17,43.71 L650.72,42.86 L651.28,42.15 L651.84,42.05 L652.39,42.31 L652.95,41.47 L653.50,39.44 L654.06,39.19 L654.62,40.95 L655.17,41.10 L655.73,40.25 L656.28,40.08 L656.84,39.09 L657.40,38.08 L657.95,39.28 L658.51,40.37 L659.06,41.14 L659.62,42.45 L660.18,42.91 L660.73,41.34 L661.29,40.83 L661.84,40.44 L662.40,39.34 L662.96,40.37 L663.51,41.96 L664.07,41.56 L664.62,40.23 L665.18,40.70 L665.74,42.61 L666.29,44.06 L666.85,43.60 L667.40,42.52" fill="none" stroke="#808080" stroke-width="1.9" stroke-linejoin="round"/>
<path d="M384.40,160.20 L384.96,159.92 L385.51,159.44 L386.07,159.40 L386.62,159.56 L387.18,159.25 L387.74,159.14 L388.29,159.86 L388.85,160.52 L389.40,160.91 L389.96,161.06 L390.52,160.52 L391.07,157.16 L391.63,154.57 L392.18,151.78 L392.74,148.87 L393.30,146.79 L393.85,145.20 L394.41,143.60 L394.96,141.77 L395.52,139.76 L396.08,137.82 L396.63,136.16 L397.19,134.91 L397.74,133.77 L398.30,132.13 L398.86,130.61 L399.41,129.25 L399.97,127.78 L400.52,126.27 L401.08,124.96 L401.64,123.87 L402.19,122.81 L402.75,121.27 L403.30,119.58 L403.86,118.53 L404.42,117.92 L404.97,117.10 L405.53,116.11 L406.08,114.93 L406.64,113.49 L407.20,112.00 L407.75,110.73 L408.31,109.62 L408.86,109.13 L409.42,109.06 L409.98,108.55 L410.53,108.12 L411.09,107.84 L411.64,106.99 L412.20,105.54 L412.76,104.25 L413.31,103.85 L413.87,103.74 L414.42,103.47 L414.98,103.07 L415.54,102.54 L416.09,102.33 L416.65,102.07 L417.20,100.68 L417.76,99.07 L418.32,98.88 L418.87,99.13 L419.43,99.04 L419.98,98.82 L420.54,98.19 L421.10,97.77 L421.65,97.84 L422.21,97.44 L422.76,96.63 L423.32,95.89 L423.88,95.11 L424.43,94.05 L424.99,93.04 L425.54,92.28 L426.10,91.55 L426.66,91.12 L427.21,90.94 L427.77,90.43 L428.32,89.67 L428.88,88.90 L429.44,88.26 L429.99,87.31 L430.55,86.36 L431.10,86.24 L431.66,86.08 L432.22,85.10 L432.77,84.13 L433.33,83.43 L433.88,82.50 L434.44,81.67 L435.00,81.32 L435.55,80.92 L436.11,80.22 L436.66,79.39 L437.22,78.84 L437.78,78.30 L438.33,77.24 L438.89,76.51 L439.44,76.71 L440.00,76.40 L440.56,75.42 L441.11,74.41 L441.67,73.58 L442.22,73.59 L442.78,73.34 L443.34,72.13 L443.89,70.73 L444.45,69.90 L445.00,69.48 L445.56,69.08 L446.12,68.95 L446.67,69.02 L447.23,68.28 L447.78,67.58 L448.34,67.48 L448.90,66.89 L449.45,66.00 L450.01,65.63 L450.56,65.41 L451.12,64.93 L451.68,64.75 L452.23,65.00 L452.79,65.46 L453.34,65.42 L453.90,64.70 L454.46,64.30 L455.01,64.80 L455.57,64.53 L456.12,63.46 L456.68,63.35 L457.24,63.67 L457.79,62.94 L458.35,61.81 L458.90,61.36 L459.46,61.49 L460.02,60.87 L460.57,59.80 L461.13,59.52 L461.68,59.81 L462.24,59.83 L462.80,59.32 L463.35,58.45 L463.91,57.84 L464.46,57.36 L465.02,57.34 L465.58,57.61 L466.13,57.30 L466.69,56.61 L467.24,55.94 L467.80,55.39 L468.36,55.25 L468.91,55.40 L469.47,55.61 L470.02,55.85 L470.58,55.62 L471.14,55.07 L471.69,54.96 L472.25,55.12 L472.80,54.99 L473.36,54.70 L473.92,54.11 L474.47,53.57 L475.03,53.63 L475.58,53.40 L476.14,52.75 L476.70,52.40 L477.25,52.46 L477.81,52.50 L478.36,52.10 L478.92,51.75 L479.48,51.54 L480.03,51.09 L480.59,50.24 L481.14,49.13 L481.70,48.41 L482.26,48.22 L482.81,48.12 L483.37,48.44 L483.92,48.60 L484.48,47.75 L485.04,46.65 L485.59,46.29 L486.15,46.20 L486.70,45.89 L487.26,46.18 L487.82,46.33 L488.37,45.65 L488.93,44.74 L489.48,44.44 L490.04,44.83 L490.60,45.28 L491.15,44.83 L491.71,43.89 L492.26,43.27 L492.82,42.92 L493.38,42.75 L493.93,43.57 L494.49,44.49 L495.04,43.71 L495.60,41.66 L496.16,40.92 L496.71,41.11 L497.27,40.71 L497.82,40.95 L498.38,41.97 L498.94,42.67 L499.49,41.84 L500.05,40.30 L500.60,39.48 L501.16,38.59 L501.72,36.82 L502.27,36.43 L502.83,37.84 L503.38,38.89 L503.94,39.31 L504.50,38.84 L505.05,38.54 L505.61,37.91 L506.16,37.08 L506.72,36.48 L507.28,36.44 L507.83,37.56 L508.39,37.92 L508.94,37.33 L509.50,37.20 L510.06,37.68 L510.61,38.62 L511.17,38.96 L511.72,38.21 L512.28,37.54 L512.84,36.97 L513.39,37.58 L513.95,39.94 L514.50,41.87 L515.06,42.76 L515.62,43.61 L516.17,43.02 L516.73,40.22 L517.28,38.33 L517.84,38.42 L518.40,40.15 L518.95,41.04 L519.51,41.22 L520.06,41.16 L520.62,40.92 L521.18,41.54 L521.73,42.49 L522.29,44.07 L522.84,45.84 L523.40,45.33 L523.96,42.83 L524.51,40.28 L525.07,39.63 L525.62,40.04 L526.18,40.60 L526.74,40.66 L527.29,40.58 L527.85,42.30 L528.40,43.34 L528.96,41.64 L529.52,40.31 L530.07,40.60 L530.63,40.41 L531.18,39.27 L531.74,38.57 L532.30,38.58 L532.85,38.59 L533.41,38.82 L533.96,39.71 L534.52,41.30 L535.08,41.26 L535.63,41.16 L536.19,42.21 L536.74,42.58 L537.30,41.72 L537.86,42.29 L538.41,43.55 L538.97,43.51 L539.52,42.73 L540.08,42.69 L540.64,43.46 L541.19,43.21 L541.75,41.71 L542.30,40.11 L542.86,39.30 L543.42,39.86 L543.97,39.46 L544.53,39.01 L545.08,39.83 L545.64,40.23 L546.20,40.49 L546.75,40.42 L547.31,40.72 L547.86,42.84 L548.42,44.75 L548.98,44.91 L549.53,42.94 L550.09,41.18 L550.64,41.05 L551.20,41.36 L551.76,41.52 L552.31,41.17 L552.87,41.55 L553.42,41.36 L553.98,40.33 L554.54,40.55 L555.09,41.04 L555.65,41.12 L556.20,41.31 L556.76,42.46 L557.32,43.32 L557.87,42.31 L558.43,41.17 L558.98,40.95 L559.54,40.44 L560.10,39.99 L560.65,40.98 L561.21,41.54 L561.76,42.02 L562.32,43.15 L562.88,42.67 L563.43,40.52 L563.99,39.65 L564.54,41.08 L565.10,42.55 L565.66,41.75 L566.21,39.86 L566.77,38.36 L567.32,37.65 L567.88,37.60 L568.44,37.52 L568.99,38.95 L569.55,41.17 L570.10,40.85 L570.66,40.13 L571.22,39.99 L571.77,40.80 L572.33,42.20 L572.88,42.14 L573.44,40.90 L574.00,40.12 L574.55,39.70 L575.11,38.96 L575.66,37.96 L576.22,37.96 L576.78,38.45 L577.33,39.63 L577.89,39.77 L578.44,40.32 L579.00,42.35 L579.56,42.47 L580.11,40.17 L580.67,37.99 L581.22,37.41 L581.78,38.10 L582.34,39.61 L582.89,41.34 L583.45,40.89 L584.00,39.78 L584.56,40.81 L585.12,42.62 L585.67,43.70 L586.23,43.63 L586.78,42.84 L587.34,40.54 L587.90,38.81 L588.45,39.45 L589.01,40.79 L589.56,41.51 L590.12,42.07 L590.68,42.81 L591.23,41.78 L591.79,40.89 L592.34,42.92 L592.90,44.58 L593.46,43.97 L594.01,42.55 L594.57,43.40 L595.12,45.11 L595.68,44.37 L596.24,41.80 L596.79,40.54 L597.35,40.78 L597.90,40.97 L598.46,40.12 L599.02,39.78 L599.57,41.91 L600.13,45.37 L600.68,46.88 L601.24,45.76 L601.80,44.32 L602.35,44.49 L602.91,44.14 L603.46,43.21 L604.02,43.22 L604.58,42.37 L605.13,40.03 L605.69,38.50 L606.24,37.75 L606.80,37.07 L607.36,37.31 L607.91,39.07 L608.47,41.23 L609.02,42.42 L609.58,41.65 L610.14,39.89 L610.69,37.91 L611.25,36.57 L611.80,35.88 L612.36,35.93 L612.92,36.70 L613.47,38.11 L614.03,39.69 L614.58,40.89 L615.14,41.65 L615.70,41.98 L616.25,41.89 L616.81,43.51 L617.36,46.66 L617.92,46.88 L618.48,46.28 L619.03,45.00 L619.59,44.41 L620.14,44.89 L620.70,47.37 L621.26,48.79 L621.81,47.31 L622.37,45.66 L622.92,46.35 L623.48,48.85 L624.04,49.82 L624.59,48.55 L625.15,46.67 L625.70,46.17 L626.26,46.28 L626.82,46.03 L627.37,46.08 L627.93,45.92 L628.48,45.44 L629.04,44.92 L629.60,43.80 L630.15,42.19 L630.71,40.50 L631.26,39.27 L631.82,40.17 L632.38,43.34 L632.93,46.35 L633.49,46.63 L634.04,45.37 L634.60,45.05 L635.16,45.32 L635.71,44.68 L636.27,44.10 L636.82,44.28 L637.38,44.31 L637.94,44.58 L638.49,45.33 L639.05,45.43 L639.60,44.66 L640.16,44.81 L640.72,46.67 L641.27,46.88 L641.83,46.54 L642.38,45.15 L642.94,44.75 L643.50,43.84 L644.05,43.63 L644.61,43.87 L645.16,43.61 L645.72,42.72 L646.28,42.47 L646.83,43.51 L647.39,44.50 L647.94,44.29 L648.50,44.35 L649.06,43.33 L649.61,41.79 L650.17,41.19 L650.72,40.80 L651.28,40.84 L651.84,41.35 L652.39,41.07 L652.95,39.52 L653.50,39.36 L654.06,41.17 L654.62,42.15 L655.17,41.86 L655.73,41.49 L656.28,40.39 L656.84,38.98 L657.40,38.10 L657.95,38.17 L658.51,40.09 L659.06,42.40 L659.62,42.30 L660.18,40.05 L660.73,39.10 L661.29,40.88 L661.84,41.66 L662.40,40.62 L662.96,40.31 L663.51,40.17 L664.07,40.85 L664.62,42.69 L665.18,43.43 L665.74,42.73 L666.29,41.51 L666.85,41.29 L667.40,42.06" fill="none" stroke="#f00080" stroke-width="1.9" stroke-linejoin="round"/>
<path d="M384.40,159.38 L384.96,158.63 L385.51,158.18 L386.07,158.60 L386.62,159.26 L387.18,159.36 L387.74,159.52 L388.29,159.47 L388.85,159.47 L389.40,159.95 L389.96,160.09 L390.52,159.39 L391.07,155.58 L391.63,152.77 L392.18,150.68 L392.74,148.40 L393.30,146.28 L393.85,144.47 L394.41,142.64 L394.96,140.71 L395.52,139.20 L396.08,138.04 L396.63,136.89 L397.19,135.17 L397.74,133.40 L398.30,132.36 L398.86,131.63 L399.41,129.96 L399.97,128.21 L400.52,126.79 L401.08,125.04 L401.64,123.51 L402.19,122.58 L402.75,121.65 L403.30,120.56 L403.86,119.52 L404.42,118.50 L404.97,117.84 L405.53,117.37 L406.08,116.26 L406.64,114.63 L407.20,113.56 L407.75,112.87 L408.31,111.74 L408.86,110.85 L409.42,110.61 L409.98,109.73 L410.53,108.28 L411.09,107.52 L411.64,107.43 L412.20,106.85 L412.76,105.58 L413.31,104.66 L413.87,104.75 L414.42,104.73 L414.98,103.79 L415.54,103.19 L416.09,103.07 L416.65,102.54 L417.20,101.54 L417.76,100.91 L418.32,100.56 L418.87,100.12 L419.43,99.54 L419.98,98.85 L420.54,98.62 L421.10,98.89 L421.65,98.68 L422.21,97.86 L422.76,97.11 L423.32,97.20 L423.88,97.29 L424.43,96.72 L424.99,96.13 L425.54,95.63 L426.10,95.18 L426.66,94.77 L427.21,93.65 L427.77,92.02 L428.32,91.27 L428.88,90.68 L429.44,89.45 L429.99,88.64 L430.55,88.42 L431.10,87.56 L431.66,86.37 L432.22,85.42 L432.77,84.57 L433.33,83.89 L433.88,82.91 L434.44,81.56 L435.00,80.38 L435.55,79.65 L436.11,79.15 L436.66,78.60 L437.22,77.53 L437.78,76.01 L438.33,75.28 L438.89,74.79 L439.44,73.93 L440.00,73.17 L440.56,72.92 L441.11,73.07 L441.67,72.94 L442.22,72.31 L442.78,71.71 L443.34,71.10 L443.89,70.29 L444.45,69.44 L445.00,68.96 L445.56,69.19 L446.12,69.21 L446.67,68.38 L447.23,67.92 L447.78,67.90 L448.34,67.38 L448.90,66.93 L449.45,66.71 L450.01,66.20 L450.56,65.56 L451.12,64.97 L451.68,64.63 L452.23,64.52 L452.79,64.02 L453.34,63.58 L453.90,63.92 L454.46,63.98 L455.01,63.37 L455.57,62.60 L456.12,62.34 L456.68,62.38 L457.24,62.01 L457.79,61.41 L458.35,60.73 L458.90,60.60 L459.46,60.51 L460.02,60.35 L460.57,60.25 L461.13,60.20 L461.68,59.91 L462.24,59.49 L462.80,59.08 L463.35,58.84 L463.91,58.98 L464.46,59.18 L465.02,59.12 L465.58,58.66 L466.13,58.00 L466.69,57.35 L467.24,57.18 L467.80,57.21 L468.36,56.74 L468.91,56.38 L469.47,56.61 L470.02,56.34 L470.58,55.41 L471.14,55.04 L471.69,54.82 L472.25,54.75 L472.80,55.39 L473.36,55.96 L473.92,56.06 L474.47,55.51 L475.03,55.23 L475.58,55.49 L476.14,55.52 L476.70,55.11 L477.25,54.47 L477.81,54.01 L478.36,54.18 L478.92,54.46 L479.48,54.72 L480.03,54.96 L480.59,54.86 L481.14,54.63 L481.70,54.55 L482.26,54.71 L482.81,54.39 L483.37,54.05 L483.92,54.22 L484.48,53.81 L485.04,53.06 L485.59,52.85 L486.15,52.57 L486.70,52.43 L487.26,52.70 L487.82,52.42 L488.37,51.61 L488.93,51.35 L489.48,51.37 L490.04,51.41 L490.60,51.50 L491.15,51.85 L491.71,52.01 L492.26,51.72 L492.82,51.30 L493.38,50.91 L493.93,50.45 L494.49,50.05 L495.04,49.78 L495.60,49.51 L496.16,49.29 L496.71,48.67 L497.27,48.01 L497.82,48.14 L498.38,48.58 L498.94,48.42 L499.49,48.18 L500.05,47.63 L500.60,47.31 L501.16,47.33 L501.72,47.13 L502.27,46.50 L502.83,46.22 L503.38,46.34 L503.94,45.99 L504.50,45.01 L505.05,44.22 L505.61,44.10 L506.16,44.22 L506.72,43.70 L507.28,42.66 L507.83,41.87 L508.39,41.70 L508.94,42.24 L509.50,42.57 L510.06,42.02 L510.61,41.62 L511.17,41.69 L511.72,41.72 L512.28,41.82 L512.84,41.41 L513.39,40.01 L513.95,38.01 L514.50,37.98 L515.06,40.28 L515.62,42.60 L516.17,42.54 L516.73,41.01 L517.28,40.64 L517.84,41.79 L518.40,43.61 L518.95,43.81 L519.51,42.61 L520.06,42.65 L520.62,43.48 L521.18,42.85 L521.73,41.58 L522.29,41.07 L522.84,40.04 L523.40,39.35 L523.96,40.41 L524.51,41.88 L525.07,42.37 L525.62,42.81 L526.18,44.58 L526.74,45.40 L527.29,45.09 L527.85,44.63 L528.40,43.67 L528.96,43.44 L529.52,43.54 L530.07,43.95 L530.63,44.49 L531.18,45.57 L531.74,46.35 L532.30,46.35 L532.85,43.53 L533.41,40.68 L533.96,40.50 L534.52,42.04 L535.08,42.82 L535.63,41.46 L536.19,39.85 L536.74,39.01 L537.30,39.74 L537.86,42.78 L538.41,44.44 L538.97,44.09 L539.52,43.41 L540.08,42.19 L540.64,41.23 L541.19,41.16 L541.75,40.98 L542.30,40.50 L542.86,40.78 L543.42,41.86 L543.97,41.71 L544.53,40.85 L545.08,41.52 L545.64,42.19 L546.20,41.80 L546.75,41.50 L547.31,41.23 L547.86,40.65 L548.42,39.96 L548.98,40.43 L549.53,42.07 L550.09,42.08 L550.64,41.06 L551.20,42.50 L551.76,44.72 L552.31,44.85 L552.87,43.63 L553.42,43.77 L553.98,44.65 L554.54,44.24 L555.09,42.50 L555.65,40.53 L556.20,40.26 L556.76,41.48 L557.32,42.30 L557.87,41.36 L558.43,39.95 L558.98,39.24 L559.54,38.98 L560.10,39.17 L560.65,39.31 L561.21,39.75 L561.76,39.84 L562.32,38.98 L562.88,38.91 L563.43,40.16 L563.99,42.10 L564.54,42.84 L565.10,42.26 L565.66,41.31 L566.21,39.87 L566.77,38.62 L567.32,38.22 L567.88,39.29 L568.44,40.38 L568.99,40.35 L569.55,40.95 L570.10,41.32 L570.66,40.53 L571.22,39.07 L571.77,36.85 L572.33,35.61 L572.88,36.64 L573.44,38.10 L574.00,39.58 L574.55,40.69 L575.11,41.31 L575.66,40.67 L576.22,39.31 L576.78,39.28 L577.33,40.16 L577.89,40.22 L578.44,39.49 L579.00,40.26 L579.56,41.12 L580.11,40.31 L580.67,38.82 L581.22,37.85 L581.78,38.37 L582.34,39.93 L582.89,39.23 L583.45,36.59 L584.00,36.15 L584.56,38.55 L585.12,40.78 L585.67,42.04 L586.23,42.09 L586.78,41.45 L587.34,40.95 L587.90,40.37 L588.45,39.30 L589.01,39.19 L589.56,39.31 L590.12,39.36 L590.68,40.65 L591.23,41.49 L591.79,39.87 L592.34,38.25 L592.90,39.08 L593.46,40.54 L594.01,41.66 L594.57,42.43 L595.12,44.04 L595.68,45.94 L596.24,45.94 L596.79,45.03 L597.35,42.76 L597.90,40.03 L598.46,38.97 L599.02,40.34 L599.57,41.49 L600.13,41.39 L600.68,41.94 L601.24,43.77 L601.80,44.29 L602.35,43.65 L602.91,44.10 L603.46,44.99 L604.02,44.70 L604.58,43.95 L605.13,42.52 L605.69,42.69 L606.24,43.95 L606.80,43.07 L607.36,42.15 L607.91,41.55 L608.47,39.68 L609.02,38.68 L609.58,40.63 L610.14,43.60 L610.69,45.08 L611.25,44.75 L611.80,42.93 L612.36,40.74 L612.92,40.12 L613.47,40.12 L614.03,39.86 L614.58,40.27 L615.14,41.15 L615.70,41.89 L616.25,41.76 L616.81,41.18 L617.36,40.10 L617.92,38.48 L618.48,38.53 L619.03,39.04 L619.59,38.92 L620.14,38.85 L620.70,37.90 L621.26,36.86 L621.81,36.82 L622.37,38.56 L622.92,40.28 L623.48,41.20 L624.04,41.19 L624.59,40.57 L625.15,40.33 L625.70,39.93 L626.26,39.65 L626.82,40.32 L627.37,41.49 L627.93,40.58 L628.48,39.51 L629.04,39.48 L629.60,38.85 L630.15,37.85 L630.71,38.26 L631.26,38.91 L631.82,39.38 L632.38,39.44 L632.93,38.87 L633.49,39.03 L634.04,40.30 L634.60,41.11 L635.16,40.92 L635.71,40.20 L636.27,40.23 L636.82,39.82 L637.38,38.66 L637.94,38.23 L638.49,38.31 L639.05,38.44 L639.60,38.56 L640.16,39.31 L640.72,40.04 L641.27,39.76 L641.83,39.50 L642.38,39.34 L642.94,39.34 L643.50,39.92 L644.05,39.29 L644.61,36.88 L645.16,35.83 L645.72,36.60 L646.28,36.92 L646.83,37.80 L647.39,39.38 L647.94,40.03 L648.50,39.74 L649.06,39.46 L649.61,39.35 L650.17,39.53 L650.72,39.51 L651.28,39.32 L651.84,40.18 L652.39,39.95 L652.95,37.98 L653.50,36.62 L654.06,36.84 L654.62,38.42 L655.17,39.32 L655.73,39.05 L656.28,39.71 L656.84,40.93 L657.40,41.68 L657.95,42.49 L658.51,43.44 L659.06,43.34 L659.62,43.08 L660.18,42.53 L660.73,41.93 L661.29,39.79 L661.84,38.51 L662.40,40.40 L662.96,41.30 L663.51,40.43 L664.07,41.36 L664.62,42.32 L665.18,43.04 L665.74,45.32 L666.29,45.84 L666.85,45.10 L667.40,44.49" fill="none" stroke="#800080" stroke-width="1.9" stroke-linejoin="round"/>
<path d="M384.40,161.12 L384.96,161.14 L385.51,160.87 L386.07,160.04 L386.62,159.80 L387.18,160.15 L387.74,160.40 L388.29,160.30 L388.85,160.22 L389.40,160.45 L389.96,160.77 L390.52,160.92 L391.07,155.63 L391.63,151.76 L392.18,149.87 L392.74,148.13 L393.30,146.28 L393.85,144.48 L394.41,143.23 L394.96,142.61 L395.52,141.88 L396.08,141.00 L396.63,140.56 L397.19,139.98 L397.74,139.14 L398.30,138.16 L398.86,137.05 L399.41,136.24 L399.97,135.70 L400.52,135.21 L401.08,134.57 L401.64,133.97 L402.19,133.22 L402.75,132.19 L403.30,131.09 L403.86,130.21 L404.42,129.66 L404.97,129.10 L405.53,128.37 L406.08,127.48 L406.64,126.10 L407.20,124.66 L407.75,123.64 L408.31,122.69 L408.86,121.31 L409.42,120.56 L409.98,120.01 L410.53,118.82 L411.09,117.60 L411.64,116.52 L412.20,115.76 L412.76,115.52 L413.31,115.06 L413.87,114.45 L414.42,113.81 L414.98,112.86 L415.54,112.08 L416.09,111.63 L416.65,110.84 L417.20,110.00 L417.76,109.72 L418.32,109.57 L418.87,108.85 L419.43,107.87 L419.98,106.93 L420.54,106.15 L421.10,105.61 L421.65,105.41 L422.21,104.93 L422.76,104.01 L423.32,102.82 L423.88,102.24 L424.43,102.14 L424.99,101.75 L425.54,101.52 L426.10,101.44 L426.66,100.79 L427.21,99.72 L427.77,98.91 L428.32,98.39 L428.88,97.78 L429.44,97.20 L429.99,96.89 L430.55,96.59 L431.10,95.90 L431.66,95.29 L432.22,94.68 L432.77,93.53 L433.33,92.65 L433.88,92.16 L434.44,91.82 L435.00,91.96 L435.55,91.91 L436.11,91.28 L436.66,90.21 L437.22,89.10 L437.78,88.61 L438.33,88.19 L438.89,87.35 L439.44,86.58 L440.00,86.30 L440.56,85.98 L441.11,85.19 L441.67,84.39 L442.22,83.80 L442.78,83.18 L443.34,82.80 L443.89,82.39 L444.45,81.55 L445.00,80.80 L445.56,80.45 L446.12,80.02 L446.67,79.72 L447.23,79.55 L447.78,79.15 L448.34,78.58 L448.90,78.16 L449.45,77.89 L450.01,77.82 L450.56,77.94 L451.12,77.90 L451.68,77.58 L452.23,77.08 L452.79,76.60 L453.34,76.18 L453.90,75.89 L454.46,75.75 L455.01,75.24 L455.57,74.39 L456.12,73.88 L456.68,73.74 L457.24,73.48 L457.79,73.48 L458.35,73.82 L458.90,73.91 L459.46,73.84 L460.02,73.54 L460.57,73.27 L461.13,73.15 L461.68,72.82 L462.24,72.58 L462.80,72.44 L463.35,72.39 L463.91,72.70 L464.46,72.79 L465.02,72.43 L465.58,72.17 L466.13,72.12 L466.69,72.19 L467.24,72.19 L467.80,72.11 L468.36,71.95 L468.91,71.62 L469.47,71.03 L470.02,70.03 L470.58,69.39 L471.14,69.95 L471.69,70.38 L472.25,70.16 L472.80,70.09 L473.36,69.91 L473.92,69.42 L474.47,68.93 L475.03,68.57 L475.58,68.28 L476.14,67.90 L476.70,67.43 L477.25,67.34 L477.81,67.58 L478.36,67.69 L478.92,67.46 L479.48,66.83 L480.03,66.18 L480.59,65.75 L481.14,65.66 L481.70,65.68 L482.26,66.09 L482.81,66.35 L483.37,65.83 L483.92,65.01 L484.48,64.60 L485.04,64.55 L485.59,64.40 L486.15,64.42 L486.70,64.35 L487.26,63.82 L487.82,63.24 L488.37,63.23 L488.93,63.57 L489.48,63.74 L490.04,63.32 L490.60,62.70 L491.15,62.52 L491.71,62.96 L492.26,63.28 L492.82,63.20 L493.38,62.81 L493.93,62.39 L494.49,62.11 L495.04,61.81 L495.60,61.95 L496.16,62.31 L496.71,62.48 L497.27,62.49 L497.82,61.98 L498.38,61.09 L498.94,60.82 L499.49,61.02 L500.05,60.71 L500.60,60.21 L501.16,60.18 L501.72,60.06 L502.27,59.88 L502.83,59.95 L503.38,60.06 L503.94,60.13 L504.50,60.34 L505.05,60.61 L505.61,60.55 L506.16,60.65 L506.72,60.97 L507.28,61.24 L507.83,61.96 L508.39,62.76 L508.94,62.71 L509.50,62.10 L510.06,62.03 L510.61,62.66 L511.17,63.14 L511.72,62.89 L512.28,62.55 L512.84,62.76 L513.39,62.93 L513.95,62.58 L514.50,62.27 L515.06,62.05 L515.62,61.69 L516.17,61.42 L516.73,61.46 L517.28,61.48 L517.84,61.09 L518.40,60.52 L518.95,60.26 L519.51,60.39 L520.06,60.29 L520.62,59.93 L521.18,59.62 L521.73,59.76 L522.29,59.72 L522.84,58.97 L523.40,58.67 L523.96,58.86 L524.51,58.91 L525.07,58.74 L525.62,58.38 L526.18,57.85 L526.74,57.45 L527.29,57.28 L527.85,57.25 L528.40,57.23 L528.96,57.01 L529.52,56.81 L530.07,56.64 L530.63,56.57 L531.18,56.49 L531.74,56.22 L532.30,56.20 L532.85,56.17 L533.41,55.83 L533.96,56.16 L534.52,57.30 L535.08,57.84 L535.63,57.32 L536.19,56.56 L536.74,56.19 L537.30,56.24 L537.86,56.34 L538.41,56.28 L538.97,56.42 L539.52,56.68 L540.08,56.61 L540.64,56.59 L541.19,56.97 L541.75,57.21 L542.30,56.88 L542.86,56.25 L543.42,56.03 L543.97,56.24 L544.53,56.50 L545.08,56.39 L545.64,56.14 L546.20,56.09 L546.75,56.04 L547.31,56.15 L547.86,56.15 L548.42,55.86 L548.98,55.48 L549.53,55.38 L550.09,55.53 L550.64,55.69 L551.20,56.22 L551.76,56.75 L552.31,56.60 L552.87,55.69 L553.42,55.29 L553.98,55.65 L554.54,55.79 L555.09,55.77 L555.65,55.69 L556.20,55.24 L556.76,54.93 L557.32,55.02 L557.87,54.98 L558.43,54.60 L558.98,54.48 L559.54,54.66 L560.10,54.53 L560.65,54.62 L561.21,54.84 L561.76,54.21 L562.32,53.70 L562.88,53.83 L563.43,53.76 L563.99,53.75 L564.54,53.86 L565.10,54.21 L565.66,54.61 L566.21,54.32 L566.77,53.75 L567.32,53.88 L567.88,53.75 L568.44,53.29 L568.99,53.36 L569.55,53.90 L570.10,54.43 L570.66,54.51 L571.22,54.45 L571.77,54.19 L572.33,53.45 L572.88,53.09 L573.44,53.30 L574.00,53.25 L574.55,52.82 L575.11,52.67 L575.66,52.67 L576.22,52.31 L576.78,52.19 L577.33,52.59 L577.89,52.77 L578.44,52.35 L579.00,51.85 L579.56,51.75 L580.11,51.96 L580.67,52.01 L581.22,52.18 L581.78,52.32 L582.34,52.36 L582.89,52.20 L583.45,52.10 L584.00,52.30 L584.56,52.40 L585.12,52.55 L585.67,52.75 L586.23,52.89 L586.78,53.10 L587.34,53.28 L587.90,52.83 L588.45,52.25 L589.01,52.47 L589.56,53.16 L590.12,53.26 L590.68,52.63 L591.23,52.11 L591.79,52.32 L592.34,52.58 L592.90,52.61 L593.46,52.66 L594.01,52.72 L594.57,52.48 L595.12,52.17 L595.68,52.21 L596.24,52.35 L596.79,51.94 L597.35,51.56 L597.90,51.83 L598.46,52.56 L599.02,52.92 L599.57,52.16 L600.13,51.46 L600.68,51.53 L601.24,51.72 L601.80,51.48 L602.35,51.43 L602.91,52.12 L603.46,52.41 L604.02,52.24 L604.58,52.59 L605.13,53.02 L605.69,52.73 L606.24,52.47 L606.80,52.49 L607.36,52.37 L607.91,52.48 L608.47,52.56 L609.02,51.80 L609.58,51.03 L610.14,51.25 L610.69,52.20 L611.25,52.55 L611.80,52.20 L612.36,52.10 L612.92,52.29 L613.47,51.95 L614.03,51.30 L614.58,51.05 L615.14,51.05 L615.70,51.12 L616.25,51.25 L616.81,51.63 L617.36,52.03 L617.92,52.38 L618.48,52.53 L619.03,52.37 L619.59,52.21 L620.14,51.89 L620.70,51.50 L621.26,51.29 L621.81,51.32 L622.37,51.41 L622.92,51.23 L623.48,51.02 L624.04,51.26 L624.59,51.86 L625.15,52.35 L625.70,51.97 L626.26,51.39 L626.82,51.46 L627.37,51.44 L627.93,51.15 L628.48,51.02 L629.04,50.79 L629.60,50.90 L630.15,51.31 L630.71,51.31 L631.26,51.00 L631.82,51.16 L632.38,51.04 L632.93,50.59 L633.49,50.42 L634.04,50.18 L634.60,50.09 L635.16,50.29 L635.71,50.44 L636.27,50.25 L636.82,49.99 L637.38,49.80 L637.94,49.44 L638.49,49.14 L639.05,48.99 L639.60,48.87 L640.16,48.70 L640.72,48.50 L641.27,48.33 L641.83,48.34 L642.38,48.60 L642.94,49.02 L643.50,49.01 L644.05,48.35 L644.61,47.98 L645.16,48.34 L645.72,48.54 L646.28,48.06 L646.83,47.40 L647.39,47.17 L647.94,47.49 L648.50,47.67 L649.06,47.30 L649.61,46.88 L650.17,46.70 L650.72,46.63 L651.28,46.59 L651.84,46.27 L652.39,46.27 L652.95,46.82 L653.50,46.80 L654.06,45.87 L654.62,45.18 L655.17,45.51 L655.73,45.87 L656.28,45.95 L656.84,46.45 L657.40,46.96 L657.95,46.72 L658.51,46.44 L659.06,46.82 L659.62,46.80 L660.18,46.17 L660.73,45.79 L661.29,45.93 L661.84,46.47 L662.40,46.77 L662.96,46.82 L663.51,46.83 L664.07,46.59 L664.62,46.21 L665.18,45.99 L665.74,46.11 L666.29,46.14 L666.85,45.77 L667.40,45.38" fill="none" stroke="#10eef4" stroke-width="1.8" stroke-linejoin="round"/>
<path d="M384.40,161.55 L384.96,161.56 L385.51,161.40 L386.07,160.43 L386.62,160.14 L387.18,160.43 L387.74,160.68 L388.29,160.68 L388.85,160.66 L389.40,160.69 L389.96,160.60 L390.52,160.08 L391.07,158.91 L391.63,158.16 L392.18,157.52 L392.74,156.60 L393.30,155.65 L393.85,154.80 L394.41,153.99 L394.96,152.76 L395.52,151.38 L396.08,150.27 L396.63,149.33 L397.19,148.58 L397.74,148.13 L398.30,147.35 L398.86,146.33 L399.41,145.34 L399.97,144.26 L400.52,143.28 L401.08,142.73 L401.64,141.94 L402.19,140.81 L402.75,140.31 L403.30,139.92 L403.86,139.34 L404.42,138.89 L404.97,138.25 L405.53,137.62 L406.08,137.24 L406.64,136.40 L407.20,135.10 L407.75,134.23 L408.31,133.97 L408.86,133.56 L409.42,133.10 L409.98,132.96 L410.53,132.62 L411.09,132.25 L411.64,132.11 L412.20,131.43 L412.76,129.85 L413.31,128.29 L413.87,127.41 L414.42,127.32 L414.98,127.42 L415.54,126.56 L416.09,125.61 L416.65,125.45 L417.20,125.14 L417.76,124.29 L418.32,123.47 L418.87,122.83 L419.43,122.21 L419.98,121.53 L420.54,121.11 L421.10,120.92 L421.65,120.58 L422.21,120.05 L422.76,119.45 L423.32,118.55 L423.88,117.79 L424.43,117.60 L424.99,117.49 L425.54,116.80 L426.10,115.99 L426.66,115.65 L427.21,115.60 L427.77,115.00 L428.32,113.90 L428.88,113.01 L429.44,112.50 L429.99,111.83 L430.55,110.99 L431.10,110.31 L431.66,110.31 L432.22,110.37 L432.77,109.61 L433.33,108.43 L433.88,107.45 L434.44,107.03 L435.00,106.96 L435.55,106.62 L436.11,105.73 L436.66,104.62 L437.22,103.63 L437.78,103.37 L438.33,103.71 L438.89,103.51 L439.44,102.46 L440.00,101.52 L440.56,101.01 L441.11,100.23 L441.67,99.31 L442.22,99.07 L442.78,99.10 L443.34,98.56 L443.89,97.96 L444.45,97.49 L445.00,96.86 L445.56,96.07 L446.12,95.55 L446.67,95.82 L447.23,96.14 L447.78,95.73 L448.34,94.76 L448.90,94.00 L449.45,93.83 L450.01,93.81 L450.56,93.72 L451.12,93.57 L451.68,93.30 L452.23,92.81 L452.79,91.96 L453.34,91.31 L453.90,91.08 L454.46,90.90 L455.01,90.43 L455.57,89.78 L456.12,89.09 L456.68,88.44 L457.24,87.66 L457.79,86.87 L458.35,86.59 L458.90,86.73 L459.46,86.58 L460.02,85.97 L460.57,85.22 L461.13,84.71 L461.68,84.23 L462.24,83.91 L462.80,83.66 L463.35,83.59 L463.91,83.39 L464.46,83.00 L465.02,82.67 L465.58,82.26 L466.13,81.65 L466.69,81.15 L467.24,81.19 L467.80,81.65 L468.36,81.87 L468.91,81.71 L469.47,81.38 L470.02,80.47 L470.58,79.90 L471.14,79.80 L471.69,79.46 L472.25,79.02 L472.80,78.71 L473.36,78.84 L473.92,78.90 L474.47,78.57 L475.03,78.12 L475.58,77.56 L476.14,76.87 L476.70,76.58 L477.25,76.48 L477.81,76.69 L478.36,76.94 L478.92,76.93 L479.48,76.56 L480.03,75.85 L480.59,75.42 L481.14,75.57 L481.70,75.76 L482.26,75.76 L482.81,76.04 L483.37,76.05 L483.92,75.79 L484.48,75.48 L485.04,75.03 L485.59,74.49 L486.15,74.12 L486.70,73.54 L487.26,72.74 L487.82,72.26 L488.37,72.13 L488.93,72.18 L489.48,71.96 L490.04,71.68 L490.60,71.76 L491.15,71.65 L491.71,71.33 L492.26,71.00 L492.82,70.70 L493.38,70.50 L493.93,70.42 L494.49,70.45 L495.04,70.32 L495.60,70.01 L496.16,69.40 L496.71,69.12 L497.27,69.32 L497.82,69.37 L498.38,69.09 L498.94,69.01 L499.49,69.20 L500.05,68.86 L500.60,68.23 L501.16,68.23 L501.72,68.65 L502.27,68.59 L502.83,68.21 L503.38,67.65 L503.94,66.85 L504.50,65.99 L505.05,65.54 L505.61,65.60 L506.16,65.58 L506.72,65.57 L507.28,65.35 L507.83,64.79 L508.39,64.03 L508.94,63.29 L509.50,63.11 L510.06,62.81 L510.61,62.29 L511.17,62.38 L511.72,62.45 L512.28,62.19 L512.84,61.74 L513.39,61.06 L513.95,60.80 L514.50,61.05 L515.06,61.03 L515.62,60.90 L516.17,60.91 L516.73,60.69 L517.28,60.23 L517.84,59.74 L518.40,59.11 L518.95,58.65 L519.51,58.58 L520.06,58.74 L520.62,58.92 L521.18,58.70 L521.73,58.18 L522.29,57.88 L522.84,57.80 L523.40,57.78 L523.96,57.97 L524.51,58.03 L525.07,57.82 L525.62,57.84 L526.18,57.73 L526.74,57.09 L527.29,56.61 L527.85,56.51 L528.40,56.36 L528.96,55.98 L529.52,55.80 L530.07,55.95 L530.63,56.18 L531.18,55.96 L531.74,55.53 L532.30,55.42 L532.85,55.17 L533.41,54.67 L533.96,54.48 L534.52,54.48 L535.08,54.63 L535.63,55.12 L536.19,55.16 L536.74,54.64 L537.30,53.94 L537.86,53.80 L538.41,54.15 L538.97,54.12 L539.52,53.81 L540.08,53.70 L540.64,53.56 L541.19,53.18 L541.75,53.08 L542.30,53.63 L542.86,54.13 L543.42,54.06 L543.97,53.85 L544.53,53.62 L545.08,53.25 L545.64,52.97 L546.20,52.92 L546.75,53.11 L547.31,53.49 L547.86,53.86 L548.42,53.94 L548.98,53.79 L549.53,53.51 L550.09,53.37 L550.64,53.26 L551.20,53.12 L551.76,52.96 L552.31,52.65 L552.87,52.67 L553.42,52.83 L553.98,52.74 L554.54,52.91 L555.09,53.16 L555.65,53.19 L556.20,52.98 L556.76,52.42 L557.32,52.18 L557.87,52.34 L558.43,52.03 L558.98,51.55 L559.54,51.30 L560.10,51.24 L560.65,51.32 L561.21,51.31 L561.76,51.02 L562.32,50.80 L562.88,50.72 L563.43,50.83 L563.99,50.95 L564.54,50.79 L565.10,50.50 L565.66,50.73 L566.21,51.44 L566.77,51.78 L567.32,51.60 L567.88,51.19 L568.44,50.78 L568.99,50.42 L569.55,50.09 L570.10,49.94 L570.66,50.26 L571.22,50.57 L571.77,50.54 L572.33,50.28 L572.88,50.13 L573.44,50.31 L574.00,50.57 L574.55,50.52 L575.11,50.23 L575.66,50.21 L576.22,50.23 L576.78,49.86 L577.33,49.15 L577.89,48.55 L578.44,48.78 L579.00,49.59 L579.56,50.25 L580.11,50.73 L580.67,50.82 L581.22,50.25 L581.78,49.47 L582.34,49.41 L582.89,49.71 L583.45,49.64 L584.00,49.35 L584.56,48.97 L585.12,48.82 L585.67,49.16 L586.23,49.06 L586.78,48.67 L587.34,48.79 L587.90,49.16 L588.45,49.13 L589.01,49.13 L589.56,49.18 L590.12,48.83 L590.68,47.79 L591.23,47.03 L591.79,47.51 L592.34,48.49 L592.90,48.82 L593.46,48.32 L594.01,48.13 L594.57,48.45 L595.12,48.76 L595.68,49.23 L596.24,49.30 L596.79,49.04 L597.35,48.78 L597.90,48.21 L598.46,47.85 L599.02,47.95 L599.57,47.87 L600.13,47.65 L600.68,47.62 L601.24,47.61 L601.80,47.84 L602.35,48.04 L602.91,47.70 L603.46,47.71 L604.02,48.05 L604.58,48.23 L605.13,48.43 L605.69,48.82 L606.24,49.20 L606.80,49.23 L607.36,48.91 L607.91,48.55 L608.47,48.53 L609.02,48.72 L609.58,48.85 L610.14,49.23 L610.69,49.89 L611.25,49.76 L611.80,49.20 L612.36,48.98 L612.92,48.65 L613.47,48.42 L614.03,48.76 L614.58,49.20 L615.14,49.05 L615.70,48.42 L616.25,47.45 L616.81,46.67 L617.36,46.27 L617.92,45.82 L618.48,45.16 L619.03,44.55 L619.59,44.45 L620.14,44.47 L620.70,44.22 L621.26,44.00 L621.81,44.06 L622.37,44.23 L622.92,44.18 L623.48,43.99 L624.04,44.00 L624.59,44.25 L625.15,44.35 L625.70,44.15 L626.26,44.02 L626.82,44.23 L627.37,44.42 L627.93,44.29 L628.48,44.01 L629.04,43.84 L629.60,43.87 L630.15,43.61 L630.71,43.20 L631.26,43.42 L631.82,43.74 L632.38,43.71 L632.93,43.94 L633.49,44.13 L634.04,44.17 L634.60,44.31 L635.16,44.09 L635.71,43.71 L636.27,43.73 L636.82,44.08 L637.38,44.20 L637.94,43.97 L638.49,43.95 L639.05,44.17 L639.60,43.90 L640.16,43.54 L640.72,43.59 L641.27,43.85 L641.83,43.91 L642.38,44.04 L642.94,44.20 L643.50,44.61 L644.05,44.90 L644.61,44.42 L645.16,43.83 L645.72,43.80 L646.28,44.23 L646.83,44.36 L647.39,44.06 L647.94,43.77 L648.50,43.43 L649.06,43.41 L649.61,43.89 L650.17,44.39 L650.72,44.86 L651.28,45.00 L651.84,44.47 L652.39,43.86 L652.95,43.68 L653.50,43.70 L654.06,43.78 L654.62,44.22 L655.17,44.61 L655.73,44.79 L656.28,44.86 L656.84,44.89 L657.40,44.92 L657.95,44.77 L658.51,44.57 L659.06,44.64 L659.62,44.76 L660.18,44.66 L660.73,44.57 L661.29,44.46 L661.84,44.70 L662.40,45.08 L662.96,44.78 L663.51,44.25 L664.07,44.26 L664.62,44.34 L665.18,44.11 L665.74,43.72 L666.29,43.44 L666.85,43.23 L667.40,43.09" fill="none" stroke="#fcfc00" stroke-width="1.8" stroke-linejoin="round"/>
<path d="M384.40,160.15 L384.96,159.80 L385.51,159.75 L386.07,159.69 L386.62,159.62 L387.18,159.37 L387.74,159.56 L388.29,159.67 L388.85,159.30 L389.40,159.19 L389.96,159.50 L390.52,159.25 L391.07,157.79 L391.63,155.61 L392.18,152.64 L392.74,150.04 L393.30,148.21 L393.85,146.59 L394.41,145.04 L394.96,143.02 L395.52,140.36 L396.08,137.76 L396.63,135.57 L397.19,133.92 L397.74,132.57 L398.30,130.81 L398.86,128.97 L399.41,127.45 L399.97,125.69 L400.52,123.67 L401.08,121.61 L401.64,119.66 L402.19,118.20 L402.75,117.21 L403.30,115.74 L403.86,113.28 L404.42,110.99 L404.97,109.37 L405.53,107.85 L406.08,106.18 L406.64,104.68 L407.20,103.57 L407.75,102.42 L408.31,101.10 L408.86,99.65 L409.42,98.32 L409.98,97.14 L410.53,95.69 L411.09,93.70 L411.64,92.20 L412.20,91.10 L412.76,89.26 L413.31,87.72 L413.87,86.55 L414.42,85.18 L414.98,83.80 L415.54,82.25 L416.09,80.69 L416.65,79.60 L417.20,78.71 L417.76,77.84 L418.32,76.95 L418.87,75.97 L419.43,74.79 L419.98,73.42 L420.54,71.96 L421.10,70.75 L421.65,69.42 L422.21,68.12 L422.76,67.32 L423.32,66.63 L423.88,65.80 L424.43,65.15 L424.99,64.44 L425.54,63.98 L426.10,62.98 L426.66,61.69 L427.21,61.00 L427.77,60.46 L428.32,59.29 L428.88,57.90 L429.44,56.68 L429.99,54.98 L430.55,53.24 L431.10,52.08 L431.66,51.38 L432.22,50.54 L432.77,48.99 L433.33,47.14 L433.88,46.15 L434.44,45.72 L435.00,45.22 L435.55,44.97 L436.11,44.95 L436.66,44.66 L437.22,44.88 L437.78,45.12 L438.33,44.76 L438.89,44.72 L439.44,44.95 L440.00,45.19 L440.56,44.93 L441.11,44.37 L441.67,44.26 L442.22,44.45 L442.78,44.31 L443.34,43.56 L443.89,42.87 L444.45,42.32 L445.00,41.75 L445.56,40.95 L446.12,40.43 L446.67,40.33 L447.23,39.77 L447.78,38.90 L448.34,38.02 L448.90,37.74 L449.45,37.21 L450.01,36.46 L450.56,37.30 L451.12,38.58 L451.68,38.82 L452.23,38.80 L452.79,39.22 L453.34,39.74 L453.90,39.80 L454.46,40.90 L455.01,42.20 L455.57,42.38 L456.12,41.08 L456.68,39.71 L457.24,40.69 L457.79,42.12 L458.35,41.70 L458.90,40.45 L459.46,39.92 L460.02,39.99 L460.57,38.72 L461.13,37.56 L461.68,39.07 L462.24,41.08 L462.80,41.62 L463.35,40.85 L463.91,39.87 L464.46,38.63 L465.02,38.60 L465.58,40.16 L466.13,41.97 L466.69,42.81 L467.24,42.77 L467.80,42.62 L468.36,42.81 L468.91,42.78 L469.47,42.27 L470.02,41.91 L470.58,41.26 L471.14,40.02 L471.69,39.56 L472.25,39.31 L472.80,38.22 L473.36,37.82 L473.92,37.58 L474.47,38.36 L475.03,40.04 L475.58,39.68 L476.14,38.29 L476.70,37.75 L477.25,38.21 L477.81,39.87 L478.36,42.10 L478.92,42.59 L479.48,42.52 L480.03,43.37 L480.59,42.98 L481.14,41.57 L481.70,40.32 L482.26,39.92 L482.81,40.95 L483.37,42.37 L483.92,42.34 L484.48,40.95 L485.04,39.98 L485.59,39.99 L486.15,40.48 L486.70,41.42 L487.26,42.03 L487.82,41.19 L488.37,40.57 L488.93,40.78 L489.48,39.74 L490.04,37.90 L490.60,37.33 L491.15,39.10 L491.71,41.31 L492.26,42.89 L492.82,43.85 L493.38,44.30 L493.93,43.30 L494.49,41.22 L495.04,40.46 L495.60,41.56 L496.16,43.72 L496.71,44.71 L497.27,42.72 L497.82,39.44 L498.38,38.98 L498.94,40.40 L499.49,40.42 L500.05,40.25 L500.60,40.63 L501.16,39.76 L501.72,37.87 L502.27,36.82 L502.83,36.79 L503.38,37.28 L503.94,37.60 L504.50,37.51 L505.05,36.95 L505.61,36.23 L506.16,36.62 L506.72,37.53 L507.28,38.55 L507.83,39.28 L508.39,39.38 L508.94,39.49 L509.50,38.94 L510.06,37.02 L510.61,35.95 L511.17,37.21 L511.72,39.13 L512.28,40.53 L512.84,40.49 L513.39,39.02 L513.95,38.61 L514.50,39.41 L515.06,39.70 L515.62,39.10 L516.17,38.01 L516.73,37.85 L517.28,37.92 L517.84,38.93 L518.40,40.91 L518.95,40.89 L519.51,40.46 L520.06,40.77 L520.62,40.57 L521.18,40.66 L521.73,41.87 L522.29,41.75 L522.84,40.19 L523.40,39.95 L523.96,40.76 L524.51,41.54 L525.07,42.54 L525.62,43.30 L526.18,43.34 L526.74,43.47 L527.29,44.49 L527.85,45.10 L528.40,44.03 L528.96,42.81 L529.52,42.15 L530.07,41.48 L530.63,40.94 L531.18,40.77 L531.74,41.22 L532.30,41.34 L532.85,40.68 L533.41,40.68 L533.96,41.68 L534.52,41.66 L535.08,40.73 L535.63,40.84 L536.19,41.17 L536.74,41.08 L537.30,39.96 L537.86,38.57 L538.41,39.44 L538.97,42.73 L539.52,45.54 L540.08,45.47 L540.64,42.05 L541.19,39.60 L541.75,40.08 L542.30,40.89 L542.86,41.15 L543.42,41.30 L543.97,40.11 L544.53,38.68 L545.08,38.65 L545.64,39.96 L546.20,41.56 L546.75,42.20 L547.31,41.12 L547.86,39.01 L548.42,38.75 L548.98,40.12 L549.53,40.95 L550.09,41.23 L550.64,41.24 L551.20,40.53 L551.76,40.06 L552.31,40.65 L552.87,42.57 L553.42,44.39 L553.98,44.53 L554.54,44.48 L555.09,43.23 L555.65,41.19 L556.20,41.64 L556.76,42.86 L557.32,43.35 L557.87,43.01 L558.43,42.79 L558.98,43.73 L559.54,43.63 L560.10,42.60 L560.65,41.37 L561.21,41.39 L561.76,42.85 L562.32,43.47 L562.88,41.86 L563.43,40.49 L563.99,40.66 L564.54,41.18 L565.10,41.35 L565.66,41.45 L566.21,40.87 L566.77,40.49 L567.32,41.10 L567.88,41.68 L568.44,41.72 L568.99,41.80 L569.55,41.06 L570.10,39.68 L570.66,39.74 L571.22,40.49 L571.77,40.40 L572.33,40.02 L572.88,40.41 L573.44,40.67 L574.00,40.30 L574.55,40.67 L575.11,41.68 L575.66,41.35 L576.22,40.00 L576.78,39.46 L577.33,39.22 L577.89,39.72 L578.44,40.71 L579.00,40.69 L579.56,40.51 L580.11,41.86 L580.67,43.18 L581.22,43.58 L581.78,43.59 L582.34,43.60 L582.89,43.54 L583.45,43.27 L584.00,42.17 L584.56,41.44 L585.12,41.56 L585.67,41.02 L586.23,39.12 L586.78,38.45 L587.34,40.01 L587.90,40.91 L588.45,40.32 L589.01,39.87 L589.56,39.49 L590.12,39.61 L590.68,40.08 L591.23,40.04 L591.79,40.72 L592.34,40.88 L592.90,39.28 L593.46,37.92 L594.01,38.31 L594.57,38.94 L595.12,39.07 L595.68,38.32 L596.24,37.48 L596.79,37.35 L597.35,38.37 L597.90,40.14 L598.46,41.06 L599.02,39.82 L599.57,38.62 L600.13,38.71 L600.68,38.87 L601.24,38.70 L601.80,39.28 L602.35,40.45 L602.91,40.46 L603.46,40.01 L604.02,40.76 L604.58,42.51 L605.13,42.87 L605.69,40.78 L606.24,38.47 L606.80,37.75 L607.36,38.97 L607.91,40.16 L608.47,40.07 L609.02,40.35 L609.58,41.56 L610.14,42.77 L610.69,42.87 L611.25,41.64 L611.80,40.27 L612.36,39.35 L612.92,38.68 L613.47,37.63 L614.03,36.87 L614.58,37.40 L615.14,38.50 L615.70,40.35 L616.25,41.77 L616.81,42.40 L617.36,41.80 L617.92,39.87 L618.48,39.04 L619.03,38.63 L619.59,38.22 L620.14,38.77 L620.70,40.38 L621.26,41.92 L621.81,41.15 L622.37,40.66 L622.92,40.74 L623.48,40.32 L624.04,41.02 L624.59,42.48 L625.15,42.45 L625.70,41.64 L626.26,42.03 L626.82,40.47 L627.37,38.30 L627.93,38.70 L628.48,40.25 L629.04,40.94 L629.60,40.80 L630.15,40.51 L630.71,41.26 L631.26,42.61 L631.82,42.43 L632.38,41.60 L632.93,42.19 L633.49,41.65 L634.04,40.45 L634.60,42.10 L635.16,43.97 L635.71,43.56 L636.27,42.60 L636.82,43.09 L637.38,44.46 L637.94,45.50 L638.49,44.57 L639.05,42.79 L639.60,41.30 L640.16,40.68 L640.72,42.81 L641.27,45.86 L641.83,45.86 L642.38,44.61 L642.94,42.93 L643.50,41.92 L644.05,42.51 L644.61,44.56 L645.16,44.89 L645.72,43.65 L646.28,44.46 L646.83,45.80 L647.39,45.23 L647.94,44.50 L648.50,44.58 L649.06,43.87 L649.61,42.78 L650.17,42.77 L650.72,42.45 L651.28,41.91 L651.84,41.09 L652.39,40.37 L652.95,40.58 L653.50,40.55 L654.06,41.75 L654.62,42.29 L655.17,41.17 L655.73,40.23 L656.28,40.74 L656.84,41.85 L657.40,41.59 L657.95,40.14 L658.51,39.92 L659.06,40.74 L659.62,40.69 L660.18,41.06 L660.73,42.63 L661.29,44.43 L661.84,44.97 L662.40,45.31 L662.96,45.86 L663.51,45.33 L664.07,44.21 L664.62,43.50 L665.18,41.53 L665.74,41.37 L666.29,43.37 L666.85,44.28 L667.40,44.41" fill="none" stroke="#808000" stroke-width="1.9" stroke-linejoin="round"/>
</g>
<rect x="384.40" y="16.20" width="283.00" height="156.00" fill="none" stroke="#b4b4b4" stroke-width="1.3"/>
<line x1="384.40" y1="172.20" x2="384.40" y2="175.40" stroke="#7a7a7a" stroke-width="1"/>
<line x1="412.20" y1="172.20" x2="412.20" y2="174.00" stroke="#7a7a7a" stroke-width="1"/>
<line x1="440.00" y1="172.20" x2="440.00" y2="175.40" stroke="#7a7a7a" stroke-width="1"/>
<line x1="467.80" y1="172.20" x2="467.80" y2="174.00" stroke="#7a7a7a" stroke-width="1"/>
<line x1="495.60" y1="172.20" x2="495.60" y2="175.40" stroke="#7a7a7a" stroke-width="1"/>
<line x1="523.40" y1="172.20" x2="523.40" y2="174.00" stroke="#7a7a7a" stroke-width="1"/>
<line x1="551.20" y1="172.20" x2="551.20" y2="175.40" stroke="#7a7a7a" stroke-width="1"/>
<line x1="579.00" y1="172.20" x2="579.00" y2="174.00" stroke="#7a7a7a" stroke-width="1"/>
<line x1="606.80" y1="172.20" x2="606.80" y2="175.40" stroke="#7a7a7a" stroke-width="1"/>
<line x1="634.60" y1="172.20" x2="634.60" y2="174.00" stroke="#7a7a7a" stroke-width="1"/>
<line x1="662.40" y1="172.20" x2="662.40" y2="175.40" stroke="#7a7a7a" stroke-width="1"/>
<line x1="382.60" y1="172.00" x2="384.40" y2="172.00" stroke="#7a7a7a" stroke-width="1"/>
<line x1="381.20" y1="160.00" x2="384.40" y2="160.00" stroke="#7a7a7a" stroke-width="1"/>
<line x1="382.60" y1="148.00" x2="384.40" y2="148.00" stroke="#7a7a7a" stroke-width="1"/>
<line x1="381.20" y1="136.00" x2="384.40" y2="136.00" stroke="#7a7a7a" stroke-width="1"/>
<line x1="382.60" y1="124.00" x2="384.40" y2="124.00" stroke="#7a7a7a" stroke-width="1"/>
<line x1="381.20" y1="112.00" x2="384.40" y2="112.00" stroke="#7a7a7a" stroke-width="1"/>
<line x1="382.60" y1="100.00" x2="384.40" y2="100.00" stroke="#7a7a7a" stroke-width="1"/>
<line x1="381.20" y1="88.00" x2="384.40" y2="88.00" stroke="#7a7a7a" stroke-width="1"/>
<line x1="382.60" y1="76.00" x2="384.40" y2="76.00" stroke="#7a7a7a" stroke-width="1"/>
<line x1="381.20" y1="64.00" x2="384.40" y2="64.00" stroke="#7a7a7a" stroke-width="1"/>
<line x1="382.60" y1="52.00" x2="384.40" y2="52.00" stroke="#7a7a7a" stroke-width="1"/>
<line x1="381.20" y1="40.00" x2="384.40" y2="40.00" stroke="#7a7a7a" stroke-width="1"/>
<line x1="382.60" y1="28.00" x2="384.40" y2="28.00" stroke="#7a7a7a" stroke-width="1"/>
<line x1="381.20" y1="16.00" x2="384.40" y2="16.00" stroke="#7a7a7a" stroke-width="1"/>
<line x1="664.20" y1="160.00" x2="667.40" y2="160.00" stroke="#7a7a7a" stroke-width="1"/>
<line x1="665.60" y1="148.00" x2="667.40" y2="148.00" stroke="#7a7a7a" stroke-width="1"/>
<line x1="664.20" y1="136.00" x2="667.40" y2="136.00" stroke="#7a7a7a" stroke-width="1"/>
<line x1="665.60" y1="124.00" x2="667.40" y2="124.00" stroke="#7a7a7a" stroke-width="1"/>
<line x1="664.20" y1="112.00" x2="667.40" y2="112.00" stroke="#7a7a7a" stroke-width="1"/>
<line x1="665.60" y1="100.00" x2="667.40" y2="100.00" stroke="#7a7a7a" stroke-width="1"/>
<line x1="664.20" y1="88.00" x2="667.40" y2="88.00" stroke="#7a7a7a" stroke-width="1"/>
<line x1="665.60" y1="76.00" x2="667.40" y2="76.00" stroke="#7a7a7a" stroke-width="1"/>
<line x1="664.20" y1="64.00" x2="667.40" y2="64.00" stroke="#7a7a7a" stroke-width="1"/>
<line x1="665.60" y1="52.00" x2="667.40" y2="52.00" stroke="#7a7a7a" stroke-width="1"/>
<line x1="664.20" y1="40.00" x2="667.40" y2="40.00" stroke="#7a7a7a" stroke-width="1"/>
<line x1="665.60" y1="28.00" x2="667.40" y2="28.00" stroke="#7a7a7a" stroke-width="1"/>
<text x="383.10" y="186.00" font-family='"Liberation Sans", sans-serif' font-size="9.6" fill="#1e1e1e" text-anchor="middle" textLength="5.0" lengthAdjust="spacingAndGlyphs" >0</text>
<text x="438.70" y="186.00" font-family='"Liberation Sans", sans-serif' font-size="9.6" fill="#1e1e1e" text-anchor="middle" textLength="20.02" lengthAdjust="spacingAndGlyphs" >2000</text>
<text x="494.30" y="186.00" font-family='"Liberation Sans", sans-serif' font-size="9.6" fill="#1e1e1e" text-anchor="middle" textLength="20.02" lengthAdjust="spacingAndGlyphs" >4000</text>
<text x="549.90" y="186.00" font-family='"Liberation Sans", sans-serif' font-size="9.6" fill="#1e1e1e" text-anchor="middle" textLength="20.02" lengthAdjust="spacingAndGlyphs" >6000</text>
<text x="605.50" y="186.00" font-family='"Liberation Sans", sans-serif' font-size="9.6" fill="#1e1e1e" text-anchor="middle" textLength="20.02" lengthAdjust="spacingAndGlyphs" >8000</text>
<text x="661.10" y="186.00" font-family='"Liberation Sans", sans-serif' font-size="9.6" fill="#1e1e1e" text-anchor="middle" textLength="25.02" lengthAdjust="spacingAndGlyphs" >10000</text>
<text x="377.60" y="163.35" font-family='"Liberation Sans", sans-serif' font-size="9.6" fill="#1e1e1e" text-anchor="end" textLength="5.06" lengthAdjust="spacingAndGlyphs" >0</text>
<text x="377.60" y="139.35" font-family='"Liberation Sans", sans-serif' font-size="9.6" fill="#1e1e1e" text-anchor="end" textLength="10.12" lengthAdjust="spacingAndGlyphs" >20</text>
<text x="377.60" y="115.35" font-family='"Liberation Sans", sans-serif' font-size="9.6" fill="#1e1e1e" text-anchor="end" textLength="10.12" lengthAdjust="spacingAndGlyphs" >40</text>
<text x="377.60" y="91.35" font-family='"Liberation Sans", sans-serif' font-size="9.6" fill="#1e1e1e" text-anchor="end" textLength="10.12" lengthAdjust="spacingAndGlyphs" >60</text>
<text x="377.60" y="67.35" font-family='"Liberation Sans", sans-serif' font-size="9.6" fill="#1e1e1e" text-anchor="end" textLength="10.12" lengthAdjust="spacingAndGlyphs" >80</text>
<text x="377.60" y="43.35" font-family='"Liberation Sans", sans-serif' font-size="9.6" fill="#1e1e1e" text-anchor="end" textLength="15.18" lengthAdjust="spacingAndGlyphs" >100</text>
<text x="377.60" y="19.35" font-family='"Liberation Sans", sans-serif' font-size="9.6" fill="#1e1e1e" text-anchor="end" textLength="15.18" lengthAdjust="spacingAndGlyphs" >120</text>
<rect x="535.80" y="94.30" width="123.20" height="72.70" fill="#fff" stroke="#b4b4b4" stroke-width="1.1"/>
<line x1="541.40" y1="101.60" x2="561.10" y2="101.60" stroke="#202020" stroke-width="1.6"/>
<text x="563.80" y="104.80" font-family='"Liberation Sans", sans-serif' font-size="9.2" fill="#1e1e1e" text-anchor="start" textLength="29.3" lengthAdjust="spacingAndGlyphs" >(18,13)</text>
<line x1="541.40" y1="112.60" x2="561.10" y2="112.60" stroke="#2020e0" stroke-width="1.6"/>
<text x="563.80" y="115.80" font-family='"Liberation Sans", sans-serif' font-size="9.2" fill="#1e1e1e" text-anchor="start" textLength="29.3" lengthAdjust="spacingAndGlyphs" >(20,10)</text>
<line x1="541.40" y1="123.80" x2="561.10" y2="123.80" stroke="#702020" stroke-width="1.6"/>
<text x="563.80" y="127.00" font-family='"Liberation Sans", sans-serif' font-size="9.2" fill="#1e1e1e" text-anchor="start" textLength="29.3" lengthAdjust="spacingAndGlyphs" >(22,&#160;&#160;7)</text>
<line x1="541.40" y1="134.80" x2="561.10" y2="134.80" stroke="#f890f0" stroke-width="1.6"/>
<text x="563.80" y="138.00" font-family='"Liberation Sans", sans-serif' font-size="9.2" fill="#1e1e1e" text-anchor="start" textLength="29.3" lengthAdjust="spacingAndGlyphs" >(15,15)</text>
<line x1="602.60" y1="101.60" x2="622.30" y2="101.60" stroke="#909090" stroke-width="1.6"/>
<text x="625.20" y="104.80" font-family='"Liberation Sans", sans-serif' font-size="9.2" fill="#1e1e1e" text-anchor="start" textLength="29.3" lengthAdjust="spacingAndGlyphs" >(20,&#160;&#160;9)</text>
<line x1="602.60" y1="112.60" x2="622.30" y2="112.60" stroke="#e82888" stroke-width="1.6"/>
<text x="625.20" y="115.80" font-family='"Liberation Sans", sans-serif' font-size="9.2" fill="#1e1e1e" text-anchor="start" textLength="29.3" lengthAdjust="spacingAndGlyphs" >(19,10)</text>
<line x1="602.60" y1="123.80" x2="622.30" y2="123.80" stroke="#782078" stroke-width="1.6"/>
<text x="625.20" y="127.00" font-family='"Liberation Sans", sans-serif' font-size="9.2" fill="#1e1e1e" text-anchor="start" textLength="29.3" lengthAdjust="spacingAndGlyphs" >(16,13)</text>
<line x1="602.60" y1="134.80" x2="622.30" y2="134.80" stroke="#30e8f0" stroke-width="1.6"/>
<text x="625.20" y="138.00" font-family='"Liberation Sans", sans-serif' font-size="9.2" fill="#1e1e1e" text-anchor="start" textLength="29.3" lengthAdjust="spacingAndGlyphs" >(20,&#160;&#160;8)</text>
<line x1="601.20" y1="146.00" x2="621.30" y2="146.00" stroke="#fafa40" stroke-width="1.6"/>
<text x="624.00" y="149.20" font-family='"Liberation Sans", sans-serif' font-size="9.2" fill="#1e1e1e" text-anchor="start" textLength="29.3" lengthAdjust="spacingAndGlyphs" >(23,&#160;&#160;3)</text>
<line x1="601.20" y1="157.00" x2="621.30" y2="157.00" stroke="#808020" stroke-width="1.6"/>
<text x="624.00" y="160.20" font-family='"Liberation Sans", sans-serif' font-size="9.2" fill="#1e1e1e" text-anchor="start" textLength="29.3" lengthAdjust="spacingAndGlyphs" >(17,11)</text>
<text x="498.70" y="11.40" font-family='"Liberation Sans", sans-serif' font-size="11.6" fill="#1e1e1e">(b) <tspan font-family='"Liberation Serif", serif' font-style="italic" font-size="12.8">ω</tspan><tspan font-size="7.7" dy="2.6">2</tspan><tspan dy="-2.6">=100GHz</tspan></text>
<text transform="translate(355.50,105.80) rotate(-90)" font-family='"Liberation Sans", sans-serif' font-size="12" fill="#1e1e1e"><tspan font-family='"Liberation Serif", serif' font-style="italic" font-size="13.2">ω</tspan><tspan font-size="7.8" dy="2.4">1</tspan><tspan dy="-2.4">(GHz)</tspan></text>
<text x="503.00" y="197.20" font-family='"Liberation Sans", sans-serif' font-size="11.1" fill="#1e1e1e" text-anchor="start" textLength="48.6" lengthAdjust="spacingAndGlyphs" >Time (ps)</text>
<clipPath id="cc"><rect x="38.80" y="228.80" width="283.40" height="155.50"/></clipPath>
<g clip-path="url(#cc)">
<path d="M38.80,371.34 L39.36,371.40 L39.91,371.37 L40.47,371.27 L41.02,371.12 L41.58,371.04 L42.14,371.01 L42.69,371.03 L43.25,371.07 L43.80,371.00 L44.36,370.88 L44.92,370.89 L45.47,363.11 L46.03,348.89 L46.58,340.62 L47.14,336.44 L47.70,333.39 L48.25,331.08 L48.81,328.97 L49.36,326.39 L49.92,323.23 L50.48,319.90 L51.03,316.59 L51.59,313.59 L52.14,311.20 L52.70,309.47 L53.26,308.09 L53.81,306.78 L54.37,305.46 L54.92,304.10 L55.48,302.86 L56.04,301.82 L56.59,300.97 L57.15,300.08 L57.70,299.02 L58.26,297.81 L58.82,296.60 L59.37,295.55 L59.93,294.64 L60.48,293.70 L61.04,292.64 L61.60,291.69 L62.15,290.96 L62.71,290.19 L63.26,289.14 L63.82,287.97 L64.38,286.89 L64.93,286.01 L65.49,285.10 L66.04,284.09 L66.60,283.19 L67.16,282.40 L67.71,281.58 L68.27,280.78 L68.82,280.04 L69.38,279.25 L69.94,278.46 L70.49,277.62 L71.05,276.62 L71.60,275.61 L72.16,274.71 L72.72,273.95 L73.27,273.28 L73.83,272.69 L74.38,272.07 L74.94,271.25 L75.50,270.38 L76.05,269.52 L76.61,268.64 L77.16,267.93 L77.72,267.30 L78.28,266.59 L78.83,265.92 L79.39,265.35 L79.94,264.85 L80.50,264.33 L81.06,263.80 L81.61,263.20 L82.17,262.50 L82.72,261.92 L83.28,261.52 L83.84,261.14 L84.39,260.70 L84.95,260.14 L85.50,259.60 L86.06,259.13 L86.62,258.59 L87.17,257.94 L87.73,257.18 L88.28,256.44 L88.84,255.85 L89.40,255.36 L89.95,254.87 L90.51,254.25 L91.06,253.45 L91.62,252.73 L92.18,252.25 L92.73,251.85 L93.29,251.45 L93.84,250.99 L94.40,250.50 L94.96,250.24 L95.51,250.15 L96.07,249.87 L96.62,249.49 L97.18,249.28 L97.74,249.11 L98.29,248.90 L98.85,248.66 L99.40,248.49 L99.96,248.32 L100.52,247.98 L101.07,247.48 L101.63,247.19 L102.18,247.15 L102.74,247.09 L103.30,246.98 L103.85,246.89 L104.41,246.78 L104.96,246.62 L105.52,246.49 L106.08,246.44 L106.63,246.30 L107.19,246.08 L107.74,245.90 L108.30,245.66 L108.86,245.52 L109.41,245.36 L109.97,245.19 L110.52,245.14 L111.08,245.10 L111.64,245.00 L112.19,244.83 L112.75,244.73 L113.30,244.67 L113.86,244.50 L114.42,244.35 L114.97,244.34 L115.53,244.31 L116.08,244.14 L116.64,244.08 L117.20,244.24 L117.75,244.36 L118.31,244.24 L118.86,243.98 L119.42,243.75 L119.98,243.68 L120.53,243.74 L121.09,243.79 L121.64,243.76 L122.20,243.80 L122.76,243.92 L123.31,243.90 L123.87,243.73 L124.42,243.57 L124.98,243.21 L125.54,242.97 L126.09,243.23 L126.65,243.57 L127.20,243.66 L127.76,243.52 L128.32,243.25 L128.87,243.19 L129.43,243.45 L129.98,243.60 L130.54,243.44 L131.10,243.12 L131.65,243.23 L132.21,243.71 L132.76,243.99 L133.32,244.27 L133.88,244.68 L134.43,244.71 L134.99,244.71 L135.54,244.88 L136.10,244.80 L136.66,244.78 L137.21,244.83 L137.77,244.86 L138.32,245.12 L138.88,245.16 L139.44,245.01 L139.99,244.98 L140.55,245.13 L141.10,244.88 L141.66,244.36 L142.22,243.98 L142.77,244.33 L143.33,245.26 L143.88,245.51 L144.44,244.98 L145.00,243.93 L145.55,243.43 L146.11,243.66 L146.66,243.43 L147.22,243.00 L147.78,243.34 L148.33,244.22 L148.89,244.80 L149.44,244.28 L150.00,243.69 L150.56,243.80 L151.11,243.48 L151.67,243.05 L152.22,242.88 L152.78,242.87 L153.34,242.88 L153.89,242.63 L154.45,242.66 L155.00,242.82 L155.56,243.13 L156.12,243.17 L156.67,242.79 L157.23,242.66 L157.78,243.33 L158.34,243.18 L158.90,242.17 L159.45,242.07 L160.01,242.83 L160.56,243.62 L161.12,243.94 L161.68,243.33 L162.23,242.23 L162.79,241.35 L163.34,240.96 L163.90,241.11 L164.46,241.96 L165.01,242.72 L165.57,242.33 L166.12,241.51 L166.68,241.39 L167.24,242.03 L167.79,243.17 L168.35,243.57 L168.90,243.27 L169.46,243.08 L170.02,243.48 L170.57,243.85 L171.13,244.04 L171.68,244.29 L172.24,243.66 L172.80,243.01 L173.35,243.12 L173.91,243.18 L174.46,243.12 L175.02,242.72 L175.58,242.07 L176.13,241.70 L176.69,241.82 L177.24,241.75 L177.80,241.23 L178.36,241.40 L178.91,241.63 L179.47,241.24 L180.02,240.79 L180.58,240.24 L181.14,240.54 L181.69,241.54 L182.25,242.33 L182.80,242.67 L183.36,242.43 L183.92,241.53 L184.47,240.71 L185.03,240.83 L185.58,241.19 L186.14,241.45 L186.70,242.18 L187.25,242.96 L187.81,242.59 L188.36,241.45 L188.92,240.76 L189.48,240.07 L190.03,239.99 L190.59,240.82 L191.14,241.66 L191.70,242.37 L192.26,242.67 L192.81,242.55 L193.37,242.13 L193.92,241.78 L194.48,241.97 L195.04,242.12 L195.59,242.12 L196.15,241.83 L196.70,242.03 L197.26,242.81 L197.82,242.89 L198.37,242.97 L198.93,243.14 L199.48,243.41 L200.04,244.07 L200.60,244.81 L201.15,244.19 L201.71,242.17 L202.26,241.73 L202.82,242.93 L203.38,243.40 L203.93,242.16 L204.49,241.27 L205.04,242.16 L205.60,243.35 L206.16,243.16 L206.71,242.33 L207.27,241.77 L207.82,241.80 L208.38,242.68 L208.94,243.57 L209.49,243.37 L210.05,241.91 L210.60,241.42 L211.16,242.31 L211.72,242.76 L212.27,242.52 L212.83,243.08 L213.38,243.90 L213.94,244.23 L214.50,243.98 L215.05,243.40 L215.61,242.43 L216.16,241.23 L216.72,240.97 L217.28,241.65 L217.83,242.33 L218.39,242.74 L218.94,242.93 L219.50,242.82 L220.06,242.95 L220.61,242.88 L221.17,242.81 L221.72,243.31 L222.28,243.36 L222.84,243.14 L223.39,243.89 L223.95,244.41 L224.50,244.15 L225.06,243.78 L225.62,244.16 L226.17,244.63 L226.73,243.16 L227.28,241.07 L227.84,240.34 L228.40,240.73 L228.95,241.40 L229.51,241.95 L230.06,242.64 L230.62,242.73 L231.18,241.59 L231.73,240.67 L232.29,240.75 L232.84,240.88 L233.40,240.65 L233.96,240.54 L234.51,240.95 L235.07,242.16 L235.62,242.80 L236.18,242.04 L236.74,241.68 L237.29,242.16 L237.85,242.32 L238.40,242.82 L238.96,243.04 L239.52,241.78 L240.07,241.70 L240.63,243.11 L241.18,244.12 L241.74,243.26 L242.30,241.64 L242.85,241.89 L243.41,242.82 L243.96,243.43 L244.52,243.45 L245.08,243.36 L245.63,243.70 L246.19,243.69 L246.74,243.28 L247.30,242.75 L247.86,242.55 L248.41,242.61 L248.97,242.74 L249.52,243.44 L250.08,243.90 L250.64,243.83 L251.19,243.82 L251.75,244.68 L252.30,245.09 L252.86,245.09 L253.42,245.09 L253.97,243.72 L254.53,243.22 L255.08,243.94 L255.64,244.62 L256.20,245.03 L256.75,244.14 L257.31,242.70 L257.86,241.98 L258.42,242.04 L258.98,242.66 L259.53,242.85 L260.09,242.96 L260.64,243.00 L261.20,242.69 L261.76,242.11 L262.31,241.89 L262.87,242.26 L263.42,242.54 L263.98,242.64 L264.54,242.69 L265.09,242.45 L265.65,241.64 L266.20,241.23 L266.76,241.53 L267.32,242.12 L267.87,242.78 L268.43,243.22 L268.98,243.14 L269.54,242.31 L270.10,241.35 L270.65,241.64 L271.21,242.56 L271.76,242.08 L272.32,240.42 L272.88,239.49 L273.43,239.48 L273.99,240.05 L274.54,241.22 L275.10,241.79 L275.66,241.37 L276.21,240.61 L276.77,240.87 L277.32,241.58 L277.88,242.27 L278.44,243.07 L278.99,243.95 L279.55,244.68 L280.10,244.44 L280.66,243.54 L281.22,242.31 L281.77,241.84 L282.33,242.77 L282.88,243.95 L283.44,243.99 L284.00,243.32 L284.55,243.34 L285.11,243.81 L285.66,243.89 L286.22,243.29 L286.78,242.72 L287.33,242.85 L287.89,243.52 L288.44,243.98 L289.00,244.03 L289.56,243.51 L290.11,243.14 L290.67,242.99 L291.22,242.92 L291.78,242.85 L292.34,242.15 L292.89,241.91 L293.45,242.25 L294.00,242.85 L294.56,243.46 L295.12,243.25 L295.67,242.61 L296.23,242.54 L296.78,242.71 L297.34,242.61 L297.90,242.24 L298.45,242.41 L299.01,242.41 L299.56,241.33 L300.12,240.86 L300.68,241.28 L301.23,241.76 L301.79,241.67 L302.34,240.71 L302.90,240.30 L303.46,241.59 L304.01,242.70 L304.57,242.44 L305.12,241.80 L305.68,241.82 L306.24,242.53 L306.79,242.58 L307.35,241.75 L307.90,240.72 L308.46,240.33 L309.02,240.48 L309.57,240.63 L310.13,241.20 L310.68,242.39 L311.24,243.54 L311.80,243.53 L312.35,242.71 L312.91,241.86 L313.46,241.84 L314.02,242.19 L314.58,241.93 L315.13,241.54 L315.69,241.54 L316.24,241.85 L316.80,241.59 L317.36,240.88 L317.91,240.72 L318.47,240.99 L319.02,241.60 L319.58,241.90 L320.14,241.99 L320.69,241.92 L321.25,241.79 L321.80,242.13" fill="none" stroke="#000000" stroke-width="1.55" stroke-linejoin="round"/>
<path d="M38.80,371.11 L39.36,371.07 L39.91,370.99 L40.47,370.53 L41.02,370.86 L41.58,371.38 L42.14,370.95 L42.69,370.95 L43.25,371.23 L43.80,371.20 L44.36,371.00 L44.92,370.75 L45.47,371.10 L46.03,368.93 L46.58,365.79 L47.14,363.19 L47.70,360.54 L48.25,357.68 L48.81,354.93 L49.36,352.56 L49.92,350.25 L50.48,347.69 L51.03,345.62 L51.59,344.14 L52.14,342.25 L52.70,340.30 L53.26,338.35 L53.81,336.54 L54.37,334.90 L54.92,333.28 L55.48,331.75 L56.04,330.62 L56.59,329.32 L57.15,327.47 L57.70,325.92 L58.26,324.86 L58.82,323.79 L59.37,322.53 L59.93,321.57 L60.48,320.63 L61.04,319.32 L61.60,317.93 L62.15,316.75 L62.71,315.53 L63.26,314.46 L63.82,313.07 L64.38,311.78 L64.93,310.99 L65.49,310.01 L66.04,308.77 L66.60,308.00 L67.16,307.32 L67.71,306.24 L68.27,305.03 L68.82,304.19 L69.38,303.15 L69.94,302.49 L70.49,301.75 L71.05,300.89 L71.60,300.29 L72.16,299.32 L72.72,298.69 L73.27,297.97 L73.83,297.14 L74.38,296.55 L74.94,295.95 L75.50,295.13 L76.05,294.14 L76.61,293.39 L77.16,292.69 L77.72,291.94 L78.28,291.49 L78.83,290.69 L79.39,289.74 L79.94,289.36 L80.50,288.48 L81.06,287.99 L81.61,287.30 L82.17,286.71 L82.72,286.19 L83.28,285.49 L83.84,284.80 L84.39,284.48 L84.95,283.93 L85.50,283.07 L86.06,282.62 L86.62,282.06 L87.17,281.48 L87.73,281.00 L88.28,280.61 L88.84,279.80 L89.40,279.25 L89.95,278.82 L90.51,278.11 L91.06,277.29 L91.62,276.52 L92.18,276.23 L92.73,275.51 L93.29,275.16 L93.84,274.54 L94.40,274.03 L94.96,273.34 L95.51,272.87 L96.07,272.48 L96.62,272.04 L97.18,271.17 L97.74,270.91 L98.29,270.18 L98.85,269.21 L99.40,268.82 L99.96,268.35 L100.52,267.78 L101.07,267.22 L101.63,266.73 L102.18,266.08 L102.74,265.58 L103.30,265.02 L103.85,264.30 L104.41,263.67 L104.96,263.11 L105.52,262.40 L106.08,261.64 L106.63,261.13 L107.19,260.92 L107.74,260.55 L108.30,259.68 L108.86,259.18 L109.41,258.61 L109.97,258.19 L110.52,257.58 L111.08,257.31 L111.64,256.72 L112.19,256.29 L112.75,255.35 L113.30,255.22 L113.86,255.04 L114.42,254.05 L114.97,253.48 L115.53,253.09 L116.08,253.02 L116.64,252.38 L117.20,251.77 L117.75,251.55 L118.31,251.11 L118.86,250.78 L119.42,250.32 L119.98,249.73 L120.53,249.68 L121.09,249.31 L121.64,248.90 L122.20,248.63 L122.76,248.28 L123.31,248.19 L123.87,246.04 L124.42,246.74 L124.98,244.64 L125.54,242.74 L126.09,241.85 L126.65,242.19 L127.20,242.20 L127.76,240.74 L128.32,239.73 L128.87,242.12 L129.43,242.86 L129.98,243.03 L130.54,243.71 L131.10,243.74 L131.65,242.75 L132.21,241.72 L132.76,242.77 L133.32,243.26 L133.88,242.82 L134.43,242.50 L134.99,239.48 L135.54,240.22 L136.10,242.52 L136.66,244.43 L137.21,243.89 L137.77,244.04 L138.32,244.48 L138.88,245.42 L139.44,244.15 L139.99,243.86 L140.55,244.11 L141.10,244.31 L141.66,243.07 L142.22,244.16 L142.77,245.34 L143.33,243.98 L143.88,241.59 L144.44,241.14 L145.00,242.96 L145.55,242.20 L146.11,240.96 L146.66,240.57 L147.22,241.51 L147.78,241.12 L148.33,241.85 L148.89,242.60 L149.44,240.33 L150.00,240.43 L150.56,240.26 L151.11,240.89 L151.67,241.57 L152.22,241.13 L152.78,240.59 L153.34,241.29 L153.89,238.70 L154.45,238.41 L155.00,242.02 L155.56,240.32 L156.12,240.68 L156.67,240.11 L157.23,240.41 L157.78,240.66 L158.34,239.91 L158.90,240.14 L159.45,239.27 L160.01,240.54 L160.56,242.29 L161.12,241.40 L161.68,241.04 L162.23,241.69 L162.79,241.64 L163.34,239.04 L163.90,240.21 L164.46,240.98 L165.01,241.94 L165.57,240.23 L166.12,239.98 L166.68,238.71 L167.24,238.32 L167.79,240.48 L168.35,240.63 L168.90,238.76 L169.46,238.55 L170.02,239.23 L170.57,239.28 L171.13,240.18 L171.68,240.17 L172.24,240.62 L172.80,242.07 L173.35,239.73 L173.91,239.41 L174.46,240.98 L175.02,240.78 L175.58,239.68 L176.13,239.16 L176.69,239.78 L177.24,240.10 L177.80,239.30 L178.36,239.55 L178.91,240.45 L179.47,239.96 L180.02,239.49 L180.58,238.87 L181.14,240.40 L181.69,240.23 L182.25,239.57 L182.80,238.48 L183.36,236.71 L183.92,238.41 L184.47,237.96 L185.03,237.91 L185.58,237.47 L186.14,237.32 L186.70,238.87 L187.25,240.68 L187.81,240.12 L188.36,238.09 L188.92,237.30 L189.48,237.85 L190.03,237.47 L190.59,239.38 L191.14,241.18 L191.70,240.64 L192.26,240.12 L192.81,239.49 L193.37,239.85 L193.92,241.12 L194.48,239.93 L195.04,240.95 L195.59,240.43 L196.15,239.82 L196.70,239.70 L197.26,240.10 L197.82,241.06 L198.37,240.62 L198.93,239.77 L199.48,241.05 L200.04,242.41 L200.60,243.31 L201.15,241.29 L201.71,241.35 L202.26,240.93 L202.82,241.64 L203.38,241.27 L203.93,240.76 L204.49,239.93 L205.04,241.57 L205.60,242.08 L206.16,240.76 L206.71,240.25 L207.27,241.55 L207.82,240.78 L208.38,240.92 L208.94,241.23 L209.49,243.08 L210.05,241.87 L210.60,241.71 L211.16,241.60 L211.72,242.29 L212.27,242.49 L212.83,243.90 L213.38,241.89 L213.94,240.24 L214.50,241.06 L215.05,241.35 L215.61,240.80 L216.16,240.11 L216.72,242.06 L217.28,243.20 L217.83,242.82 L218.39,241.99 L218.94,240.80 L219.50,240.12 L220.06,241.42 L220.61,241.47 L221.17,239.42 L221.72,239.06 L222.28,240.32 L222.84,239.33 L223.39,239.83 L223.95,240.15 L224.50,239.95 L225.06,240.72 L225.62,241.62 L226.17,241.34 L226.73,240.33 L227.28,239.10 L227.84,238.69 L228.40,238.70 L228.95,240.20 L229.51,240.35 L230.06,241.65 L230.62,241.23 L231.18,239.58 L231.73,239.95 L232.29,238.71 L232.84,239.92 L233.40,241.65 L233.96,242.69 L234.51,243.46 L235.07,240.59 L235.62,239.52 L236.18,237.43 L236.74,238.83 L237.29,241.37 L237.85,243.41 L238.40,244.15 L238.96,242.82 L239.52,242.43 L240.07,243.19 L240.63,241.22 L241.18,240.81 L241.74,242.45 L242.30,242.39 L242.85,242.68 L243.41,240.89 L243.96,242.19 L244.52,243.02 L245.08,243.60 L245.63,242.94 L246.19,242.63 L246.74,240.00 L247.30,240.13 L247.86,241.98 L248.41,241.85 L248.97,240.84 L249.52,240.68 L250.08,241.18 L250.64,239.15 L251.19,238.90 L251.75,238.84 L252.30,243.06 L252.86,242.45 L253.42,239.92 L253.97,239.96 L254.53,240.82 L255.08,241.44 L255.64,240.25 L256.20,240.44 L256.75,238.89 L257.31,238.81 L257.86,239.84 L258.42,242.26 L258.98,240.48 L259.53,238.55 L260.09,238.35 L260.64,239.06 L261.20,239.90 L261.76,241.40 L262.31,239.57 L262.87,239.01 L263.42,240.42 L263.98,240.89 L264.54,241.48 L265.09,241.42 L265.65,241.62 L266.20,241.08 L266.76,241.86 L267.32,243.13 L267.87,242.22 L268.43,240.91 L268.98,240.46 L269.54,239.28 L270.10,239.32 L270.65,239.38 L271.21,240.34 L271.76,239.94 L272.32,241.44 L272.88,241.42 L273.43,239.96 L273.99,240.49 L274.54,241.28 L275.10,239.65 L275.66,238.89 L276.21,239.37 L276.77,239.14 L277.32,239.47 L277.88,240.08 L278.44,242.21 L278.99,243.44 L279.55,242.95 L280.10,244.32 L280.66,243.11 L281.22,242.74 L281.77,241.85 L282.33,242.24 L282.88,241.95 L283.44,242.51 L284.00,241.61 L284.55,240.24 L285.11,242.50 L285.66,242.98 L286.22,239.98 L286.78,239.92 L287.33,240.86 L287.89,241.14 L288.44,240.52 L289.00,240.55 L289.56,239.54 L290.11,240.46 L290.67,240.71 L291.22,239.84 L291.78,240.52 L292.34,239.86 L292.89,241.11 L293.45,240.70 L294.00,240.02 L294.56,240.34 L295.12,239.15 L295.67,239.80 L296.23,240.35 L296.78,241.91 L297.34,240.02 L297.90,240.41 L298.45,242.09 L299.01,240.30 L299.56,239.89 L300.12,241.00 L300.68,241.69 L301.23,241.69 L301.79,240.23 L302.34,239.85 L302.90,239.47 L303.46,237.71 L304.01,239.16 L304.57,239.90 L305.12,241.15 L305.68,239.49 L306.24,238.84 L306.79,239.82 L307.35,237.93 L307.90,239.78 L308.46,239.91 L309.02,240.36 L309.57,241.21 L310.13,242.91 L310.68,240.54 L311.24,241.93 L311.80,239.83 L312.35,241.28 L312.91,240.56 L313.46,238.22 L314.02,240.87 L314.58,241.26 L315.13,241.89 L315.69,240.91 L316.24,239.74 L316.80,239.45 L317.36,242.79 L317.91,241.05 L318.47,239.62 L319.02,239.53 L319.58,240.91 L320.14,239.96 L320.69,238.25 L321.25,238.87 L321.80,238.26" fill="none" stroke="#0000f8" stroke-width="1.7" stroke-linejoin="round"/>
<path d="M124.98,244.25 L125.31,245.23 L125.65,241.65 L125.98,241.33 L126.31,240.50 L126.65,240.68 L126.98,239.57 L127.32,239.20 L127.65,239.83 L127.98,238.75 L128.32,238.22 L128.65,238.68 L128.98,238.42 L129.32,238.84 L129.65,238.61 L129.98,238.52 L130.32,238.74 L130.65,238.73 L130.98,239.11 L131.32,240.62 L131.65,241.25 L131.99,240.16 L132.32,239.26 L132.65,240.80 L132.99,239.07 L133.32,239.34 L133.65,238.20 L133.99,238.26 L134.32,237.58 L134.65,238.32 L134.99,237.92 L135.32,238.13 L135.66,238.04 L135.99,238.44 L136.32,238.59 L136.66,239.00 L136.99,239.45 L137.32,239.87 L137.66,239.62 L137.99,241.67 L138.32,240.69 L138.66,241.00 L138.99,243.97 L139.32,242.34 L139.32,243.14 L138.99,243.55 L138.66,244.43 L138.32,244.13 L137.99,244.49 L137.66,244.53 L137.32,244.77 L136.99,245.18 L136.66,244.55 L136.32,242.56 L135.99,244.88 L135.66,245.22 L135.32,245.51 L134.99,244.91 L134.65,245.85 L134.32,245.57 L133.99,244.63 L133.65,244.81 L133.32,245.45 L132.99,245.12 L132.65,244.73 L132.32,243.44 L131.99,244.07 L131.65,243.49 L131.32,245.10 L130.98,244.38 L130.65,243.67 L130.32,244.18 L129.98,244.96 L129.65,244.81 L129.32,244.91 L128.98,244.67 L128.65,244.45 L128.32,246.04 L127.98,246.10 L127.65,245.59 L127.32,245.48 L126.98,246.27 L126.65,245.47 L126.31,245.97 L125.98,245.51 L125.65,246.08 L125.31,244.37 L124.98,246.58 Z" fill="#0000f8" stroke="#0000f8" stroke-width="0.8" stroke-linejoin="round"/>
<path d="M38.80,371.34 L39.36,371.32 L39.91,371.35 L40.47,371.35 L41.02,371.41 L41.58,371.45 L42.14,371.27 L42.69,371.12 L43.25,371.19 L43.80,371.25 L44.36,371.29 L44.92,371.43 L45.47,371.51 L46.03,369.25 L46.58,366.31 L47.14,363.40 L47.70,360.54 L48.25,357.95 L48.81,355.51 L49.36,352.96 L49.92,350.42 L50.48,348.27 L51.03,346.35 L51.59,344.37 L52.14,342.53 L52.70,340.81 L53.26,339.19 L53.81,337.86 L54.37,336.74 L54.92,335.55 L55.48,334.39 L56.04,333.37 L56.59,332.43 L57.15,331.46 L57.70,330.42 L58.26,329.57 L58.82,328.98 L59.37,328.28 L59.93,327.30 L60.48,326.24 L61.04,325.31 L61.60,324.43 L62.15,323.53 L62.71,322.55 L63.26,321.36 L63.82,320.08 L64.38,318.78 L64.93,317.45 L65.49,316.22 L66.04,314.93 L66.60,313.57 L67.16,312.36 L67.71,311.34 L68.27,310.41 L68.82,309.53 L69.38,308.74 L69.94,307.92 L70.49,306.93 L71.05,306.03 L71.60,305.39 L72.16,304.75 L72.72,304.01 L73.27,303.40 L73.83,302.88 L74.38,302.28 L74.94,301.60 L75.50,300.94 L76.05,300.35 L76.61,299.71 L77.16,299.15 L77.72,298.59 L78.28,297.99 L78.83,297.30 L79.39,296.65 L79.94,296.20 L80.50,295.80 L81.06,295.19 L81.61,294.42 L82.17,293.75 L82.72,293.31 L83.28,292.86 L83.84,292.26 L84.39,291.57 L84.95,290.91 L85.50,290.27 L86.06,289.50 L86.62,288.80 L87.17,288.22 L87.73,287.61 L88.28,287.07 L88.84,286.72 L89.40,286.16 L89.95,285.49 L90.51,285.03 L91.06,284.53 L91.62,284.02 L92.18,283.57 L92.73,283.02 L93.29,282.35 L93.84,281.67 L94.40,281.06 L94.96,280.53 L95.51,280.06 L96.07,279.57 L96.62,279.10 L97.18,278.74 L97.74,278.30 L98.29,277.79 L98.85,277.32 L99.40,276.68 L99.96,276.17 L100.52,275.98 L101.07,275.70 L101.63,275.11 L102.18,274.49 L102.74,273.94 L103.30,273.37 L103.85,272.94 L104.41,272.60 L104.96,272.22 L105.52,271.87 L106.08,271.38 L106.63,270.74 L107.19,270.14 L107.74,269.67 L108.30,269.34 L108.86,268.96 L109.41,268.47 L109.97,268.16 L110.52,267.77 L111.08,267.26 L111.64,266.88 L112.19,266.66 L112.75,266.53 L113.30,266.27 L113.86,265.84 L114.42,265.38 L114.97,264.96 L115.53,264.63 L116.08,264.30 L116.64,263.93 L117.20,263.60 L117.75,263.18 L118.31,262.73 L118.86,262.35 L119.42,261.88 L119.98,261.33 L120.53,260.84 L121.09,260.49 L121.64,260.26 L122.20,260.14 L122.76,260.05 L123.31,259.82 L123.87,259.49 L124.42,259.13 L124.98,258.82 L125.54,258.55 L126.09,258.19 L126.65,257.85 L127.20,257.77 L127.76,257.70 L128.32,257.39 L128.87,257.02 L129.43,256.61 L129.98,256.16 L130.54,255.89 L131.10,255.78 L131.65,255.72 L132.21,255.55 L132.76,255.38 L133.32,255.29 L133.88,255.17 L134.43,255.02 L134.99,254.78 L135.54,254.26 L136.10,253.82 L136.66,253.86 L137.21,254.05 L137.77,253.97 L138.32,253.80 L138.88,253.63 L139.44,253.35 L139.99,253.07 L140.55,252.99 L141.10,253.00 L141.66,252.86 L142.22,252.68 L142.77,252.63 L143.33,252.80 L143.88,252.87 L144.44,252.85 L145.00,252.88 L145.55,252.95 L146.11,252.87 L146.66,252.73 L147.22,252.71 L147.78,252.70 L148.33,252.66 L148.89,252.67 L149.44,252.66 L150.00,252.58 L150.56,252.50 L151.11,252.55 L151.67,252.64 L152.22,252.54 L152.78,252.43 L153.34,252.49 L153.89,252.47 L154.45,252.32 L155.00,252.13 L155.56,252.07 L156.12,252.20 L156.67,252.41 L157.23,252.50 L157.78,252.46 L158.34,252.31 L158.90,252.05 L159.45,251.76 L160.01,251.67 L160.56,251.80 L161.12,251.90 L161.68,251.90 L162.23,251.82 L162.79,251.69 L163.34,251.58 L163.90,251.62 L164.46,251.61 L165.01,251.45 L165.57,251.14 L166.12,250.90 L166.68,250.87 L167.24,250.87 L167.79,250.79 L168.35,250.64 L168.90,250.43 L169.46,250.09 L170.02,249.84 L170.57,249.78 L171.13,249.77 L171.68,249.69 L172.24,249.59 L172.80,249.60 L173.35,249.41 L173.91,249.11 L174.46,249.10 L175.02,249.17 L175.58,249.00 L176.13,248.60 L176.69,248.36 L177.24,248.40 L177.80,248.46 L178.36,248.31 L178.91,248.02 L179.47,247.60 L180.02,247.28 L180.58,247.18 L181.14,246.99 L181.69,246.69 L182.25,246.70 L182.80,247.03 L183.36,247.18 L183.92,247.24 L184.47,247.02 L185.03,246.72 L185.58,246.71 L186.14,246.43 L186.70,246.00 L187.25,246.20 L187.81,246.64 L188.36,246.53 L188.92,246.24 L189.48,245.75 L190.03,245.06 L190.59,245.00 L191.14,245.01 L191.70,244.85 L192.26,245.18 L192.81,245.53 L193.37,245.11 L193.92,244.45 L194.48,243.92 L195.04,243.37 L195.59,243.15 L196.15,243.33 L196.70,243.45 L197.26,242.98 L197.82,242.69 L198.37,243.00 L198.93,242.60 L199.48,242.45 L200.04,242.76 L200.60,242.57 L201.15,242.51 L201.71,242.77 L202.26,242.30 L202.82,241.92 L203.38,242.01 L203.93,241.34 L204.49,240.64 L205.04,241.40 L205.60,242.99 L206.16,244.00 L206.71,243.43 L207.27,242.01 L207.82,241.64 L208.38,241.97 L208.94,242.16 L209.49,241.59 L210.05,240.38 L210.60,240.03 L211.16,240.81 L211.72,241.85 L212.27,241.86 L212.83,242.13 L213.38,243.27 L213.94,243.75 L214.50,243.04 L215.05,242.08 L215.61,242.20 L216.16,242.66 L216.72,242.71 L217.28,242.94 L217.83,243.07 L218.39,243.25 L218.94,243.22 L219.50,242.92 L220.06,243.81 L220.61,244.83 L221.17,243.99 L221.72,243.43 L222.28,244.00 L222.84,243.61 L223.39,243.62 L223.95,244.34 L224.50,244.67 L225.06,245.09 L225.62,244.88 L226.17,243.86 L226.73,243.85 L227.28,244.60 L227.84,244.36 L228.40,243.92 L228.95,243.59 L229.51,242.82 L230.06,242.48 L230.62,242.12 L231.18,242.07 L231.73,242.42 L232.29,242.14 L232.84,241.74 L233.40,241.71 L233.96,241.55 L234.51,240.82 L235.07,240.10 L235.62,239.89 L236.18,240.93 L236.74,242.49 L237.29,242.54 L237.85,241.53 L238.40,241.27 L238.96,241.86 L239.52,241.93 L240.07,241.63 L240.63,241.42 L241.18,241.52 L241.74,242.03 L242.30,242.21 L242.85,242.31 L243.41,242.42 L243.96,242.65 L244.52,242.32 L245.08,242.01 L245.63,242.35 L246.19,242.15 L246.74,241.79 L247.30,242.08 L247.86,242.46 L248.41,242.64 L248.97,242.43 L249.52,241.43 L250.08,240.40 L250.64,240.05 L251.19,240.46 L251.75,241.06 L252.30,241.73 L252.86,242.19 L253.42,242.48 L253.97,242.32 L254.53,242.07 L255.08,242.49 L255.64,243.44 L256.20,243.29 L256.75,242.54 L257.31,242.33 L257.86,242.69 L258.42,242.45 L258.98,242.01 L259.53,242.43 L260.09,242.56 L260.64,242.69 L261.20,243.29 L261.76,242.72 L262.31,242.11 L262.87,242.83 L263.42,244.16 L263.98,244.48 L264.54,243.84 L265.09,242.84 L265.65,241.84 L266.20,241.16 L266.76,240.60 L267.32,240.70 L267.87,241.21 L268.43,241.82 L268.98,241.72 L269.54,240.88 L270.10,240.52 L270.65,240.57 L271.21,240.23 L271.76,240.04 L272.32,240.34 L272.88,241.27 L273.43,241.30 L273.99,240.73 L274.54,240.83 L275.10,240.82 L275.66,240.13 L276.21,239.89 L276.77,240.24 L277.32,240.50 L277.88,241.00 L278.44,240.97 L278.99,240.52 L279.55,240.92 L280.10,241.16 L280.66,241.20 L281.22,241.96 L281.77,242.33 L282.33,241.79 L282.88,241.00 L283.44,240.75 L284.00,241.52 L284.55,242.57 L285.11,242.97 L285.66,242.51 L286.22,241.76 L286.78,241.78 L287.33,243.19 L287.89,244.24 L288.44,243.73 L289.00,242.02 L289.56,240.40 L290.11,240.23 L290.67,241.24 L291.22,241.30 L291.78,240.38 L292.34,239.25 L292.89,238.79 L293.45,238.84 L294.00,239.15 L294.56,239.35 L295.12,239.88 L295.67,240.34 L296.23,240.48 L296.78,241.59 L297.34,242.70 L297.90,242.47 L298.45,241.68 L299.01,240.33 L299.56,239.43 L300.12,239.85 L300.68,240.94 L301.23,242.10 L301.79,242.23 L302.34,241.04 L302.90,239.94 L303.46,240.39 L304.01,241.49 L304.57,242.27 L305.12,241.81 L305.68,240.95 L306.24,240.65 L306.79,240.42 L307.35,240.05 L307.90,240.46 L308.46,241.54 L309.02,241.54 L309.57,240.42 L310.13,240.24 L310.68,240.96 L311.24,241.30 L311.80,241.59 L312.35,241.15 L312.91,240.99 L313.46,241.87 L314.02,242.14 L314.58,242.21 L315.13,242.28 L315.69,242.13 L316.24,242.66 L316.80,243.19 L317.36,242.87 L317.91,241.76 L318.47,240.78 L319.02,240.75 L319.58,241.67 L320.14,241.90 L320.69,241.36 L321.25,241.27 L321.80,240.66" fill="none" stroke="#800000" stroke-width="1.55" stroke-linejoin="round"/>
<path d="M38.80,371.20 L39.36,371.11 L39.91,371.14 L40.47,371.22 L41.02,371.31 L41.58,371.37 L42.14,371.37 L42.69,371.38 L43.25,371.40 L43.80,371.31 L44.36,371.20 L44.92,371.32 L45.47,371.58 L46.03,367.14 L46.58,361.17 L47.14,355.65 L47.70,350.75 L48.25,346.38 L48.81,342.49 L49.36,339.35 L49.92,336.99 L50.48,335.02 L51.03,333.18 L51.59,331.44 L52.14,329.87 L52.70,328.56 L53.26,327.39 L53.81,325.94 L54.37,324.33 L54.92,322.75 L55.48,320.89 L56.04,318.86 L56.59,316.86 L57.15,314.70 L57.70,312.67 L58.26,311.05 L58.82,309.50 L59.37,307.99 L59.93,306.87 L60.48,305.86 L61.04,304.82 L61.60,303.85 L62.15,303.00 L62.71,302.14 L63.26,301.36 L63.82,300.64 L64.38,299.92 L64.93,299.25 L65.49,298.53 L66.04,297.92 L66.60,297.63 L67.16,297.24 L67.71,296.61 L68.27,295.92 L68.82,295.24 L69.38,294.56 L69.94,293.95 L70.49,293.60 L71.05,293.23 L71.60,292.68 L72.16,292.11 L72.72,291.50 L73.27,290.82 L73.83,290.20 L74.38,289.69 L74.94,289.23 L75.50,288.68 L76.05,288.19 L76.61,287.80 L77.16,287.36 L77.72,286.79 L78.28,286.19 L78.83,285.53 L79.39,284.90 L79.94,284.25 L80.50,283.65 L81.06,283.37 L81.61,283.18 L82.17,282.66 L82.72,282.10 L83.28,281.63 L83.84,281.19 L84.39,280.83 L84.95,280.56 L85.50,280.01 L86.06,279.25 L86.62,278.62 L87.17,278.13 L87.73,277.74 L88.28,277.27 L88.84,276.71 L89.40,276.30 L89.95,275.88 L90.51,275.30 L91.06,274.73 L91.62,274.11 L92.18,273.52 L92.73,272.95 L93.29,272.46 L93.84,272.02 L94.40,271.48 L94.96,270.94 L95.51,270.44 L96.07,269.92 L96.62,269.39 L97.18,268.83 L97.74,268.28 L98.29,267.74 L98.85,267.17 L99.40,266.74 L99.96,266.33 L100.52,265.79 L101.07,265.34 L101.63,264.98 L102.18,264.52 L102.74,264.04 L103.30,263.61 L103.85,263.21 L104.41,262.85 L104.96,262.62 L105.52,262.40 L106.08,261.91 L106.63,261.37 L107.19,260.92 L107.74,260.57 L108.30,260.27 L108.86,259.97 L109.41,259.78 L109.97,259.67 L110.52,259.40 L111.08,259.02 L111.64,258.86 L112.19,258.83 L112.75,258.54 L113.30,258.13 L113.86,257.94 L114.42,257.81 L114.97,257.43 L115.53,257.04 L116.08,256.84 L116.64,256.73 L117.20,256.61 L117.75,256.44 L118.31,256.16 L118.86,255.69 L119.42,255.19 L119.98,255.03 L120.53,255.21 L121.09,255.28 L121.64,255.09 L122.20,254.87 L122.76,254.77 L123.31,254.67 L123.87,254.45 L124.42,254.23 L124.98,254.10 L125.54,254.00 L126.09,253.85 L126.65,253.72 L127.20,253.57 L127.76,253.38 L128.32,253.19 L128.87,253.02 L129.43,252.86 L129.98,252.71 L130.54,252.54 L131.10,252.31 L131.65,251.96 L132.21,251.59 L132.76,251.49 L133.32,251.55 L133.88,251.42 L134.43,251.10 L134.99,250.84 L135.54,250.65 L136.10,250.55 L136.66,250.56 L137.21,250.35 L137.77,249.95 L138.32,249.64 L138.88,249.51 L139.44,249.40 L139.99,249.24 L140.55,249.06 L141.10,248.91 L141.66,248.81 L142.22,248.66 L142.77,248.39 L143.33,248.06 L143.88,247.84 L144.44,247.76 L145.00,247.62 L145.55,247.39 L146.11,247.23 L146.66,247.17 L147.22,247.15 L147.78,247.07 L148.33,246.91 L148.89,246.75 L149.44,246.65 L150.00,246.62 L150.56,246.54 L151.11,246.50 L151.67,246.53 L152.22,246.50 L152.78,246.43 L153.34,246.21 L153.89,245.77 L154.45,245.45 L155.00,245.59 L155.56,245.68 L156.12,245.63 L156.67,245.59 L157.23,245.61 L157.78,245.39 L158.34,244.91 L158.90,244.99 L159.45,245.51 L160.01,245.60 L160.56,245.59 L161.12,245.55 L161.68,245.06 L162.23,244.58 L162.79,244.35 L163.34,243.97 L163.90,243.70 L164.46,243.73 L165.01,243.43 L165.57,243.82 L166.12,244.93 L166.68,244.61 L167.24,243.65 L167.79,243.60 L168.35,243.63 L168.90,243.19 L169.46,243.47 L170.02,244.11 L170.57,243.91 L171.13,243.77 L171.68,244.07 L172.24,244.23 L172.80,243.87 L173.35,243.91 L173.91,244.23 L174.46,243.57 L175.02,242.41 L175.58,242.56 L176.13,243.61 L176.69,243.75 L177.24,243.66 L177.80,243.44 L178.36,242.44 L178.91,241.64 L179.47,242.14 L180.02,242.92 L180.58,242.57 L181.14,241.69 L181.69,241.33 L182.25,241.66 L182.80,241.83 L183.36,241.77 L183.92,242.19 L184.47,242.49 L185.03,241.69 L185.58,241.51 L186.14,242.28 L186.70,242.58 L187.25,241.65 L187.81,241.17 L188.36,242.46 L188.92,243.34 L189.48,242.75 L190.03,242.43 L190.59,242.95 L191.14,243.24 L191.70,242.83 L192.26,243.71 L192.81,245.03 L193.37,243.80 L193.92,242.68 L194.48,243.55 L195.04,243.93 L195.59,242.25 L196.15,240.52 L196.70,240.08 L197.26,240.21 L197.82,241.25 L198.37,242.45 L198.93,242.61 L199.48,242.50 L200.04,243.29 L200.60,243.63 L201.15,243.13 L201.71,242.71 L202.26,243.15 L202.82,243.85 L203.38,243.13 L203.93,241.67 L204.49,241.54 L205.04,242.06 L205.60,242.22 L206.16,242.12 L206.71,241.76 L207.27,240.90 L207.82,240.59 L208.38,240.81 L208.94,240.99 L209.49,241.42 L210.05,241.48 L210.60,241.18 L211.16,241.47 L211.72,241.45 L212.27,240.82 L212.83,240.77 L213.38,240.67 L213.94,240.91 L214.50,241.90 L215.05,241.88 L215.61,241.36 L216.16,241.71 L216.72,242.15 L217.28,242.19 L217.83,242.15 L218.39,241.93 L218.94,241.44 L219.50,240.80 L220.06,240.21 L220.61,240.13 L221.17,240.21 L221.72,240.38 L222.28,240.55 L222.84,240.91 L223.39,241.02 L223.95,241.03 L224.50,241.42 L225.06,242.49 L225.62,242.98 L226.17,242.87 L226.73,242.59 L227.28,242.02 L227.84,241.94 L228.40,241.77 L228.95,241.57 L229.51,242.27 L230.06,243.68 L230.62,244.83 L231.18,245.11 L231.73,244.66 L232.29,244.12 L232.84,243.61 L233.40,243.49 L233.96,244.18 L234.51,244.11 L235.07,242.61 L235.62,241.80 L236.18,242.54 L236.74,242.86 L237.29,242.25 L237.85,241.56 L238.40,241.68 L238.96,242.11 L239.52,242.00 L240.07,241.73 L240.63,241.35 L241.18,242.02 L241.74,244.04 L242.30,245.03 L242.85,244.73 L243.41,243.84 L243.96,242.48 L244.52,241.03 L245.08,239.82 L245.63,239.72 L246.19,240.51 L246.74,240.89 L247.30,240.68 L247.86,240.75 L248.41,240.95 L248.97,240.95 L249.52,241.17 L250.08,241.33 L250.64,241.48 L251.19,241.75 L251.75,241.69 L252.30,241.41 L252.86,241.45 L253.42,240.98 L253.97,239.34 L254.53,239.13 L255.08,239.13 L255.64,239.21 L256.20,240.70 L256.75,241.96 L257.31,242.64 L257.86,242.70 L258.42,242.34 L258.98,241.89 L259.53,240.96 L260.09,240.42 L260.64,240.65 L261.20,240.66 L261.76,240.14 L262.31,239.66 L262.87,239.34 L263.42,239.32 L263.98,240.29 L264.54,240.99 L265.09,240.88 L265.65,240.45 L266.20,239.97 L266.76,239.79 L267.32,239.76 L267.87,240.07 L268.43,240.95 L268.98,241.01 L269.54,241.20 L270.10,242.03 L270.65,241.93 L271.21,240.59 L271.76,239.54 L272.32,239.71 L272.88,240.40 L273.43,240.91 L273.99,241.06 L274.54,240.61 L275.10,239.72 L275.66,239.31 L276.21,239.87 L276.77,240.43 L277.32,240.23 L277.88,240.61 L278.44,241.60 L278.99,241.66 L279.55,241.56 L280.10,241.96 L280.66,242.66 L281.22,242.77 L281.77,242.39 L282.33,242.36 L282.88,242.51 L283.44,242.23 L284.00,241.39 L284.55,241.20 L285.11,241.82 L285.66,242.01 L286.22,241.81 L286.78,241.24 L287.33,240.81 L287.89,241.26 L288.44,242.05 L289.00,242.04 L289.56,241.06 L290.11,241.21 L290.67,242.42 L291.22,242.60 L291.78,242.68 L292.34,242.48 L292.89,241.33 L293.45,240.68 L294.00,241.13 L294.56,242.67 L295.12,243.96 L295.67,244.40 L296.23,244.40 L296.78,244.41 L297.34,243.51 L297.90,242.28 L298.45,241.88 L299.01,242.01 L299.56,242.30 L300.12,242.66 L300.68,243.42 L301.23,243.86 L301.79,243.47 L302.34,243.51 L302.90,244.02 L303.46,243.82 L304.01,243.47 L304.57,244.03 L305.12,243.88 L305.68,242.81 L306.24,242.32 L306.79,242.85 L307.35,243.19 L307.90,242.72 L308.46,242.96 L309.02,243.22 L309.57,242.75 L310.13,243.46 L310.68,245.09 L311.24,245.09 L311.80,244.40 L312.35,243.39 L312.91,242.86 L313.46,242.90 L314.02,243.06 L314.58,242.82 L315.13,242.93 L315.69,243.09 L316.24,242.62 L316.80,242.47 L317.36,242.69 L317.91,243.00 L318.47,243.55 L319.02,243.74 L319.58,243.46 L320.14,242.79 L320.69,241.80 L321.25,241.41 L321.80,240.97" fill="none" stroke="#ff80ff" stroke-width="1.55" stroke-linejoin="round"/>
</g>
<rect x="38.80" y="228.80" width="283.40" height="155.50" fill="none" stroke="#b4b4b4" stroke-width="1.3"/>
<line x1="38.80" y1="384.30" x2="38.80" y2="387.50" stroke="#7a7a7a" stroke-width="1"/>
<line x1="66.60" y1="384.30" x2="66.60" y2="386.10" stroke="#7a7a7a" stroke-width="1"/>
<line x1="94.40" y1="384.30" x2="94.40" y2="387.50" stroke="#7a7a7a" stroke-width="1"/>
<line x1="122.20" y1="384.30" x2="122.20" y2="386.10" stroke="#7a7a7a" stroke-width="1"/>
<line x1="150.00" y1="384.30" x2="150.00" y2="387.50" stroke="#7a7a7a" stroke-width="1"/>
<line x1="177.80" y1="384.30" x2="177.80" y2="386.10" stroke="#7a7a7a" stroke-width="1"/>
<line x1="205.60" y1="384.30" x2="205.60" y2="387.50" stroke="#7a7a7a" stroke-width="1"/>
<line x1="233.40" y1="384.30" x2="233.40" y2="386.10" stroke="#7a7a7a" stroke-width="1"/>
<line x1="261.20" y1="384.30" x2="261.20" y2="387.50" stroke="#7a7a7a" stroke-width="1"/>
<line x1="289.00" y1="384.30" x2="289.00" y2="386.10" stroke="#7a7a7a" stroke-width="1"/>
<line x1="316.80" y1="384.30" x2="316.80" y2="387.50" stroke="#7a7a7a" stroke-width="1"/>
<line x1="35.60" y1="371.20" x2="38.80" y2="371.20" stroke="#7a7a7a" stroke-width="1"/>
<line x1="37.00" y1="354.97" x2="38.80" y2="354.97" stroke="#7a7a7a" stroke-width="1"/>
<line x1="35.60" y1="338.75" x2="38.80" y2="338.75" stroke="#7a7a7a" stroke-width="1"/>
<line x1="37.00" y1="322.52" x2="38.80" y2="322.52" stroke="#7a7a7a" stroke-width="1"/>
<line x1="35.60" y1="306.30" x2="38.80" y2="306.30" stroke="#7a7a7a" stroke-width="1"/>
<line x1="37.00" y1="290.07" x2="38.80" y2="290.07" stroke="#7a7a7a" stroke-width="1"/>
<line x1="35.60" y1="273.85" x2="38.80" y2="273.85" stroke="#7a7a7a" stroke-width="1"/>
<line x1="37.00" y1="257.62" x2="38.80" y2="257.62" stroke="#7a7a7a" stroke-width="1"/>
<line x1="35.60" y1="241.40" x2="38.80" y2="241.40" stroke="#7a7a7a" stroke-width="1"/>
<line x1="319.00" y1="371.20" x2="322.20" y2="371.20" stroke="#7a7a7a" stroke-width="1"/>
<line x1="320.40" y1="354.97" x2="322.20" y2="354.97" stroke="#7a7a7a" stroke-width="1"/>
<line x1="319.00" y1="338.75" x2="322.20" y2="338.75" stroke="#7a7a7a" stroke-width="1"/>
<line x1="320.40" y1="322.52" x2="322.20" y2="322.52" stroke="#7a7a7a" stroke-width="1"/>
<line x1="319.00" y1="306.30" x2="322.20" y2="306.30" stroke="#7a7a7a" stroke-width="1"/>
<line x1="320.40" y1="290.07" x2="322.20" y2="290.07" stroke="#7a7a7a" stroke-width="1"/>
<line x1="319.00" y1="273.85" x2="322.20" y2="273.85" stroke="#7a7a7a" stroke-width="1"/>
<line x1="320.40" y1="257.62" x2="322.20" y2="257.62" stroke="#7a7a7a" stroke-width="1"/>
<line x1="319.00" y1="241.40" x2="322.20" y2="241.40" stroke="#7a7a7a" stroke-width="1"/>
<text x="37.50" y="398.10" font-family='"Liberation Sans", sans-serif' font-size="9.6" fill="#1e1e1e" text-anchor="middle" textLength="5.0" lengthAdjust="spacingAndGlyphs" >0</text>
<text x="93.10" y="398.10" font-family='"Liberation Sans", sans-serif' font-size="9.6" fill="#1e1e1e" text-anchor="middle" textLength="20.02" lengthAdjust="spacingAndGlyphs" >2000</text>
<text x="148.70" y="398.10" font-family='"Liberation Sans", sans-serif' font-size="9.6" fill="#1e1e1e" text-anchor="middle" textLength="20.02" lengthAdjust="spacingAndGlyphs" >4000</text>
<text x="204.30" y="398.10" font-family='"Liberation Sans", sans-serif' font-size="9.6" fill="#1e1e1e" text-anchor="middle" textLength="20.02" lengthAdjust="spacingAndGlyphs" >6000</text>
<text x="259.90" y="398.10" font-family='"Liberation Sans", sans-serif' font-size="9.6" fill="#1e1e1e" text-anchor="middle" textLength="20.02" lengthAdjust="spacingAndGlyphs" >8000</text>
<text x="315.50" y="398.10" font-family='"Liberation Sans", sans-serif' font-size="9.6" fill="#1e1e1e" text-anchor="middle" textLength="25.02" lengthAdjust="spacingAndGlyphs" >10000</text>
<text x="32.80" y="374.55" font-family='"Liberation Sans", sans-serif' font-size="9.6" fill="#1e1e1e" text-anchor="end" textLength="5.06" lengthAdjust="spacingAndGlyphs" >0</text>
<text x="32.80" y="342.10" font-family='"Liberation Sans", sans-serif' font-size="9.6" fill="#1e1e1e" text-anchor="end" textLength="10.12" lengthAdjust="spacingAndGlyphs" >50</text>
<text x="32.80" y="309.65" font-family='"Liberation Sans", sans-serif' font-size="9.6" fill="#1e1e1e" text-anchor="end" textLength="15.18" lengthAdjust="spacingAndGlyphs" >100</text>
<text x="32.80" y="277.20" font-family='"Liberation Sans", sans-serif' font-size="9.6" fill="#1e1e1e" text-anchor="end" textLength="15.18" lengthAdjust="spacingAndGlyphs" >150</text>
<text x="32.80" y="244.75" font-family='"Liberation Sans", sans-serif' font-size="9.6" fill="#1e1e1e" text-anchor="end" textLength="15.18" lengthAdjust="spacingAndGlyphs" >200</text>
<rect x="192.30" y="306.40" width="120.30" height="66.40" fill="#fff" stroke="#b4b4b4" stroke-width="1.1"/>
<line x1="195.80" y1="314.10" x2="216.10" y2="314.10" stroke="#202020" stroke-width="1.6"/>
<text x="218.80" y="317.30" font-family='"Liberation Sans", sans-serif' font-size="9.2" fill="#1e1e1e" text-anchor="start" textLength="29.3" lengthAdjust="spacingAndGlyphs" >(18,13)</text>
<line x1="195.80" y1="325.10" x2="216.10" y2="325.10" stroke="#2020e0" stroke-width="1.6"/>
<text x="218.80" y="328.30" font-family='"Liberation Sans", sans-serif' font-size="9.2" fill="#1e1e1e" text-anchor="start" textLength="29.3" lengthAdjust="spacingAndGlyphs" >(20,10)</text>
<line x1="195.80" y1="336.10" x2="216.10" y2="336.10" stroke="#702020" stroke-width="1.6"/>
<text x="218.80" y="339.30" font-family='"Liberation Sans", sans-serif' font-size="9.2" fill="#1e1e1e" text-anchor="start" textLength="29.3" lengthAdjust="spacingAndGlyphs" >(22,&#160;&#160;7)</text>
<line x1="195.80" y1="346.90" x2="216.10" y2="346.90" stroke="#f890f0" stroke-width="1.6"/>
<text x="218.80" y="350.10" font-family='"Liberation Sans", sans-serif' font-size="9.2" fill="#1e1e1e" text-anchor="start" textLength="29.3" lengthAdjust="spacingAndGlyphs" >(15,15)</text>
<text x="58.00" y="256.00" font-family='"Liberation Sans", sans-serif' font-size="9.2" fill="#1e1e1e" text-anchor="start" textLength="29.0" lengthAdjust="spacingAndGlyphs" >(18,13)</text>
<text x="150.60" y="223.30" font-family='"Liberation Sans", sans-serif' font-size="11.6" fill="#1e1e1e">(c) <tspan font-family='"Liberation Serif", serif' font-style="italic" font-size="12.8">ω</tspan><tspan font-size="7.7" dy="2.6">2</tspan><tspan dy="-2.6">=200GHz</tspan></text>
<text transform="translate(12.00,322.00) rotate(-90)" font-family='"Liberation Sans", sans-serif' font-size="12" fill="#1e1e1e"><tspan font-family='"Liberation Serif", serif' font-style="italic" font-size="13.2">ω</tspan><tspan font-size="7.8" dy="2.4">1</tspan><tspan dy="-2.4">(GHz)</tspan></text>
<text x="157.50" y="409.40" font-family='"Liberation Sans", sans-serif' font-size="11.1" fill="#1e1e1e" text-anchor="start" textLength="48.6" lengthAdjust="spacingAndGlyphs" >Time (ps)</text>
<clipPath id="cd"><rect x="384.40" y="228.80" width="282.90" height="155.50"/></clipPath>
<g clip-path="url(#cd)">
<line x1="384.40" y1="246.59" x2="549.60" y2="246.59" stroke="#8a8a8a" stroke-width="1" stroke-dasharray="1.2,1.6"/>
<line x1="384.40" y1="249.19" x2="530.40" y2="249.19" stroke="#8a8a8a" stroke-width="1" stroke-dasharray="1.2,1.6"/>
<line x1="384.40" y1="254.38" x2="438.00" y2="254.38" stroke="#8a8a8a" stroke-width="1" stroke-dasharray="1.2,1.6"/>
<line x1="384.40" y1="273.20" x2="439.50" y2="273.20" stroke="#8a8a8a" stroke-width="1" stroke-dasharray="1.2,1.6"/>
<line x1="384.40" y1="277.09" x2="427.00" y2="277.09" stroke="#8a8a8a" stroke-width="1" stroke-dasharray="1.2,1.6"/>
<line x1="384.40" y1="312.79" x2="405.80" y2="312.79" stroke="#8a8a8a" stroke-width="1" stroke-dasharray="1.2,1.6"/>
<path d="M384.40,371.20 L384.96,371.28 L385.51,371.30 L386.07,371.22 L386.62,371.17 L387.18,371.16 L387.74,371.05 L388.29,370.99 L388.85,371.14 L389.40,371.36 L389.96,371.43 L390.52,370.77 L391.07,370.20 L391.63,369.64 L392.18,368.96 L392.74,368.17 L393.30,367.16 L393.85,365.94 L394.41,365.11 L394.96,364.51 L395.52,363.65 L396.08,362.66 L396.63,361.78 L397.19,360.68 L397.74,359.34 L398.30,358.08 L398.86,356.86 L399.41,355.68 L399.97,354.50 L400.52,353.21 L401.08,351.80 L401.64,350.41 L402.19,349.08 L402.75,347.68 L403.30,346.21 L403.86,344.85 L404.42,343.62 L404.97,342.47 L405.53,341.13 L406.08,339.61 L406.64,338.24 L407.20,336.87 L407.75,335.34 L408.31,333.93 L408.86,332.75 L409.42,331.54 L409.98,330.22 L410.53,329.01 L411.09,328.00 L411.64,326.98 L412.20,325.76 L412.76,324.53 L413.31,323.37 L413.87,322.42 L414.42,321.46 L414.98,320.39 L415.54,319.19 L416.09,318.05 L416.65,317.17 L417.20,316.31 L417.76,315.45 L418.32,314.53 L418.87,313.53 L419.43,312.64 L419.98,311.87 L420.54,310.96 L421.10,309.76 L421.65,308.89 L422.21,308.04 L422.76,307.30 L423.32,306.38 L423.88,305.55 L424.43,305.02 L424.99,304.54 L425.54,303.75 L426.10,302.76 L426.66,301.86 L427.21,301.09 L427.77,300.27 L428.32,299.38 L428.88,298.66 L429.44,298.29 L429.99,298.02 L430.55,297.33 L431.10,296.42 L431.66,295.76 L432.22,295.19 L432.77,294.30 L433.33,293.47 L433.88,292.94 L434.44,292.61 L435.00,292.19 L435.55,291.62 L436.11,291.02 L436.66,290.46 L437.22,289.79 L437.78,288.96 L438.33,288.41 L438.89,288.12 L439.44,287.67 L440.00,287.08 L440.56,286.69 L441.11,286.23 L441.67,285.62 L442.22,284.91 L442.78,284.15 L443.34,283.55 L443.89,283.17 L444.45,282.73 L445.00,282.05 L445.56,281.42 L446.12,280.92 L446.67,280.59 L447.23,280.51 L447.78,280.32 L448.34,279.92 L448.90,279.39 L449.45,278.85 L450.01,278.45 L450.56,278.08 L451.12,277.69 L451.68,277.45 L452.23,277.30 L452.79,277.10 L453.34,276.83 L453.90,276.48 L454.46,276.12 L455.01,275.73 L455.57,275.34 L456.12,275.05 L456.68,274.77 L457.24,274.49 L457.79,274.36 L458.35,274.14 L458.90,273.91 L459.46,273.76 L460.02,273.66 L460.57,273.45 L461.13,273.23 L461.68,273.10 L462.24,272.94 L462.80,272.78 L463.35,272.54 L463.91,272.17 L464.46,271.71 L465.02,271.43 L465.58,271.37 L466.13,271.14 L466.69,270.83 L467.24,270.65 L467.80,270.57 L468.36,270.36 L468.91,269.91 L469.47,269.53 L470.02,269.30 L470.58,269.05 L471.14,268.73 L471.69,268.51 L472.25,268.42 L472.80,268.30 L473.36,268.11 L473.92,267.96 L474.47,267.79 L475.03,267.60 L475.58,267.29 L476.14,266.94 L476.70,266.69 L477.25,266.45 L477.81,266.18 L478.36,265.85 L478.92,265.52 L479.48,265.19 L480.03,265.13 L480.59,265.22 L481.14,265.15 L481.70,264.79 L482.26,264.47 L482.81,264.50 L483.37,264.38 L483.92,263.93 L484.48,263.56 L485.04,263.50 L485.59,263.43 L486.15,263.16 L486.70,262.77 L487.26,262.31 L487.82,262.06 L488.37,262.12 L488.93,262.22 L489.48,262.18 L490.04,261.97 L490.60,261.66 L491.15,261.34 L491.71,260.99 L492.26,260.75 L492.82,260.52 L493.38,260.30 L493.93,260.17 L494.49,259.90 L495.04,259.64 L495.60,259.49 L496.16,259.40 L496.71,259.23 L497.27,258.90 L497.82,258.73 L498.38,258.75 L498.94,258.55 L499.49,258.28 L500.05,258.06 L500.60,257.85 L501.16,257.70 L501.72,257.50 L502.27,257.32 L502.83,257.30 L503.38,257.24 L503.94,257.11 L504.50,256.96 L505.05,256.68 L505.61,256.38 L506.16,256.20 L506.72,256.13 L507.28,256.41 L507.83,256.59 L508.39,256.38 L508.94,256.01 L509.50,255.64 L510.06,255.55 L510.61,255.60 L511.17,255.45 L511.72,255.06 L512.28,254.69 L512.84,254.63 L513.39,254.59 L513.95,254.44 L514.50,254.32 L515.06,254.25 L515.62,254.12 L516.17,253.89 L516.73,253.72 L517.28,253.63 L517.84,253.49 L518.40,253.41 L518.95,253.23 L519.51,252.82 L520.06,252.42 L520.62,252.27 L521.18,252.36 L521.73,252.43 L522.29,252.27 L522.84,252.02 L523.40,251.79 L523.96,251.62 L524.51,251.49 L525.07,251.41 L525.62,251.38 L526.18,251.26 L526.74,251.11 L527.29,251.06 L527.85,251.10 L528.40,251.11 L528.96,251.01 L529.52,250.99 L530.07,251.00 L530.63,250.94 L531.18,250.81 L531.74,250.74 L532.30,250.65 L532.85,250.52 L533.41,250.44 L533.96,250.31 L534.52,250.16 L535.08,250.10 L535.63,250.15 L536.19,250.18 L536.74,249.97 L537.30,249.62 L537.86,249.29 L538.41,249.16 L538.97,249.24 L539.52,249.51 L540.08,249.77 L540.64,250.07 L541.19,249.55 L541.75,248.90 L542.30,248.46 L542.86,248.27 L543.42,248.17 L543.97,248.20 L544.53,248.30 L545.08,248.17 L545.64,247.80 L546.20,247.50 L546.75,247.39 L547.31,247.56 L547.86,247.69 L548.42,247.56 L548.98,247.44 L549.53,247.83 L550.09,248.19 L550.64,247.92 L551.20,247.43 L551.76,247.05 L552.31,246.67 L552.87,246.27 L553.42,246.07 L553.98,245.86 L554.54,245.66 L555.09,245.71 L555.65,246.01 L556.20,246.33 L556.76,246.36 L557.32,246.28 L557.87,246.27 L558.43,246.36 L558.98,246.35 L559.54,246.28 L560.10,245.96 L560.65,245.67 L561.21,245.80 L561.76,246.11 L562.32,246.41 L562.88,246.85 L563.43,247.02 L563.99,247.03 L564.54,246.95 L565.10,246.86 L565.66,246.58 L566.21,245.40 L566.77,243.38 L567.32,241.50 L567.88,239.79 L568.44,238.15 L568.99,238.18 L569.55,238.67 L570.10,239.23 L570.66,239.68 L571.22,239.64 L571.77,239.41 L572.33,239.49 L572.88,239.65 L573.44,239.49 L574.00,239.01 L574.55,239.04 L575.11,239.32 L575.66,239.27 L576.22,239.26 L576.78,239.07 L577.33,238.70 L577.89,237.86 L578.44,236.68 L579.00,235.89 L579.56,235.60 L580.11,235.91 L580.67,236.90 L581.22,238.11 L581.78,239.34 L582.34,240.37 L582.89,240.60 L583.45,240.63 L584.00,240.91 L584.56,241.38 L585.12,242.44 L585.67,243.60 L586.23,244.84 L586.78,246.30 L587.34,247.63 L587.90,248.56 L588.45,249.19 L589.01,249.89 L589.56,250.91 L590.12,252.35 L590.68,254.12 L591.23,255.52 L591.79,256.74 L592.34,258.36 L592.90,260.35 L593.46,262.14 L594.01,263.34" fill="none" stroke="#808080" stroke-width="1.5" stroke-linejoin="round"/>
<rect x="593.90" y="262.17" width="5.09" height="17.13" fill="#808080"/>
<path d="M384.40,371.24 L384.96,371.13 L385.51,370.99 L386.07,371.01 L386.62,371.18 L387.18,371.20 L387.74,371.02 L388.29,370.71 L388.85,370.67 L389.40,370.94 L389.96,371.05 L390.52,370.19 L391.07,369.42 L391.63,368.80 L392.18,368.00 L392.74,367.06 L393.30,366.06 L393.85,364.93 L394.41,363.95 L394.96,363.06 L395.52,362.01 L396.08,360.82 L396.63,359.69 L397.19,358.42 L397.74,356.94 L398.30,355.45 L398.86,353.95 L399.41,352.23 L399.97,350.39 L400.52,348.64 L401.08,346.88 L401.64,345.09 L402.19,343.36 L402.75,341.74 L403.30,340.25 L403.86,338.69 L404.42,337.14 L404.97,335.90 L405.53,334.58 L406.08,332.92 L406.64,331.25 L407.20,330.03 L407.75,329.08 L408.31,328.21 L408.86,327.11 L409.42,325.83 L409.98,324.63 L410.53,323.45 L411.09,322.29 L411.64,321.23 L412.20,320.21 L412.76,319.18 L413.31,318.13 L413.87,317.04 L414.42,316.04 L414.98,315.14 L415.54,314.10 L416.09,313.06 L416.65,312.15 L417.20,311.12 L417.76,309.95 L418.32,308.89 L418.87,307.99 L419.43,307.29 L419.98,306.86 L420.54,306.29 L421.10,305.50 L421.65,304.88 L422.21,304.37 L422.76,303.42 L423.32,302.42 L423.88,301.75 L424.43,301.23 L424.99,300.77 L425.54,300.21 L426.10,299.44 L426.66,298.76 L427.21,298.12 L427.77,297.41 L428.32,296.69 L428.88,296.19 L429.44,295.79 L429.99,295.36 L430.55,294.82 L431.10,294.08 L431.66,293.42 L432.22,293.07 L432.77,292.70 L433.33,291.87 L433.88,290.94 L434.44,290.36 L435.00,289.92 L435.55,289.42 L436.11,288.70 L436.66,287.80 L437.22,286.85 L437.78,286.01 L438.33,285.28 L438.89,284.60 L439.44,283.92 L440.00,283.17 L440.56,282.47 L441.11,281.69 L441.67,280.99 L442.22,280.54 L442.78,280.03 L443.34,279.43 L443.89,278.82 L444.45,278.24 L445.00,277.71 L445.56,277.19 L446.12,276.79 L446.67,276.54 L447.23,276.19 L447.78,275.78 L448.34,275.35 L448.90,274.85 L449.45,274.51 L450.01,274.30 L450.56,274.01 L451.12,273.55 L451.68,273.09 L452.23,272.70 L452.79,272.21 L453.34,271.84 L453.90,271.74 L454.46,271.66 L455.01,271.28 L455.57,270.79 L456.12,270.58 L456.68,270.42 L457.24,270.13 L457.79,269.84 L458.35,269.55 L458.90,269.11 L459.46,268.82 L460.02,268.68 L460.57,268.56 L461.13,268.52 L461.68,268.14 L462.24,267.51 L462.80,267.16 L463.35,267.19 L463.91,267.09 L464.46,266.72 L465.02,266.43 L465.58,266.26 L466.13,265.95 L466.69,265.64 L467.24,265.64 L467.80,265.58 L468.36,265.15 L468.91,264.66 L469.47,264.46 L470.02,264.49 L470.58,264.40 L471.14,263.91 L471.69,263.37 L472.25,263.23 L472.80,263.34 L473.36,263.45 L473.92,263.27 L474.47,262.85 L475.03,262.47 L475.58,262.35 L476.14,262.34 L476.70,262.36 L477.25,262.24 L477.81,261.90 L478.36,261.74 L478.92,261.60 L479.48,261.39 L480.03,261.08 L480.59,260.74 L481.14,260.37 L481.70,260.09 L482.26,260.01 L482.81,259.81 L483.37,259.52 L483.92,259.32 L484.48,258.99 L485.04,258.57 L485.59,258.45 L486.15,258.48 L486.70,258.36 L487.26,258.18 L487.82,257.99 L488.37,257.78 L488.93,257.43 L489.48,257.14 L490.04,256.97 L490.60,256.84 L491.15,256.73 L491.71,256.60 L492.26,256.32 L492.82,256.02 L493.38,255.90 L493.93,255.83 L494.49,255.71 L495.04,255.66 L495.60,255.57 L496.16,255.38 L496.71,255.13 L497.27,254.80 L497.82,254.46 L498.38,254.26 L498.94,254.26 L499.49,254.22 L500.05,254.01 L500.60,253.90 L501.16,254.02 L501.72,253.98 L502.27,253.62 L502.83,253.28 L503.38,253.26 L503.94,253.24 L504.50,253.17 L505.05,253.23 L505.61,253.13 L506.16,252.80 L506.72,252.54 L507.28,252.52 L507.83,252.55 L508.39,252.38 L508.94,252.05 L509.50,251.86 L510.06,251.67 L510.61,251.47 L511.17,251.18 L511.72,251.01 L512.28,251.04 L512.84,250.86 L513.39,250.57 L513.95,250.39 L514.50,250.29 L515.06,250.13 L515.62,250.08 L516.17,249.95 L516.73,249.57 L517.28,249.29 L517.84,249.22 L518.40,248.58 L518.95,248.07 L519.51,247.88 L520.06,247.96 L520.62,247.46 L521.18,247.15 L521.73,247.43 L522.29,247.42 L522.84,247.20 L523.40,246.97 L523.96,247.10 L524.51,247.66 L525.07,247.92 L525.62,247.77 L526.18,247.15 L526.74,246.72 L527.29,247.03 L527.85,247.21 L528.40,246.93 L528.96,246.55 L529.52,246.39 L530.07,245.51 L530.63,244.79 L531.18,246.33 L531.74,246.64 L532.30,244.09 L532.85,243.41 L533.41,244.87 L533.96,239.79 L534.52,241.05 L535.08,247.15 L535.63,245.42 L536.19,243.36 L536.74,245.44 L537.30,245.69 L537.86,244.85 L538.41,245.94 L538.97,247.22 L539.52,248.53 L540.08,249.91 L540.64,251.32 L541.19,252.81 L541.75,254.12 L542.30,255.67 L542.86,257.68 L543.42,259.67 L543.97,260.93" fill="none" stroke="#f00080" stroke-width="1.5" stroke-linejoin="round"/>
<rect x="544.00" y="261.32" width="5.00" height="17.07" fill="#f00080"/>
<path d="M384.40,371.09 L384.96,371.22 L385.51,371.23 L386.07,371.19 L386.62,371.16 L387.18,371.19 L387.74,371.22 L388.29,371.19 L388.85,371.12 L389.40,371.23 L389.96,371.46 L390.52,370.74 L391.07,369.63 L391.63,368.63 L392.18,367.77 L392.74,366.88 L393.30,366.06 L393.85,365.19 L394.41,364.07 L394.96,362.75 L395.52,361.62 L396.08,360.71 L396.63,359.52 L397.19,357.95 L397.74,356.40 L398.30,355.04 L398.86,353.61 L399.41,351.85 L399.97,350.03 L400.52,348.24 L401.08,346.41 L401.64,344.58 L402.19,342.76 L402.75,340.96 L403.30,339.09 L403.86,337.20 L404.42,335.54 L404.97,333.94 L405.53,332.47 L406.08,331.22 L406.64,329.98 L407.20,328.74 L407.75,327.53 L408.31,326.28 L408.86,325.00 L409.42,323.95 L409.98,323.00 L410.53,321.98 L411.09,321.07 L411.64,320.09 L412.20,318.93 L412.76,317.90 L413.31,316.95 L413.87,315.88 L414.42,314.88 L414.98,313.93 L415.54,312.94 L416.09,311.98 L416.65,311.04 L417.20,310.23 L417.76,309.61 L418.32,308.88 L418.87,307.61 L419.43,306.28 L419.98,305.37 L420.54,304.55 L421.10,303.68 L421.65,302.64 L422.21,301.22 L422.76,299.82 L423.32,298.85 L423.88,298.20 L424.43,297.42 L424.99,296.35 L425.54,295.19 L426.10,294.09 L426.66,292.71 L427.21,291.94 L427.77,291.36 L428.32,290.20 L428.88,288.52 L429.44,287.13 L429.99,286.00 L430.55,284.92 L431.10,284.15 L431.66,283.37 L432.22,282.38 L432.77,281.65 L433.33,281.06 L433.88,279.96 L434.44,278.96 L435.00,278.37 L435.55,277.50 L436.11,276.42 L436.66,275.74 L437.22,275.09 L437.78,274.43 L438.33,273.91 L438.89,273.56 L439.44,274.10 L440.00,274.91 L440.56,275.45 L441.11,275.75 L441.67,276.07 L442.22,276.60 L442.78,277.54 L443.34,278.29 L443.89,278.53 L444.45,279.22" fill="none" stroke="#800080" stroke-width="1.6" stroke-linejoin="round"/>
<rect x="444.70" y="280.34" width="5.81" height="16.23" fill="#800080"/>
<path d="M384.40,370.96 L384.96,371.13 L385.51,371.48 L386.07,371.86 L386.62,371.99 L387.18,371.98 L387.74,372.04 L388.29,372.04 L388.85,371.74 L389.40,371.34 L389.96,371.41 L390.52,371.08 L391.07,370.63 L391.63,370.16 L392.18,369.60 L392.74,368.75 L393.30,367.87 L393.85,367.14 L394.41,366.42 L394.96,365.63 L395.52,364.92 L396.08,364.37 L396.63,363.60 L397.19,362.40 L397.74,361.09 L398.30,359.93 L398.86,358.88 L399.41,357.70 L399.97,356.41 L400.52,355.15 L401.08,353.90 L401.64,352.53 L402.19,351.20 L402.75,350.01 L403.30,348.77 L403.86,347.48 L404.42,346.15 L404.97,344.76 L405.53,343.20 L406.08,341.50 L406.64,339.95 L407.20,338.53 L407.75,337.03 L408.31,335.38 L408.86,333.69 L409.42,332.24 L409.98,330.92 L410.53,329.59 L411.09,328.28 L411.64,326.77 L412.20,325.02 L412.76,323.22 L413.31,321.50 L413.87,319.79 L414.42,318.01 L414.98,316.19 L415.54,314.24 L416.09,312.08 L416.65,309.85 L417.20,307.72 L417.76,305.66 L418.32,303.78 L418.87,302.39 L419.43,301.20 L419.98,299.59 L420.54,297.78 L421.10,296.21 L421.65,294.69 L422.21,293.08 L422.76,291.21 L423.32,288.63 L423.88,285.82 L424.43,283.53 L424.99,281.10 L425.54,278.90 L426.10,277.20 L426.66,275.61 L427.21,273.91 L427.77,272.37 L428.32,270.85 L428.88,269.05 L429.44,267.33 L429.99,265.85 L430.55,264.31 L431.10,262.79 L431.66,261.39 L432.22,260.06 L432.77,258.84 L433.33,257.77 L433.88,256.90 L434.44,256.34 L435.00,256.02 L435.55,255.65 L436.11,255.18 L436.66,254.70 L437.22,254.28 L437.78,254.11 L438.33,254.08 L438.89,254.27 L439.44,254.51 L440.00,254.71 L440.56,255.07 L441.11,255.56 L441.67,256.07 L442.22,256.54 L442.78,256.85 L443.34,257.22 L443.89,257.72 L444.45,258.01 L445.00,258.56 L445.56,259.30 L446.12,259.86 L446.67,260.59 L447.23,261.83 L447.78,263.19 L448.34,263.87 L448.90,264.26 L449.45,264.69 L450.01,265.13 L450.56,265.57 L451.12,266.04 L451.68,266.60 L452.23,267.26 L452.79,267.92 L453.34,268.40 L453.90,268.84 L454.46,269.36 L455.01,270.06 L455.57,270.78 L456.12,271.59 L456.68,272.61 L457.24,273.62 L457.79,274.49 L458.35,275.39 L458.90,276.54" fill="none" stroke="#10eef4" stroke-width="1.6" stroke-linejoin="round"/>
<rect x="458.99" y="276.45" width="4.73" height="18.17" fill="#10eef4"/>
<path d="M384.40,371.93 L384.96,372.20 L385.51,372.21 L386.07,372.15 L386.62,371.56 L387.18,370.98 L387.74,370.82 L388.29,370.97 L388.85,370.99 L389.40,371.11 L389.96,371.26 L390.52,369.46 L391.07,367.66 L391.63,365.81 L392.18,363.75 L392.74,361.55 L393.30,359.07 L393.85,356.78 L394.41,354.96 L394.96,353.07 L395.52,351.20 L396.08,349.08 L396.63,346.70 L397.19,344.44 L397.74,342.30 L398.30,340.37 L398.86,338.64 L399.41,336.65 L399.97,334.26 L400.52,331.79 L401.08,329.54 L401.64,327.21 L402.19,324.13 L402.75,320.91 L403.30,317.98 L403.86,315.14 L404.42,312.33 L404.97,309.50 L405.53,306.68 L406.08,304.32 L406.64,302.18 L407.20,300.01 L407.75,297.99 L408.31,296.41 L408.86,295.40 L409.42,294.65 L409.98,294.40 L410.53,293.24 L411.09,291.92 L411.64,290.09 L412.20,285.61 L412.76,282.95 L413.31,281.88 L413.87,281.28 L414.42,280.72 L414.98,280.38 L415.54,280.09 L416.09,279.83 L416.65,279.53 L417.20,279.85 L417.76,280.62 L418.32,280.87 L418.87,280.40 L419.43,280.19 L419.98,280.35 L420.54,280.16 L421.10,279.80 L421.65,279.66 L422.21,279.56 L422.76,278.58 L423.32,277.40 L423.88,277.32 L424.43,277.58 L424.99,277.60 L425.54,277.81 L426.10,277.88 L426.66,278.08 L427.21,278.19 L427.77,277.60 L428.32,277.52 L428.88,278.76 L429.44,279.40 L429.99,279.36 L430.55,280.17 L431.10,281.15 L431.66,281.91 L432.22,282.42 L432.77,282.90 L433.33,283.86 L433.88,284.54 L434.44,284.48 L435.00,284.20 L435.55,284.52 L436.11,285.46 L436.66,286.23 L437.22,287.27 L437.78,288.94 L438.33,291.02 L438.89,293.53" fill="none" stroke="#fcfc00" stroke-width="2.6" stroke-linejoin="round"/>
<rect x="439.00" y="292.67" width="4.81" height="19.15" fill="#fcfc00"/>
<path d="M384.40,371.35 L384.96,371.59 L385.51,371.80 L386.07,371.78 L386.62,371.57 L387.18,371.07 L387.74,370.73 L388.29,370.66 L388.85,370.76 L389.40,371.16 L389.96,371.07 L390.52,369.67 L391.07,367.82 L391.63,365.74 L392.18,363.61 L392.74,361.35 L393.30,358.73 L393.85,355.36 L394.41,351.63 L394.96,347.76 L395.52,343.55 L396.08,339.40 L396.63,335.69 L397.19,331.92 L397.74,327.95 L398.30,324.42 L398.86,321.73 L399.41,319.61 L399.97,317.74 L400.52,316.28 L401.08,315.22 L401.64,314.59 L402.19,313.94 L402.75,313.04 L403.30,312.30 L403.86,312.06 L404.42,312.40 L404.97,312.87 L405.53,313.47" fill="none" stroke="#808000" stroke-width="1.7" stroke-linejoin="round"/>
<rect x="405.81" y="308.25" width="5.70" height="19.47" fill="#808000"/>
</g>
<rect x="384.40" y="228.80" width="282.90" height="155.50" fill="none" stroke="#b4b4b4" stroke-width="1.3"/>
<line x1="384.40" y1="384.30" x2="384.40" y2="387.50" stroke="#7a7a7a" stroke-width="1"/>
<line x1="412.20" y1="384.30" x2="412.20" y2="386.10" stroke="#7a7a7a" stroke-width="1"/>
<line x1="440.00" y1="384.30" x2="440.00" y2="387.50" stroke="#7a7a7a" stroke-width="1"/>
<line x1="467.80" y1="384.30" x2="467.80" y2="386.10" stroke="#7a7a7a" stroke-width="1"/>
<line x1="495.60" y1="384.30" x2="495.60" y2="387.50" stroke="#7a7a7a" stroke-width="1"/>
<line x1="523.40" y1="384.30" x2="523.40" y2="386.10" stroke="#7a7a7a" stroke-width="1"/>
<line x1="551.20" y1="384.30" x2="551.20" y2="387.50" stroke="#7a7a7a" stroke-width="1"/>
<line x1="579.00" y1="384.30" x2="579.00" y2="386.10" stroke="#7a7a7a" stroke-width="1"/>
<line x1="606.80" y1="384.30" x2="606.80" y2="387.50" stroke="#7a7a7a" stroke-width="1"/>
<line x1="634.60" y1="384.30" x2="634.60" y2="386.10" stroke="#7a7a7a" stroke-width="1"/>
<line x1="662.40" y1="384.30" x2="662.40" y2="387.50" stroke="#7a7a7a" stroke-width="1"/>
<line x1="381.20" y1="371.20" x2="384.40" y2="371.20" stroke="#7a7a7a" stroke-width="1"/>
<line x1="382.60" y1="354.97" x2="384.40" y2="354.97" stroke="#7a7a7a" stroke-width="1"/>
<line x1="381.20" y1="338.75" x2="384.40" y2="338.75" stroke="#7a7a7a" stroke-width="1"/>
<line x1="382.60" y1="322.52" x2="384.40" y2="322.52" stroke="#7a7a7a" stroke-width="1"/>
<line x1="381.20" y1="306.30" x2="384.40" y2="306.30" stroke="#7a7a7a" stroke-width="1"/>
<line x1="382.60" y1="290.07" x2="384.40" y2="290.07" stroke="#7a7a7a" stroke-width="1"/>
<line x1="381.20" y1="273.85" x2="384.40" y2="273.85" stroke="#7a7a7a" stroke-width="1"/>
<line x1="382.60" y1="257.62" x2="384.40" y2="257.62" stroke="#7a7a7a" stroke-width="1"/>
<line x1="381.20" y1="241.40" x2="384.40" y2="241.40" stroke="#7a7a7a" stroke-width="1"/>
<line x1="664.10" y1="371.20" x2="667.30" y2="371.20" stroke="#7a7a7a" stroke-width="1"/>
<line x1="665.50" y1="354.97" x2="667.30" y2="354.97" stroke="#7a7a7a" stroke-width="1"/>
<line x1="664.10" y1="338.75" x2="667.30" y2="338.75" stroke="#7a7a7a" stroke-width="1"/>
<line x1="665.50" y1="322.52" x2="667.30" y2="322.52" stroke="#7a7a7a" stroke-width="1"/>
<line x1="664.10" y1="306.30" x2="667.30" y2="306.30" stroke="#7a7a7a" stroke-width="1"/>
<line x1="665.50" y1="290.07" x2="667.30" y2="290.07" stroke="#7a7a7a" stroke-width="1"/>
<line x1="664.10" y1="273.85" x2="667.30" y2="273.85" stroke="#7a7a7a" stroke-width="1"/>
<line x1="665.50" y1="257.62" x2="667.30" y2="257.62" stroke="#7a7a7a" stroke-width="1"/>
<line x1="664.10" y1="241.40" x2="667.30" y2="241.40" stroke="#7a7a7a" stroke-width="1"/>
<text x="383.10" y="398.10" font-family='"Liberation Sans", sans-serif' font-size="9.6" fill="#1e1e1e" text-anchor="middle" textLength="5.0" lengthAdjust="spacingAndGlyphs" >0</text>
<text x="438.70" y="398.10" font-family='"Liberation Sans", sans-serif' font-size="9.6" fill="#1e1e1e" text-anchor="middle" textLength="20.02" lengthAdjust="spacingAndGlyphs" >2000</text>
<text x="494.30" y="398.10" font-family='"Liberation Sans", sans-serif' font-size="9.6" fill="#1e1e1e" text-anchor="middle" textLength="20.02" lengthAdjust="spacingAndGlyphs" >4000</text>
<text x="549.90" y="398.10" font-family='"Liberation Sans", sans-serif' font-size="9.6" fill="#1e1e1e" text-anchor="middle" textLength="20.02" lengthAdjust="spacingAndGlyphs" >6000</text>
<text x="605.50" y="398.10" font-family='"Liberation Sans", sans-serif' font-size="9.6" fill="#1e1e1e" text-anchor="middle" textLength="20.02" lengthAdjust="spacingAndGlyphs" >8000</text>
<text x="661.10" y="398.10" font-family='"Liberation Sans", sans-serif' font-size="9.6" fill="#1e1e1e" text-anchor="middle" textLength="25.02" lengthAdjust="spacingAndGlyphs" >10000</text>
<text x="377.60" y="374.55" font-family='"Liberation Sans", sans-serif' font-size="9.6" fill="#1e1e1e" text-anchor="end" textLength="5.06" lengthAdjust="spacingAndGlyphs" >0</text>
<text x="377.60" y="342.10" font-family='"Liberation Sans", sans-serif' font-size="9.6" fill="#1e1e1e" text-anchor="end" textLength="10.12" lengthAdjust="spacingAndGlyphs" >50</text>
<text x="377.60" y="309.65" font-family='"Liberation Sans", sans-serif' font-size="9.6" fill="#1e1e1e" text-anchor="end" textLength="15.18" lengthAdjust="spacingAndGlyphs" >100</text>
<text x="377.60" y="277.20" font-family='"Liberation Sans", sans-serif' font-size="9.6" fill="#1e1e1e" text-anchor="end" textLength="15.18" lengthAdjust="spacingAndGlyphs" >150</text>
<text x="377.60" y="244.75" font-family='"Liberation Sans", sans-serif' font-size="9.6" fill="#1e1e1e" text-anchor="end" textLength="15.18" lengthAdjust="spacingAndGlyphs" >200</text>
<rect x="511.80" y="311.80" width="143.70" height="70.00" fill="#fff" stroke="#b4b4b4" stroke-width="1.1"/>
<line x1="514.90" y1="318.30" x2="535.40" y2="318.30" stroke="#909090" stroke-width="1.6"/>
<text x="537.60" y="321.50" font-family='"Liberation Sans", sans-serif' font-size="9.2" fill="#1e1e1e" text-anchor="start" textLength="29.3" lengthAdjust="spacingAndGlyphs" >(20,&#160;&#160;9)</text>
<text x="653.20" y="321.50" font-family='"Liberation Sans", sans-serif' font-size="9.0" fill="#1e1e1e" text-anchor="end" >192GHz&#160;@&#160;6361ps</text>
<line x1="514.90" y1="329.20" x2="535.40" y2="329.20" stroke="#e82888" stroke-width="1.6"/>
<text x="537.60" y="332.40" font-family='"Liberation Sans", sans-serif' font-size="9.2" fill="#1e1e1e" text-anchor="start" textLength="29.3" lengthAdjust="spacingAndGlyphs" >(19,10)</text>
<text x="653.20" y="332.40" font-family='"Liberation Sans", sans-serif' font-size="9.0" fill="#1e1e1e" text-anchor="end" >188GHz&#160;@&#160;5074ps</text>
<line x1="514.90" y1="340.00" x2="535.40" y2="340.00" stroke="#782078" stroke-width="1.6"/>
<text x="537.60" y="343.20" font-family='"Liberation Sans", sans-serif' font-size="9.2" fill="#1e1e1e" text-anchor="start" textLength="29.3" lengthAdjust="spacingAndGlyphs" >(16,13)</text>
<text x="653.20" y="343.20" font-family='"Liberation Sans", sans-serif' font-size="9.0" fill="#1e1e1e" text-anchor="end" >151GHz&#160;@&#160;2002ps</text>
<line x1="514.90" y1="351.00" x2="535.40" y2="351.00" stroke="#30e8f0" stroke-width="1.6"/>
<text x="537.60" y="354.20" font-family='"Liberation Sans", sans-serif' font-size="9.2" fill="#1e1e1e" text-anchor="start" textLength="29.3" lengthAdjust="spacingAndGlyphs" >(20,&#160;&#160;8)</text>
<text x="653.20" y="354.20" font-family='"Liberation Sans", sans-serif' font-size="9.0" fill="#1e1e1e" text-anchor="end" >180GHz&#160;@&#160;1960ps</text>
<line x1="514.90" y1="362.30" x2="535.40" y2="362.30" stroke="#fafa40" stroke-width="1.6"/>
<text x="537.60" y="365.50" font-family='"Liberation Sans", sans-serif' font-size="9.2" fill="#1e1e1e" text-anchor="start" textLength="29.3" lengthAdjust="spacingAndGlyphs" >(23,&#160;&#160;3)</text>
<text x="653.20" y="365.50" font-family='"Liberation Sans", sans-serif' font-size="9.0" fill="#1e1e1e" text-anchor="end" >145GHz&#160;@&#160;1356ps</text>
<line x1="514.90" y1="373.20" x2="535.40" y2="373.20" stroke="#808020" stroke-width="1.6"/>
<text x="537.60" y="376.40" font-family='"Liberation Sans", sans-serif' font-size="9.2" fill="#1e1e1e" text-anchor="start" textLength="29.3" lengthAdjust="spacingAndGlyphs" >(17,11)</text>
<text x="653.20" y="376.40" font-family='"Liberation Sans", sans-serif' font-size="9.0" fill="#1e1e1e" text-anchor="end" >90GHz&#160;@&#160;&#160;&#160;711ps</text>
<text x="588.40" y="306.80" font-family='"Liberation Sans", sans-serif' font-size="10.4" fill="#1e1e1e" text-anchor="start" textLength="51.6" lengthAdjust="spacingAndGlyphs" >Peak value</text>
<text x="496.10" y="223.30" font-family='"Liberation Sans", sans-serif' font-size="11.6" fill="#1e1e1e">(d) <tspan font-family='"Liberation Serif", serif' font-style="italic" font-size="12.8">ω</tspan><tspan font-size="7.7" dy="2.6">2</tspan><tspan dy="-2.6">=200GHz</tspan></text>
<text transform="translate(358.00,323.50) rotate(-90)" font-family='"Liberation Sans", sans-serif' font-size="12" fill="#1e1e1e"><tspan font-family='"Liberation Serif", serif' font-style="italic" font-size="13.2">ω</tspan><tspan font-size="7.8" dy="2.4">1</tspan><tspan dy="-2.4">(GHz)</tspan></text>
<text x="503.00" y="409.40" font-family='"Liberation Sans", sans-serif' font-size="11.1" fill="#1e1e1e" text-anchor="start" textLength="48.6" lengthAdjust="spacingAndGlyphs" >Time (ps)</text>
</svg></body></html>
